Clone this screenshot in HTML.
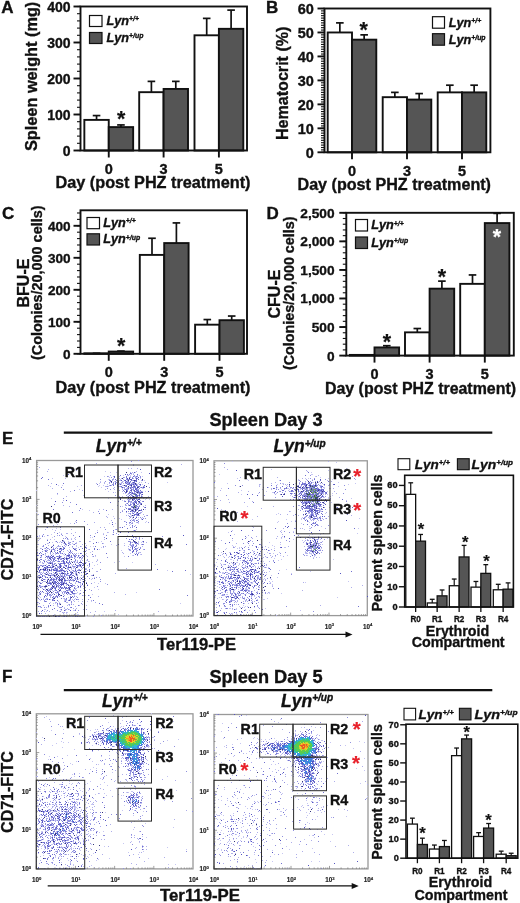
<!DOCTYPE html>
<html><head><meta charset="utf-8"><title>Figure</title>
<style>html,body{margin:0;padding:0;background:#fff}svg{display:block}text{font-family:'Liberation Sans', Arial, Helvetica, sans-serif;font-weight:bold;stroke:#111;stroke-width:.35px}.t2{stroke:#222;stroke-width:.15px}</style>
</head><body>
<svg width="520" height="903" viewBox="0 0 520 903">
<rect width="520" height="903" fill="#fff"/>
<defs><filter id="soft" x="-2%" y="-2%" width="104%" height="104%"><feGaussianBlur stdDeviation="0.5"/></filter></defs>
<g fill="#111">
<text x="1.2" y="13.4" font-size="17">A</text>
<text x="37.3" y="76.4" font-size="16" text-anchor="middle" transform="rotate(-90 37.3 76.4)" textLength="149.3" lengthAdjust="spacingAndGlyphs">Spleen weight (mg)</text>
<line x1="77" y1="150.5" x2="80.5" y2="150.5" stroke="#111" stroke-width="1.1"/>
<line x1="77" y1="143.3" x2="80.5" y2="143.3" stroke="#111" stroke-width="1.1"/>
<line x1="77" y1="136.1" x2="80.5" y2="136.1" stroke="#111" stroke-width="1.1"/>
<line x1="77" y1="128.9" x2="80.5" y2="128.9" stroke="#111" stroke-width="1.1"/>
<line x1="77" y1="121.7" x2="80.5" y2="121.7" stroke="#111" stroke-width="1.1"/>
<line x1="77" y1="114.5" x2="80.5" y2="114.5" stroke="#111" stroke-width="1.1"/>
<line x1="77" y1="107.3" x2="80.5" y2="107.3" stroke="#111" stroke-width="1.1"/>
<line x1="77" y1="100.1" x2="80.5" y2="100.1" stroke="#111" stroke-width="1.1"/>
<line x1="77" y1="92.9" x2="80.5" y2="92.9" stroke="#111" stroke-width="1.1"/>
<line x1="77" y1="85.7" x2="80.5" y2="85.7" stroke="#111" stroke-width="1.1"/>
<line x1="77" y1="78.5" x2="80.5" y2="78.5" stroke="#111" stroke-width="1.1"/>
<line x1="77" y1="71.3" x2="80.5" y2="71.3" stroke="#111" stroke-width="1.1"/>
<line x1="77" y1="64.1" x2="80.5" y2="64.1" stroke="#111" stroke-width="1.1"/>
<line x1="77" y1="56.9" x2="80.5" y2="56.9" stroke="#111" stroke-width="1.1"/>
<line x1="77" y1="49.7" x2="80.5" y2="49.7" stroke="#111" stroke-width="1.1"/>
<line x1="77" y1="42.5" x2="80.5" y2="42.5" stroke="#111" stroke-width="1.1"/>
<line x1="77" y1="35.3" x2="80.5" y2="35.3" stroke="#111" stroke-width="1.1"/>
<line x1="77" y1="28.1" x2="80.5" y2="28.1" stroke="#111" stroke-width="1.1"/>
<line x1="77" y1="20.9" x2="80.5" y2="20.9" stroke="#111" stroke-width="1.1"/>
<line x1="77" y1="13.7" x2="80.5" y2="13.7" stroke="#111" stroke-width="1.1"/>
<line x1="77" y1="6.5" x2="80.5" y2="6.5" stroke="#111" stroke-width="1.1"/>
<line x1="73.5" y1="150.5" x2="80.5" y2="150.5" stroke="#111" stroke-width="1.9"/>
<text x="70.6" y="155.54" font-size="14" text-anchor="end">0</text>
<line x1="73.5" y1="114.5" x2="80.5" y2="114.5" stroke="#111" stroke-width="1.9"/>
<text x="70.6" y="119.54" font-size="14" text-anchor="end">100</text>
<line x1="73.5" y1="78.5" x2="80.5" y2="78.5" stroke="#111" stroke-width="1.9"/>
<text x="70.6" y="83.54" font-size="14" text-anchor="end">200</text>
<line x1="73.5" y1="42.5" x2="80.5" y2="42.5" stroke="#111" stroke-width="1.9"/>
<text x="70.6" y="47.54" font-size="14" text-anchor="end">300</text>
<line x1="73.5" y1="6.5" x2="80.5" y2="6.5" stroke="#111" stroke-width="1.9"/>
<text x="70.6" y="11.54" font-size="14" text-anchor="end">400</text>
<line x1="96.55" y1="115.58" x2="96.55" y2="119.9" stroke="#111" stroke-width="1.7"/>
<line x1="92.75" y1="115.58" x2="100.35" y2="115.58" stroke="#111" stroke-width="1.7"/>
<rect x="84.35" y="119.9" width="24.4" height="30.6" fill="#fff" stroke="#111" stroke-width="1.9"/>
<line x1="120.95" y1="124.94" x2="120.95" y2="127.1" stroke="#111" stroke-width="1.7"/>
<line x1="117.15" y1="124.94" x2="124.75" y2="124.94" stroke="#111" stroke-width="1.7"/>
<rect x="108.75" y="127.1" width="24.4" height="23.4" fill="#555555" stroke="#111" stroke-width="1.9"/>
<line x1="151.4" y1="81.38" x2="151.4" y2="92.18" stroke="#111" stroke-width="1.7"/>
<line x1="147.6" y1="81.38" x2="155.2" y2="81.38" stroke="#111" stroke-width="1.7"/>
<rect x="139.2" y="92.18" width="24.4" height="58.32" fill="#fff" stroke="#111" stroke-width="1.9"/>
<line x1="175.8" y1="81.38" x2="175.8" y2="88.94" stroke="#111" stroke-width="1.7"/>
<line x1="172" y1="81.38" x2="179.6" y2="81.38" stroke="#111" stroke-width="1.7"/>
<rect x="163.6" y="88.94" width="24.4" height="61.56" fill="#555555" stroke="#111" stroke-width="1.9"/>
<line x1="206.7" y1="18.38" x2="206.7" y2="35.3" stroke="#111" stroke-width="1.7"/>
<line x1="202.9" y1="18.38" x2="210.5" y2="18.38" stroke="#111" stroke-width="1.7"/>
<rect x="194.5" y="35.3" width="24.4" height="115.2" fill="#fff" stroke="#111" stroke-width="1.9"/>
<line x1="231.1" y1="10.1" x2="231.1" y2="28.82" stroke="#111" stroke-width="1.7"/>
<line x1="227.3" y1="10.1" x2="234.9" y2="10.1" stroke="#111" stroke-width="1.7"/>
<rect x="218.9" y="28.82" width="24.4" height="121.68" fill="#555555" stroke="#111" stroke-width="1.9"/>
<rect x="80.5" y="6.5" width="166.5" height="144" fill="none" stroke="#111" stroke-width="1.9"/>
<line x1="108.75" y1="150.5" x2="108.75" y2="157.5" stroke="#111" stroke-width="1.9"/>
<text x="108.75" y="173.8" font-size="14.5" text-anchor="middle">0</text>
<line x1="163.6" y1="150.5" x2="163.6" y2="157.5" stroke="#111" stroke-width="1.9"/>
<text x="163.6" y="173.8" font-size="14.5" text-anchor="middle">3</text>
<line x1="218.9" y1="150.5" x2="218.9" y2="157.5" stroke="#111" stroke-width="1.9"/>
<text x="218.9" y="173.8" font-size="14.5" text-anchor="middle">5</text>
<text x="121.25" y="125.95" font-size="21.47" text-anchor="middle" style="stroke:#111;stroke-width:.2px">*</text>
<rect x="89.5" y="15.5" width="12.5" height="11" fill="#fff" stroke="#111" stroke-width="1.2"/>
<rect x="89.5" y="32.5" width="12.5" height="11" fill="#555555" stroke="#111" stroke-width="1.2"/>
<text x="106.5" y="24.9" font-size="12.7" font-style="italic">Lyn<tspan font-size="6.86" dy="-3.81">+/+</tspan></text>
<text x="106.5" y="41.9" font-size="12.7" font-style="italic">Lyn<tspan font-size="6.86" dy="-3.81">+/up</tspan></text>
<text x="55.5" y="188.3" font-size="16" textLength="195" lengthAdjust="spacingAndGlyphs">Day (post PHZ treatment)</text>
<text x="266" y="13.2" font-size="17">B</text>
<text x="288.2" y="83.3" font-size="16" text-anchor="middle" transform="rotate(-90 288.2 83.3)" textLength="113.4" lengthAdjust="spacingAndGlyphs">Hematocrit (%)</text>
<line x1="321" y1="152.3" x2="324.5" y2="152.3" stroke="#111" stroke-width="1.1"/>
<line x1="321" y1="149.9" x2="324.5" y2="149.9" stroke="#111" stroke-width="1.1"/>
<line x1="321" y1="147.51" x2="324.5" y2="147.51" stroke="#111" stroke-width="1.1"/>
<line x1="321" y1="145.11" x2="324.5" y2="145.11" stroke="#111" stroke-width="1.1"/>
<line x1="321" y1="142.71" x2="324.5" y2="142.71" stroke="#111" stroke-width="1.1"/>
<line x1="321" y1="140.32" x2="324.5" y2="140.32" stroke="#111" stroke-width="1.1"/>
<line x1="321" y1="137.92" x2="324.5" y2="137.92" stroke="#111" stroke-width="1.1"/>
<line x1="321" y1="135.52" x2="324.5" y2="135.52" stroke="#111" stroke-width="1.1"/>
<line x1="321" y1="133.13" x2="324.5" y2="133.13" stroke="#111" stroke-width="1.1"/>
<line x1="321" y1="130.73" x2="324.5" y2="130.73" stroke="#111" stroke-width="1.1"/>
<line x1="321" y1="128.33" x2="324.5" y2="128.33" stroke="#111" stroke-width="1.1"/>
<line x1="321" y1="125.94" x2="324.5" y2="125.94" stroke="#111" stroke-width="1.1"/>
<line x1="321" y1="123.54" x2="324.5" y2="123.54" stroke="#111" stroke-width="1.1"/>
<line x1="321" y1="121.14" x2="324.5" y2="121.14" stroke="#111" stroke-width="1.1"/>
<line x1="321" y1="118.75" x2="324.5" y2="118.75" stroke="#111" stroke-width="1.1"/>
<line x1="321" y1="116.35" x2="324.5" y2="116.35" stroke="#111" stroke-width="1.1"/>
<line x1="321" y1="113.95" x2="324.5" y2="113.95" stroke="#111" stroke-width="1.1"/>
<line x1="321" y1="111.56" x2="324.5" y2="111.56" stroke="#111" stroke-width="1.1"/>
<line x1="321" y1="109.16" x2="324.5" y2="109.16" stroke="#111" stroke-width="1.1"/>
<line x1="321" y1="106.76" x2="324.5" y2="106.76" stroke="#111" stroke-width="1.1"/>
<line x1="321" y1="104.37" x2="324.5" y2="104.37" stroke="#111" stroke-width="1.1"/>
<line x1="321" y1="101.97" x2="324.5" y2="101.97" stroke="#111" stroke-width="1.1"/>
<line x1="321" y1="99.57" x2="324.5" y2="99.57" stroke="#111" stroke-width="1.1"/>
<line x1="321" y1="97.18" x2="324.5" y2="97.18" stroke="#111" stroke-width="1.1"/>
<line x1="321" y1="94.78" x2="324.5" y2="94.78" stroke="#111" stroke-width="1.1"/>
<line x1="321" y1="92.38" x2="324.5" y2="92.38" stroke="#111" stroke-width="1.1"/>
<line x1="321" y1="89.99" x2="324.5" y2="89.99" stroke="#111" stroke-width="1.1"/>
<line x1="321" y1="87.59" x2="324.5" y2="87.59" stroke="#111" stroke-width="1.1"/>
<line x1="321" y1="85.19" x2="324.5" y2="85.19" stroke="#111" stroke-width="1.1"/>
<line x1="321" y1="82.8" x2="324.5" y2="82.8" stroke="#111" stroke-width="1.1"/>
<line x1="321" y1="80.4" x2="324.5" y2="80.4" stroke="#111" stroke-width="1.1"/>
<line x1="321" y1="78" x2="324.5" y2="78" stroke="#111" stroke-width="1.1"/>
<line x1="321" y1="75.61" x2="324.5" y2="75.61" stroke="#111" stroke-width="1.1"/>
<line x1="321" y1="73.21" x2="324.5" y2="73.21" stroke="#111" stroke-width="1.1"/>
<line x1="321" y1="70.81" x2="324.5" y2="70.81" stroke="#111" stroke-width="1.1"/>
<line x1="321" y1="68.42" x2="324.5" y2="68.42" stroke="#111" stroke-width="1.1"/>
<line x1="321" y1="66.02" x2="324.5" y2="66.02" stroke="#111" stroke-width="1.1"/>
<line x1="321" y1="63.62" x2="324.5" y2="63.62" stroke="#111" stroke-width="1.1"/>
<line x1="321" y1="61.23" x2="324.5" y2="61.23" stroke="#111" stroke-width="1.1"/>
<line x1="321" y1="58.83" x2="324.5" y2="58.83" stroke="#111" stroke-width="1.1"/>
<line x1="321" y1="56.43" x2="324.5" y2="56.43" stroke="#111" stroke-width="1.1"/>
<line x1="321" y1="54.04" x2="324.5" y2="54.04" stroke="#111" stroke-width="1.1"/>
<line x1="321" y1="51.64" x2="324.5" y2="51.64" stroke="#111" stroke-width="1.1"/>
<line x1="321" y1="49.24" x2="324.5" y2="49.24" stroke="#111" stroke-width="1.1"/>
<line x1="321" y1="46.85" x2="324.5" y2="46.85" stroke="#111" stroke-width="1.1"/>
<line x1="321" y1="44.45" x2="324.5" y2="44.45" stroke="#111" stroke-width="1.1"/>
<line x1="321" y1="42.05" x2="324.5" y2="42.05" stroke="#111" stroke-width="1.1"/>
<line x1="321" y1="39.66" x2="324.5" y2="39.66" stroke="#111" stroke-width="1.1"/>
<line x1="321" y1="37.26" x2="324.5" y2="37.26" stroke="#111" stroke-width="1.1"/>
<line x1="321" y1="34.86" x2="324.5" y2="34.86" stroke="#111" stroke-width="1.1"/>
<line x1="321" y1="32.47" x2="324.5" y2="32.47" stroke="#111" stroke-width="1.1"/>
<line x1="321" y1="30.07" x2="324.5" y2="30.07" stroke="#111" stroke-width="1.1"/>
<line x1="321" y1="27.67" x2="324.5" y2="27.67" stroke="#111" stroke-width="1.1"/>
<line x1="321" y1="25.28" x2="324.5" y2="25.28" stroke="#111" stroke-width="1.1"/>
<line x1="321" y1="22.88" x2="324.5" y2="22.88" stroke="#111" stroke-width="1.1"/>
<line x1="321" y1="20.48" x2="324.5" y2="20.48" stroke="#111" stroke-width="1.1"/>
<line x1="321" y1="18.09" x2="324.5" y2="18.09" stroke="#111" stroke-width="1.1"/>
<line x1="321" y1="15.69" x2="324.5" y2="15.69" stroke="#111" stroke-width="1.1"/>
<line x1="321" y1="13.29" x2="324.5" y2="13.29" stroke="#111" stroke-width="1.1"/>
<line x1="321" y1="10.9" x2="324.5" y2="10.9" stroke="#111" stroke-width="1.1"/>
<line x1="321" y1="8.5" x2="324.5" y2="8.5" stroke="#111" stroke-width="1.1"/>
<line x1="317.5" y1="152.3" x2="324.5" y2="152.3" stroke="#111" stroke-width="1.9"/>
<text x="313.8" y="157.52" font-size="14.5" text-anchor="end">0</text>
<line x1="317.5" y1="128.33" x2="324.5" y2="128.33" stroke="#111" stroke-width="1.9"/>
<text x="313.8" y="133.55" font-size="14.5" text-anchor="end">10</text>
<line x1="317.5" y1="104.37" x2="324.5" y2="104.37" stroke="#111" stroke-width="1.9"/>
<text x="313.8" y="109.59" font-size="14.5" text-anchor="end">20</text>
<line x1="317.5" y1="80.4" x2="324.5" y2="80.4" stroke="#111" stroke-width="1.9"/>
<text x="313.8" y="85.62" font-size="14.5" text-anchor="end">30</text>
<line x1="317.5" y1="56.43" x2="324.5" y2="56.43" stroke="#111" stroke-width="1.9"/>
<text x="313.8" y="61.65" font-size="14.5" text-anchor="end">40</text>
<line x1="317.5" y1="32.47" x2="324.5" y2="32.47" stroke="#111" stroke-width="1.9"/>
<text x="313.8" y="37.69" font-size="14.5" text-anchor="end">50</text>
<line x1="317.5" y1="8.5" x2="324.5" y2="8.5" stroke="#111" stroke-width="1.9"/>
<text x="313.8" y="13.72" font-size="14.5" text-anchor="end">60</text>
<line x1="339.85" y1="22.88" x2="339.85" y2="32.47" stroke="#111" stroke-width="1.7"/>
<line x1="336.05" y1="22.88" x2="343.65" y2="22.88" stroke="#111" stroke-width="1.7"/>
<rect x="327.7" y="32.47" width="24.3" height="119.83" fill="#fff" stroke="#111" stroke-width="1.9"/>
<line x1="364.15" y1="34.86" x2="364.15" y2="39.66" stroke="#111" stroke-width="1.7"/>
<line x1="360.35" y1="34.86" x2="367.95" y2="34.86" stroke="#111" stroke-width="1.7"/>
<rect x="352" y="39.66" width="24.3" height="112.64" fill="#555555" stroke="#111" stroke-width="1.9"/>
<line x1="394.85" y1="92.38" x2="394.85" y2="97.18" stroke="#111" stroke-width="1.7"/>
<line x1="391.05" y1="92.38" x2="398.65" y2="92.38" stroke="#111" stroke-width="1.7"/>
<rect x="382.7" y="97.18" width="24.3" height="55.12" fill="#fff" stroke="#111" stroke-width="1.9"/>
<line x1="419.15" y1="93.58" x2="419.15" y2="99.57" stroke="#111" stroke-width="1.7"/>
<line x1="415.35" y1="93.58" x2="422.95" y2="93.58" stroke="#111" stroke-width="1.7"/>
<rect x="407" y="99.57" width="24.3" height="52.73" fill="#555555" stroke="#111" stroke-width="1.9"/>
<line x1="449.85" y1="85.19" x2="449.85" y2="92.38" stroke="#111" stroke-width="1.7"/>
<line x1="446.05" y1="85.19" x2="453.65" y2="85.19" stroke="#111" stroke-width="1.7"/>
<rect x="437.7" y="92.38" width="24.3" height="59.92" fill="#fff" stroke="#111" stroke-width="1.9"/>
<line x1="474.15" y1="85.19" x2="474.15" y2="92.38" stroke="#111" stroke-width="1.7"/>
<line x1="470.35" y1="85.19" x2="477.95" y2="85.19" stroke="#111" stroke-width="1.7"/>
<rect x="462" y="92.38" width="24.3" height="59.92" fill="#555555" stroke="#111" stroke-width="1.9"/>
<rect x="324.5" y="8.5" width="165.9" height="143.8" fill="none" stroke="#111" stroke-width="1.9"/>
<line x1="352" y1="152.3" x2="352" y2="159.3" stroke="#111" stroke-width="1.9"/>
<text x="352" y="176.2" font-size="14.5" text-anchor="middle">0</text>
<line x1="407" y1="152.3" x2="407" y2="159.3" stroke="#111" stroke-width="1.9"/>
<text x="407" y="176.2" font-size="14.5" text-anchor="middle">3</text>
<line x1="462" y1="152.3" x2="462" y2="159.3" stroke="#111" stroke-width="1.9"/>
<text x="462" y="176.2" font-size="14.5" text-anchor="middle">5</text>
<text x="363.75" y="36.95" font-size="21.47" text-anchor="middle" style="stroke:#111;stroke-width:.2px">*</text>
<rect x="432.5" y="16.7" width="12" height="11.5" fill="#fff" stroke="#111" stroke-width="1.2"/>
<rect x="432.5" y="33.7" width="12" height="11.5" fill="#555555" stroke="#111" stroke-width="1.2"/>
<text x="448.7" y="26.6" font-size="12.7" font-style="italic">Lyn<tspan font-size="6.86" dy="-3.81">+/+</tspan></text>
<text x="448.7" y="43.6" font-size="12.7" font-style="italic">Lyn<tspan font-size="6.86" dy="-3.81">+/up</tspan></text>
<text x="297.5" y="189.5" font-size="16" textLength="193.5" lengthAdjust="spacingAndGlyphs">Day (post PHZ treatment)</text>
<text x="2" y="219" font-size="17">C</text>
<text x="29" y="283" font-size="16" text-anchor="middle" transform="rotate(-90 29 283)">BFU-E</text>
<text x="42.4" y="282.8" font-size="14" text-anchor="middle" transform="rotate(-90 42.4 282.8)" textLength="154.5" lengthAdjust="spacingAndGlyphs">(Colonies/20,000 cells)</text>
<line x1="77" y1="353.8" x2="80.5" y2="353.8" stroke="#111" stroke-width="1.1"/>
<line x1="77" y1="347.4" x2="80.5" y2="347.4" stroke="#111" stroke-width="1.1"/>
<line x1="77" y1="341" x2="80.5" y2="341" stroke="#111" stroke-width="1.1"/>
<line x1="77" y1="334.6" x2="80.5" y2="334.6" stroke="#111" stroke-width="1.1"/>
<line x1="77" y1="328.2" x2="80.5" y2="328.2" stroke="#111" stroke-width="1.1"/>
<line x1="77" y1="321.8" x2="80.5" y2="321.8" stroke="#111" stroke-width="1.1"/>
<line x1="77" y1="315.4" x2="80.5" y2="315.4" stroke="#111" stroke-width="1.1"/>
<line x1="77" y1="309" x2="80.5" y2="309" stroke="#111" stroke-width="1.1"/>
<line x1="77" y1="302.6" x2="80.5" y2="302.6" stroke="#111" stroke-width="1.1"/>
<line x1="77" y1="296.2" x2="80.5" y2="296.2" stroke="#111" stroke-width="1.1"/>
<line x1="77" y1="289.79" x2="80.5" y2="289.79" stroke="#111" stroke-width="1.1"/>
<line x1="77" y1="283.39" x2="80.5" y2="283.39" stroke="#111" stroke-width="1.1"/>
<line x1="77" y1="276.99" x2="80.5" y2="276.99" stroke="#111" stroke-width="1.1"/>
<line x1="77" y1="270.59" x2="80.5" y2="270.59" stroke="#111" stroke-width="1.1"/>
<line x1="77" y1="264.19" x2="80.5" y2="264.19" stroke="#111" stroke-width="1.1"/>
<line x1="77" y1="257.79" x2="80.5" y2="257.79" stroke="#111" stroke-width="1.1"/>
<line x1="77" y1="251.39" x2="80.5" y2="251.39" stroke="#111" stroke-width="1.1"/>
<line x1="77" y1="244.99" x2="80.5" y2="244.99" stroke="#111" stroke-width="1.1"/>
<line x1="77" y1="238.59" x2="80.5" y2="238.59" stroke="#111" stroke-width="1.1"/>
<line x1="77" y1="232.19" x2="80.5" y2="232.19" stroke="#111" stroke-width="1.1"/>
<line x1="77" y1="225.79" x2="80.5" y2="225.79" stroke="#111" stroke-width="1.1"/>
<line x1="77" y1="219.39" x2="80.5" y2="219.39" stroke="#111" stroke-width="1.1"/>
<line x1="77" y1="212.99" x2="80.5" y2="212.99" stroke="#111" stroke-width="1.1"/>
<line x1="73.5" y1="353.8" x2="80.5" y2="353.8" stroke="#111" stroke-width="1.9"/>
<text x="70.6" y="358.7" font-size="13.6" text-anchor="end">0</text>
<line x1="73.5" y1="321.8" x2="80.5" y2="321.8" stroke="#111" stroke-width="1.9"/>
<text x="70.6" y="326.69" font-size="13.6" text-anchor="end">100</text>
<line x1="73.5" y1="289.79" x2="80.5" y2="289.79" stroke="#111" stroke-width="1.9"/>
<text x="70.6" y="294.69" font-size="13.6" text-anchor="end">200</text>
<line x1="73.5" y1="257.79" x2="80.5" y2="257.79" stroke="#111" stroke-width="1.9"/>
<text x="70.6" y="262.69" font-size="13.6" text-anchor="end">300</text>
<line x1="73.5" y1="225.79" x2="80.5" y2="225.79" stroke="#111" stroke-width="1.9"/>
<text x="70.6" y="230.69" font-size="13.6" text-anchor="end">400</text>
<line x1="96.55" y1="353.32" x2="96.55" y2="353.32" stroke="#111" stroke-width="1.7"/>
<line x1="92.75" y1="353.32" x2="100.35" y2="353.32" stroke="#111" stroke-width="1.7"/>
<rect x="84.35" y="353.32" width="24.4" height="0.48" fill="#fff" stroke="#111" stroke-width="1.9"/>
<line x1="120.95" y1="351.08" x2="120.95" y2="351.56" stroke="#111" stroke-width="1.7"/>
<line x1="117.15" y1="351.08" x2="124.75" y2="351.08" stroke="#111" stroke-width="1.7"/>
<rect x="108.75" y="351.56" width="24.4" height="2.24" fill="#555555" stroke="#111" stroke-width="1.9"/>
<line x1="152" y1="238.27" x2="152" y2="254.91" stroke="#111" stroke-width="1.7"/>
<line x1="148.2" y1="238.27" x2="155.8" y2="238.27" stroke="#111" stroke-width="1.7"/>
<rect x="139.8" y="254.91" width="24.4" height="98.89" fill="#fff" stroke="#111" stroke-width="1.9"/>
<line x1="176.4" y1="222.91" x2="176.4" y2="243.07" stroke="#111" stroke-width="1.7"/>
<line x1="172.6" y1="222.91" x2="180.2" y2="222.91" stroke="#111" stroke-width="1.7"/>
<rect x="164.2" y="243.07" width="24.4" height="110.73" fill="#555555" stroke="#111" stroke-width="1.9"/>
<line x1="207.3" y1="319.56" x2="207.3" y2="324.68" stroke="#111" stroke-width="1.7"/>
<line x1="203.5" y1="319.56" x2="211.1" y2="319.56" stroke="#111" stroke-width="1.7"/>
<rect x="195.1" y="324.68" width="24.4" height="29.12" fill="#fff" stroke="#111" stroke-width="1.9"/>
<line x1="231.7" y1="316.04" x2="231.7" y2="320.2" stroke="#111" stroke-width="1.7"/>
<line x1="227.9" y1="316.04" x2="235.5" y2="316.04" stroke="#111" stroke-width="1.7"/>
<rect x="219.5" y="320.2" width="24.4" height="33.6" fill="#555555" stroke="#111" stroke-width="1.9"/>
<rect x="80.5" y="210.3" width="166.5" height="143.5" fill="none" stroke="#111" stroke-width="1.9"/>
<line x1="108.75" y1="353.8" x2="108.75" y2="360.8" stroke="#111" stroke-width="1.9"/>
<text x="108.75" y="377" font-size="14.5" text-anchor="middle">0</text>
<line x1="164.2" y1="353.8" x2="164.2" y2="360.8" stroke="#111" stroke-width="1.9"/>
<text x="164.2" y="377" font-size="14.5" text-anchor="middle">3</text>
<line x1="219.5" y1="353.8" x2="219.5" y2="360.8" stroke="#111" stroke-width="1.9"/>
<text x="219.5" y="377" font-size="14.5" text-anchor="middle">5</text>
<text x="121.25" y="352.95" font-size="21.47" text-anchor="middle" style="stroke:#111;stroke-width:.2px">*</text>
<rect x="87" y="217.5" width="12.5" height="11.2" fill="#fff" stroke="#111" stroke-width="1.2"/>
<rect x="87" y="233.8" width="12.5" height="11.2" fill="#555555" stroke="#111" stroke-width="1.2"/>
<text x="103.3" y="227.1" font-size="12.7" font-style="italic">Lyn<tspan font-size="6.86" dy="-3.81">+/+</tspan></text>
<text x="103.3" y="243.4" font-size="12.7" font-style="italic">Lyn<tspan font-size="6.86" dy="-3.81">+/up</tspan></text>
<text x="55.5" y="392.5" font-size="16" textLength="195" lengthAdjust="spacingAndGlyphs">Day (post PHZ treatment)</text>
<text x="266.6" y="218.6" font-size="17">D</text>
<text x="280" y="294" font-size="16" text-anchor="middle" transform="rotate(-90 280 294)">CFU-E</text>
<text x="293.7" y="293.3" font-size="14" text-anchor="middle" transform="rotate(-90 293.7 293.3)" textLength="153.5" lengthAdjust="spacingAndGlyphs">(Colonies/20,000 cells)</text>
<line x1="342.8" y1="355.6" x2="346.3" y2="355.6" stroke="#111" stroke-width="1.1"/>
<line x1="342.8" y1="349.89" x2="346.3" y2="349.89" stroke="#111" stroke-width="1.1"/>
<line x1="342.8" y1="344.18" x2="346.3" y2="344.18" stroke="#111" stroke-width="1.1"/>
<line x1="342.8" y1="338.46" x2="346.3" y2="338.46" stroke="#111" stroke-width="1.1"/>
<line x1="342.8" y1="332.75" x2="346.3" y2="332.75" stroke="#111" stroke-width="1.1"/>
<line x1="342.8" y1="327.04" x2="346.3" y2="327.04" stroke="#111" stroke-width="1.1"/>
<line x1="342.8" y1="321.33" x2="346.3" y2="321.33" stroke="#111" stroke-width="1.1"/>
<line x1="342.8" y1="315.62" x2="346.3" y2="315.62" stroke="#111" stroke-width="1.1"/>
<line x1="342.8" y1="309.9" x2="346.3" y2="309.9" stroke="#111" stroke-width="1.1"/>
<line x1="342.8" y1="304.19" x2="346.3" y2="304.19" stroke="#111" stroke-width="1.1"/>
<line x1="342.8" y1="298.48" x2="346.3" y2="298.48" stroke="#111" stroke-width="1.1"/>
<line x1="342.8" y1="292.77" x2="346.3" y2="292.77" stroke="#111" stroke-width="1.1"/>
<line x1="342.8" y1="287.06" x2="346.3" y2="287.06" stroke="#111" stroke-width="1.1"/>
<line x1="342.8" y1="281.34" x2="346.3" y2="281.34" stroke="#111" stroke-width="1.1"/>
<line x1="342.8" y1="275.63" x2="346.3" y2="275.63" stroke="#111" stroke-width="1.1"/>
<line x1="342.8" y1="269.92" x2="346.3" y2="269.92" stroke="#111" stroke-width="1.1"/>
<line x1="342.8" y1="264.21" x2="346.3" y2="264.21" stroke="#111" stroke-width="1.1"/>
<line x1="342.8" y1="258.5" x2="346.3" y2="258.5" stroke="#111" stroke-width="1.1"/>
<line x1="342.8" y1="252.78" x2="346.3" y2="252.78" stroke="#111" stroke-width="1.1"/>
<line x1="342.8" y1="247.07" x2="346.3" y2="247.07" stroke="#111" stroke-width="1.1"/>
<line x1="342.8" y1="241.36" x2="346.3" y2="241.36" stroke="#111" stroke-width="1.1"/>
<line x1="342.8" y1="235.65" x2="346.3" y2="235.65" stroke="#111" stroke-width="1.1"/>
<line x1="342.8" y1="229.94" x2="346.3" y2="229.94" stroke="#111" stroke-width="1.1"/>
<line x1="342.8" y1="224.22" x2="346.3" y2="224.22" stroke="#111" stroke-width="1.1"/>
<line x1="342.8" y1="218.51" x2="346.3" y2="218.51" stroke="#111" stroke-width="1.1"/>
<line x1="342.8" y1="212.8" x2="346.3" y2="212.8" stroke="#111" stroke-width="1.1"/>
<line x1="339.3" y1="355.6" x2="346.3" y2="355.6" stroke="#111" stroke-width="1.9"/>
<text x="334.6" y="360.53" font-size="13.7" text-anchor="end">0</text>
<line x1="339.3" y1="327.04" x2="346.3" y2="327.04" stroke="#111" stroke-width="1.9"/>
<text x="334.6" y="331.97" font-size="13.7" text-anchor="end">500</text>
<line x1="339.3" y1="298.48" x2="346.3" y2="298.48" stroke="#111" stroke-width="1.9"/>
<text x="334.6" y="303.41" font-size="13.7" text-anchor="end">1,000</text>
<line x1="339.3" y1="269.92" x2="346.3" y2="269.92" stroke="#111" stroke-width="1.9"/>
<text x="334.6" y="274.85" font-size="13.7" text-anchor="end">1,500</text>
<line x1="339.3" y1="241.36" x2="346.3" y2="241.36" stroke="#111" stroke-width="1.9"/>
<text x="334.6" y="246.29" font-size="13.7" text-anchor="end">2,000</text>
<line x1="339.3" y1="212.8" x2="346.3" y2="212.8" stroke="#111" stroke-width="1.9"/>
<text x="334.6" y="217.73" font-size="13.7" text-anchor="end">2,500</text>
<line x1="362.2" y1="354.91" x2="362.2" y2="354.91" stroke="#111" stroke-width="1.7"/>
<line x1="358.4" y1="354.91" x2="366" y2="354.91" stroke="#111" stroke-width="1.7"/>
<rect x="349.9" y="354.91" width="24.6" height="0.69" fill="#fff" stroke="#111" stroke-width="1.9"/>
<line x1="386.8" y1="345.72" x2="386.8" y2="347.43" stroke="#111" stroke-width="1.7"/>
<line x1="383" y1="345.72" x2="390.6" y2="345.72" stroke="#111" stroke-width="1.7"/>
<rect x="374.5" y="347.43" width="24.6" height="8.17" fill="#555555" stroke="#111" stroke-width="1.9"/>
<line x1="417.3" y1="328.53" x2="417.3" y2="332.35" stroke="#111" stroke-width="1.7"/>
<line x1="413.5" y1="328.53" x2="421.1" y2="328.53" stroke="#111" stroke-width="1.7"/>
<rect x="405" y="332.35" width="24.6" height="23.25" fill="#fff" stroke="#111" stroke-width="1.9"/>
<line x1="441.9" y1="281.12" x2="441.9" y2="288.66" stroke="#111" stroke-width="1.7"/>
<line x1="438.1" y1="281.12" x2="445.7" y2="281.12" stroke="#111" stroke-width="1.7"/>
<rect x="429.6" y="288.66" width="24.6" height="66.94" fill="#555555" stroke="#111" stroke-width="1.9"/>
<line x1="472.5" y1="274.95" x2="472.5" y2="283.86" stroke="#111" stroke-width="1.7"/>
<line x1="468.7" y1="274.95" x2="476.3" y2="274.95" stroke="#111" stroke-width="1.7"/>
<rect x="460.2" y="283.86" width="24.6" height="71.74" fill="#fff" stroke="#111" stroke-width="1.9"/>
<line x1="497.1" y1="213.37" x2="497.1" y2="223.08" stroke="#111" stroke-width="1.7"/>
<line x1="493.3" y1="213.37" x2="500.9" y2="213.37" stroke="#111" stroke-width="1.7"/>
<rect x="484.8" y="223.08" width="24.6" height="132.52" fill="#555555" stroke="#111" stroke-width="1.9"/>
<rect x="346.3" y="212.8" width="167.5" height="142.8" fill="none" stroke="#111" stroke-width="1.9"/>
<line x1="374.5" y1="355.6" x2="374.5" y2="362.6" stroke="#111" stroke-width="1.9"/>
<text x="374.5" y="379" font-size="14.5" text-anchor="middle">0</text>
<line x1="429.6" y1="355.6" x2="429.6" y2="362.6" stroke="#111" stroke-width="1.9"/>
<text x="429.6" y="379" font-size="14.5" text-anchor="middle">3</text>
<line x1="484.8" y1="355.6" x2="484.8" y2="362.6" stroke="#111" stroke-width="1.9"/>
<text x="484.8" y="379" font-size="14.5" text-anchor="middle">5</text>
<text x="387" y="348.95" font-size="21.47" text-anchor="middle" style="stroke:#111;stroke-width:.2px">*</text>
<text x="442" y="283.95" font-size="21.47" text-anchor="middle" style="stroke:#111;stroke-width:.2px">*</text>
<text x="497" y="244.15" font-size="21.47" text-anchor="middle" fill="#fff" style="stroke:#fff;stroke-width:.2px">*</text>
<rect x="355.5" y="219.5" width="12" height="11.5" fill="#fff" stroke="#111" stroke-width="1.2"/>
<rect x="355.5" y="237" width="12" height="11.5" fill="#555555" stroke="#111" stroke-width="1.2"/>
<text x="371.3" y="229.4" font-size="12.7" font-style="italic">Lyn<tspan font-size="6.86" dy="-3.81">+/+</tspan></text>
<text x="371.3" y="246.9" font-size="12.7" font-style="italic">Lyn<tspan font-size="6.86" dy="-3.81">+/up</tspan></text>
<text x="325" y="394.2" font-size="16" textLength="191" lengthAdjust="spacingAndGlyphs">Day (post PHZ treatment)</text>
<text x="2" y="444" font-size="17">E</text>
<text x="209.4" y="425.5" font-size="18" textLength="113.2" lengthAdjust="spacingAndGlyphs">Spleen Day 3</text>
<line x1="63.8" y1="432.6" x2="492.3" y2="432.6" stroke="#111" stroke-width="2.1"/>
<text x="95.8" y="451.6" font-size="17.5" font-style="italic">Lyn<tspan font-size="10.15" dy="-5.6">+/+</tspan></text>
<text x="273.5" y="452.2" font-size="17.5" font-style="italic">Lyn<tspan font-size="10.15" dy="-5.6">+/up</tspan></text>
<text x="12.7" y="539.5" font-size="16" text-anchor="middle" transform="rotate(-90 12.7 539.5)">CD71-FITC</text>
<rect x="36.6" y="460.5" width="156.4" height="155.5" fill="#fff" stroke="#999" stroke-width="1.3"/>
<g filter="url(#soft)" fill="none" stroke-width="1">
<path d="M36 568.5h1M36 569.5h1M36 570.5h1M36 577.5h1M36 584.5h1M36 586.5h1M36 587.5h1M36 597.5h1M36 598.5h1M36 600.5h1M36 604.5h1M36 606.5h1M36 611.5h1M36 613.5h1M36 616.5h1M37 536.5h1M37 552.5h1M37 560.5h1M37 582.5h1M37 602.5h1M38 568.5h1M38 569.5h1M38 581.5h1M38 598.5h1M38 606.5h1M39 566.5h1M39 567.5h1M39 571.5h1M39 575.5h1M39 578.5h1M39 585.5h1M39 592.5h1M40 552.5h1M40 557.5h1M40 587.5h1M40 591.5h1M40 593.5h1M40 594.5h1M41 478.5h1M41 559.5h1M41 574.5h1M41 580.5h1M41 599.5h1M42 477.5h1M42 536.5h1M42 575.5h1M42 578.5h1M43 554.5h1M43 579.5h1M44 569.5h1M44 579.5h1M45 550.5h1M45 551.5h1M45 567.5h1M45 570.5h1M45 577.5h1M45 601.5h1M46 551.5h1M46 591.5h1M47 527.5h1M47 540.5h1M47 570.5h1M47 583.5h1M47 593.5h1M47 599.5h1M48 479.5h1M48 565.5h1M48 567.5h1M48 575.5h1M48 583.5h1M48 585.5h1M48 606.5h1M49 557.5h1M49 567.5h1M49 575.5h1M50 556.5h1M50 559.5h1M50 579.5h1M50 580.5h1M50 589.5h1M51 569.5h1M51 570.5h1M51 573.5h1M51 579.5h1M51 583.5h1M51 587.5h1M52 546.5h1M52 563.5h1M52 564.5h1M52 566.5h1M52 597.5h1M52 599.5h1M52 600.5h1M52 609.5h1M53 509.5h1M53 549.5h1M53 559.5h1M53 560.5h1M53 570.5h1M53 579.5h1M53 584.5h1M53 587.5h1M53 596.5h1M54 559.5h1M54 579.5h1M54 581.5h1M54 582.5h1M54 583.5h1M54 608.5h1M55 560.5h1M55 565.5h1M55 570.5h1M55 573.5h1M55 582.5h1M55 583.5h1M55 589.5h1M55 592.5h1M56 541.5h1M56 553.5h1M56 569.5h1M56 572.5h1M56 579.5h1M56 584.5h1M56 585.5h1M56 590.5h1M56 616.5h1M57 533.5h1M57 556.5h1M57 569.5h1M57 570.5h1M57 574.5h1M57 581.5h1M57 592.5h1M57 596.5h1M57 597.5h1M57 600.5h1M57 603.5h1M58 559.5h1M58 561.5h1M58 577.5h1M58 579.5h1M58 582.5h1M58 586.5h1M58 589.5h1M58 616.5h1M59 549.5h1M59 551.5h1M59 555.5h1M59 556.5h1M59 561.5h1M59 566.5h1M59 568.5h1M59 570.5h1M59 571.5h1M59 576.5h1M59 579.5h1M59 616.5h1M60 527.5h1M60 556.5h1M60 563.5h1M60 564.5h1M60 570.5h1M60 582.5h1M60 587.5h1M60 589.5h1M60 595.5h1M61 548.5h1M61 550.5h1M61 563.5h1M61 568.5h1M61 578.5h1M61 579.5h1M61 581.5h1M61 582.5h1M61 583.5h1M61 598.5h1M61 609.5h1M62 546.5h1M62 553.5h1M62 558.5h1M62 570.5h1M62 572.5h1M62 581.5h1M62 587.5h1M62 606.5h1M63 483.5h1M63 547.5h1M63 562.5h1M63 563.5h1M63 588.5h1M64 559.5h1M64 562.5h1M64 575.5h1M64 579.5h1M64 582.5h1M64 586.5h1M64 616.5h1M65 543.5h1M65 544.5h1M65 565.5h1M65 571.5h1M65 583.5h1M65 591.5h1M65 601.5h1M66 566.5h1M66 590.5h1M66 598.5h1M66 616.5h1M67 538.5h1M67 578.5h1M67 584.5h1M67 588.5h1M67 590.5h1M68 474.5h1M68 543.5h1M68 556.5h1M68 563.5h1M68 566.5h1M68 593.5h1M69 561.5h1M69 562.5h1M69 575.5h1M69 578.5h1M69 580.5h1M69 582.5h1M69 587.5h1M70 550.5h1M70 551.5h1M70 572.5h1M70 594.5h1M70 597.5h1M70 598.5h1M71 555.5h1M71 556.5h1M71 572.5h1M71 574.5h1M71 578.5h1M71 586.5h1M71 591.5h1M71 592.5h1M71 607.5h1M72 512.5h1M72 553.5h1M72 575.5h1M72 586.5h1M72 591.5h1M72 593.5h1M72 596.5h1M73 575.5h1M73 580.5h1M73 593.5h1M74 490.5h1M74 544.5h1M74 555.5h1M74 556.5h1M74 587.5h1M74 588.5h1M74 593.5h1M75 549.5h1M75 556.5h1M75 560.5h1M75 568.5h1M75 579.5h1M75 610.5h1M75 616.5h1M76 504.5h1M76 520.5h1M76 550.5h1M76 565.5h1M76 571.5h1M76 573.5h1M76 599.5h1M77 565.5h1M77 566.5h1M77 567.5h1M77 579.5h1M77 616.5h1M78 555.5h1M78 581.5h1M78 605.5h1M79 549.5h1M79 557.5h1M79 564.5h1M79 570.5h1M79 582.5h1M80 508.5h1M80 582.5h1M80 593.5h1M81 567.5h1M81 572.5h1M82 548.5h1M82 563.5h1M82 583.5h1M83 556.5h1M83 564.5h1M83 579.5h1M84 575.5h1M84 582.5h1M85 551.5h1M85 574.5h1M86 573.5h1M88 595.5h1M89 529.5h1M89 563.5h1M89 569.5h1M90 597.5h1M92 554.5h1M93 543.5h1M93 600.5h1M94 548.5h1M94 549.5h1M94 578.5h1M95 546.5h1M97 484.5h1M97 532.5h1M99 513.5h1M99 603.5h1M102 604.5h1M106 510.5h1M106 553.5h1M110 480.5h1M110 485.5h1M110 502.5h1M110 541.5h1M112 522.5h1M113 485.5h1M113 530.5h1M113 534.5h1M114 477.5h1M115 479.5h1M118 481.5h1M118 544.5h1M120 475.5h1M121 486.5h1M123 490.5h1M124 480.5h1M124 491.5h1M125 489.5h1M125 492.5h1M125 501.5h1M126 476.5h1M126 477.5h1M126 481.5h1M126 483.5h1M126 485.5h1M126 486.5h1M126 508.5h1M126 522.5h1M127 474.5h1M127 479.5h1M127 482.5h1M127 484.5h1M127 491.5h1M127 503.5h1M127 528.5h1M128 481.5h1M128 484.5h1M128 496.5h1M128 497.5h1M128 501.5h1M128 509.5h1M128 532.5h1M128 556.5h1M129 477.5h1M129 482.5h1M129 492.5h1M129 495.5h1M129 497.5h1M129 516.5h1M129 539.5h1M129 549.5h1M130 473.5h1M130 481.5h1M130 485.5h1M130 487.5h1M130 488.5h1M130 490.5h1M130 494.5h1M130 498.5h1M130 504.5h1M130 508.5h1M130 509.5h1M130 520.5h1M130 522.5h1M130 542.5h1M131 480.5h1M131 484.5h1M131 486.5h1M131 489.5h1M131 498.5h1M131 506.5h1M131 510.5h1M131 539.5h1M132 478.5h1M132 487.5h1M132 492.5h1M132 496.5h1M132 500.5h1M132 507.5h1M132 525.5h1M132 535.5h1M132 546.5h1M132 551.5h1M132 552.5h1M133 476.5h1M133 480.5h1M133 486.5h1M133 493.5h1M133 503.5h1M133 504.5h1M133 508.5h1M133 511.5h1M133 513.5h1M133 537.5h1M133 545.5h1M133 551.5h1M134 481.5h1M134 482.5h1M134 491.5h1M134 493.5h1M134 499.5h1M134 501.5h1M134 503.5h1M134 505.5h1M134 514.5h1M134 515.5h1M134 530.5h1M134 542.5h1M134 547.5h1M135 487.5h1M135 488.5h1M135 491.5h1M135 498.5h1M135 500.5h1M135 501.5h1M135 506.5h1M135 511.5h1M135 514.5h1M135 518.5h1M135 543.5h1M135 546.5h1M135 548.5h1M136 476.5h1M136 479.5h1M136 480.5h1M136 484.5h1M136 488.5h1M136 489.5h1M136 490.5h1M136 492.5h1M136 495.5h1M136 496.5h1M136 498.5h1M136 502.5h1M136 505.5h1M136 514.5h1M136 520.5h1M136 545.5h1M136 551.5h1M137 474.5h1M137 478.5h1M137 490.5h1M137 495.5h1M137 496.5h1M137 514.5h1M137 515.5h1M137 543.5h1M138 486.5h1M138 492.5h1M138 497.5h1M138 507.5h1M138 513.5h1M138 515.5h1M138 521.5h1M138 536.5h1M139 486.5h1M139 492.5h1M139 493.5h1M139 494.5h1M139 513.5h1M140 490.5h1M140 492.5h1M140 493.5h1M140 510.5h1M141 487.5h1M141 496.5h1M141 503.5h1M141 510.5h1M142 480.5h1M142 544.5h1M143 501.5h1M144 487.5h1M157 569.5h1M159 589.5h1M172 571.5h1M185 570.5h1M186 544.5h1M187 595.5h1" stroke="#7070d0"/>
<path d="M36 551.5h1M36 555.5h1M36 556.5h1M36 560.5h1M36 561.5h1M36 563.5h1M36 564.5h1M36 565.5h1M36 567.5h1M36 571.5h1M36 578.5h1M36 585.5h1M36 589.5h1M36 593.5h1M36 595.5h1M36 602.5h1M36 603.5h1M36 612.5h1M37 567.5h1M37 576.5h1M37 588.5h1M38 524.5h1M38 555.5h1M38 565.5h1M38 567.5h1M38 575.5h1M38 577.5h1M38 595.5h1M39 572.5h1M39 582.5h1M39 603.5h1M40 559.5h1M40 565.5h1M40 576.5h1M40 606.5h1M40 616.5h1M41 553.5h1M41 565.5h1M41 569.5h1M41 577.5h1M41 579.5h1M41 583.5h1M41 607.5h1M41 611.5h1M41 613.5h1M42 551.5h1M42 569.5h1M42 586.5h1M42 616.5h1M43 534.5h1M43 545.5h1M43 546.5h1M43 560.5h1M43 563.5h1M43 565.5h1M43 568.5h1M43 570.5h1M43 592.5h1M44 573.5h1M44 597.5h1M44 600.5h1M44 601.5h1M44 607.5h1M44 616.5h1M45 544.5h1M45 548.5h1M45 553.5h1M45 557.5h1M45 573.5h1M45 574.5h1M45 576.5h1M45 585.5h1M45 587.5h1M45 590.5h1M45 599.5h1M46 561.5h1M46 566.5h1M46 568.5h1M46 585.5h1M46 596.5h1M46 601.5h1M46 616.5h1M47 535.5h1M47 548.5h1M47 550.5h1M47 556.5h1M47 557.5h1M47 562.5h1M47 573.5h1M47 574.5h1M47 582.5h1M47 592.5h1M47 595.5h1M47 610.5h1M48 563.5h1M48 574.5h1M48 590.5h1M48 591.5h1M48 593.5h1M48 605.5h1M49 549.5h1M49 560.5h1M49 562.5h1M49 563.5h1M49 573.5h1M49 580.5h1M49 581.5h1M49 582.5h1M49 589.5h1M49 590.5h1M49 594.5h1M49 595.5h1M49 603.5h1M50 552.5h1M50 553.5h1M50 557.5h1M50 561.5h1M50 562.5h1M50 570.5h1M50 576.5h1M50 582.5h1M50 584.5h1M50 588.5h1M50 594.5h1M51 560.5h1M51 563.5h1M51 567.5h1M51 580.5h1M51 584.5h1M51 595.5h1M52 557.5h1M52 558.5h1M52 562.5h1M52 565.5h1M52 579.5h1M52 581.5h1M52 587.5h1M52 594.5h1M53 548.5h1M53 558.5h1M53 574.5h1M53 575.5h1M53 578.5h1M53 582.5h1M53 591.5h1M53 600.5h1M54 504.5h1M54 536.5h1M54 549.5h1M54 551.5h1M54 558.5h1M54 561.5h1M54 563.5h1M54 564.5h1M54 573.5h1M54 585.5h1M54 586.5h1M54 587.5h1M54 588.5h1M55 548.5h1M55 552.5h1M55 563.5h1M55 567.5h1M55 575.5h1M55 577.5h1M55 584.5h1M55 587.5h1M55 590.5h1M55 596.5h1M55 597.5h1M56 556.5h1M56 568.5h1M56 571.5h1M56 575.5h1M56 577.5h1M56 587.5h1M56 595.5h1M56 596.5h1M57 493.5h1M57 542.5h1M57 548.5h1M57 566.5h1M57 571.5h1M57 573.5h1M57 585.5h1M57 591.5h1M57 604.5h1M57 610.5h1M58 545.5h1M58 553.5h1M58 556.5h1M58 563.5h1M58 567.5h1M58 571.5h1M58 584.5h1M59 535.5h1M59 558.5h1M59 567.5h1M59 573.5h1M59 577.5h1M59 585.5h1M59 588.5h1M59 596.5h1M59 603.5h1M59 607.5h1M60 552.5h1M60 553.5h1M60 559.5h1M60 569.5h1M60 574.5h1M60 580.5h1M60 607.5h1M60 611.5h1M61 487.5h1M61 534.5h1M61 542.5h1M61 549.5h1M61 558.5h1M61 559.5h1M61 561.5h1M61 566.5h1M61 569.5h1M61 587.5h1M61 607.5h1M62 502.5h1M62 535.5h1M62 563.5h1M62 569.5h1M62 576.5h1M62 578.5h1M62 580.5h1M62 582.5h1M62 583.5h1M62 592.5h1M63 489.5h1M63 498.5h1M63 538.5h1M63 541.5h1M63 548.5h1M63 576.5h1M63 578.5h1M63 582.5h1M63 616.5h1M64 543.5h1M64 557.5h1M64 561.5h1M64 564.5h1M64 573.5h1M64 574.5h1M64 576.5h1M64 581.5h1M64 583.5h1M64 592.5h1M65 538.5h1M65 573.5h1M66 537.5h1M66 544.5h1M66 557.5h1M66 574.5h1M66 575.5h1M66 580.5h1M66 588.5h1M66 592.5h1M66 599.5h1M67 559.5h1M67 560.5h1M67 562.5h1M67 580.5h1M67 594.5h1M68 565.5h1M68 569.5h1M68 573.5h1M68 575.5h1M68 600.5h1M68 609.5h1M69 554.5h1M69 558.5h1M69 564.5h1M69 586.5h1M69 604.5h1M70 502.5h1M70 542.5h1M70 575.5h1M70 583.5h1M70 589.5h1M70 591.5h1M70 596.5h1M70 599.5h1M70 607.5h1M71 469.5h1M71 552.5h1M71 557.5h1M71 561.5h1M71 576.5h1M71 580.5h1M71 583.5h1M71 601.5h1M71 602.5h1M71 604.5h1M72 546.5h1M72 557.5h1M72 584.5h1M73 535.5h1M73 541.5h1M73 554.5h1M73 564.5h1M73 566.5h1M73 570.5h1M73 585.5h1M73 597.5h1M74 523.5h1M74 558.5h1M74 561.5h1M74 562.5h1M74 566.5h1M74 571.5h1M74 585.5h1M74 596.5h1M74 614.5h1M75 543.5h1M75 554.5h1M75 559.5h1M75 569.5h1M75 577.5h1M75 578.5h1M76 522.5h1M76 555.5h1M76 575.5h1M76 590.5h1M77 557.5h1M77 562.5h1M77 570.5h1M77 597.5h1M78 556.5h1M78 563.5h1M78 565.5h1M78 570.5h1M78 582.5h1M78 587.5h1M78 599.5h1M78 610.5h1M79 510.5h1M79 565.5h1M79 569.5h1M79 616.5h1M80 546.5h1M80 561.5h1M80 564.5h1M80 566.5h1M80 587.5h1M81 553.5h1M81 575.5h1M81 603.5h1M82 557.5h1M82 579.5h1M82 595.5h1M83 563.5h1M83 565.5h1M83 567.5h1M83 572.5h1M83 576.5h1M83 592.5h1M84 521.5h1M84 567.5h1M84 579.5h1M84 580.5h1M84 585.5h1M85 569.5h1M86 548.5h1M86 574.5h1M86 582.5h1M86 609.5h1M87 559.5h1M87 576.5h1M88 599.5h1M89 565.5h1M89 566.5h1M89 570.5h1M89 578.5h1M90 535.5h1M91 583.5h1M91 590.5h1M92 575.5h1M93 556.5h1M93 616.5h1M96 577.5h1M97 586.5h1M98 511.5h1M100 479.5h1M100 562.5h1M100 569.5h1M100 579.5h1M100 581.5h1M101 615.5h1M102 543.5h1M103 546.5h1M104 537.5h1M105 481.5h1M105 529.5h1M106 535.5h1M107 476.5h1M107 486.5h1M107 488.5h1M107 557.5h1M107 584.5h1M109 480.5h1M109 482.5h1M110 481.5h1M110 489.5h1M111 477.5h1M112 479.5h1M112 484.5h1M113 482.5h1M113 483.5h1M113 484.5h1M113 532.5h1M115 481.5h1M115 484.5h1M115 495.5h1M116 480.5h1M116 482.5h1M116 529.5h1M116 533.5h1M117 480.5h1M117 483.5h1M118 482.5h1M118 484.5h1M118 486.5h1M118 501.5h1M118 534.5h1M120 486.5h1M120 497.5h1M120 506.5h1M120 512.5h1M120 527.5h1M122 511.5h1M123 477.5h1M124 487.5h1M124 501.5h1M124 509.5h1M124 521.5h1M125 485.5h1M125 486.5h1M125 504.5h1M126 479.5h1M126 489.5h1M126 495.5h1M126 497.5h1M126 524.5h1M126 538.5h1M127 489.5h1M127 490.5h1M128 479.5h1M128 483.5h1M128 487.5h1M128 493.5h1M128 500.5h1M128 502.5h1M128 508.5h1M128 511.5h1M128 541.5h1M129 474.5h1M129 479.5h1M129 484.5h1M129 493.5h1M129 499.5h1M129 501.5h1M129 508.5h1M129 522.5h1M129 541.5h1M130 484.5h1M130 505.5h1M130 513.5h1M130 517.5h1M130 527.5h1M130 543.5h1M130 544.5h1M130 550.5h1M131 461.5h1M131 473.5h1M131 483.5h1M131 487.5h1M131 491.5h1M131 493.5h1M131 495.5h1M131 501.5h1M131 545.5h1M132 477.5h1M132 482.5h1M132 484.5h1M132 495.5h1M132 506.5h1M132 511.5h1M132 513.5h1M132 520.5h1M132 523.5h1M132 526.5h1M132 527.5h1M132 539.5h1M132 542.5h1M132 549.5h1M133 483.5h1M133 487.5h1M133 488.5h1M133 489.5h1M133 490.5h1M133 499.5h1M133 500.5h1M133 502.5h1M133 505.5h1M133 510.5h1M133 515.5h1M133 519.5h1M133 520.5h1M133 541.5h1M133 544.5h1M134 475.5h1M134 483.5h1M134 485.5h1M134 487.5h1M134 497.5h1M134 509.5h1M134 511.5h1M134 512.5h1M134 521.5h1M134 526.5h1M134 549.5h1M135 477.5h1M135 486.5h1M135 493.5h1M135 531.5h1M135 539.5h1M135 541.5h1M135 549.5h1M136 491.5h1M136 499.5h1M136 501.5h1M136 506.5h1M136 507.5h1M136 509.5h1M136 510.5h1M136 513.5h1M136 549.5h1M136 553.5h1M137 476.5h1M137 486.5h1M137 488.5h1M137 491.5h1M137 504.5h1M137 506.5h1M137 508.5h1M137 520.5h1M137 522.5h1M137 548.5h1M137 550.5h1M137 555.5h1M138 460.5h1M138 489.5h1M138 490.5h1M138 510.5h1M138 511.5h1M138 553.5h1M139 484.5h1M139 488.5h1M139 498.5h1M139 506.5h1M139 537.5h1M139 538.5h1M140 476.5h1M140 477.5h1M140 485.5h1M140 503.5h1M140 504.5h1M140 517.5h1M140 547.5h1M140 548.5h1M141 491.5h1M141 494.5h1M141 509.5h1M142 501.5h1M143 486.5h1M143 518.5h1M143 544.5h1M144 507.5h1M144 516.5h1M144 549.5h1M145 482.5h1M145 518.5h1M147 515.5h1M148 522.5h1M149 487.5h1M151 499.5h1M162 536.5h1" stroke="#9090de"/>
<path d="M36 539.5h1M36 550.5h1M36 554.5h1M36 559.5h1M36 572.5h1M36 579.5h1M36 583.5h1M36 588.5h1M36 594.5h1M36 605.5h1M37 555.5h1M38 589.5h1M39 553.5h1M39 560.5h1M39 570.5h1M39 613.5h1M40 583.5h1M41 555.5h1M42 549.5h1M42 566.5h1M42 576.5h1M42 591.5h1M42 610.5h1M43 589.5h1M44 561.5h1M44 567.5h1M44 570.5h1M44 586.5h1M44 596.5h1M45 565.5h1M45 568.5h1M45 595.5h1M46 547.5h1M46 556.5h1M46 572.5h1M47 566.5h1M47 567.5h1M47 569.5h1M47 577.5h1M47 580.5h1M47 589.5h1M47 590.5h1M47 594.5h1M48 556.5h1M49 542.5h1M49 558.5h1M49 565.5h1M49 583.5h1M49 592.5h1M49 599.5h1M50 558.5h1M50 567.5h1M50 575.5h1M50 583.5h1M50 605.5h1M51 550.5h1M51 555.5h1M51 557.5h1M51 578.5h1M51 589.5h1M52 556.5h1M52 567.5h1M52 585.5h1M52 586.5h1M53 545.5h1M53 556.5h1M53 569.5h1M53 580.5h1M53 598.5h1M53 615.5h1M54 557.5h1M54 570.5h1M54 576.5h1M54 594.5h1M54 600.5h1M55 501.5h1M55 568.5h1M55 581.5h1M55 588.5h1M56 484.5h1M56 570.5h1M56 578.5h1M56 582.5h1M57 550.5h1M57 552.5h1M57 558.5h1M57 583.5h1M58 558.5h1M58 593.5h1M58 594.5h1M58 595.5h1M59 564.5h1M59 583.5h1M60 551.5h1M60 565.5h1M60 566.5h1M60 579.5h1M60 584.5h1M60 586.5h1M60 590.5h1M61 570.5h1M61 573.5h1M61 576.5h1M61 584.5h1M61 585.5h1M61 588.5h1M62 573.5h1M62 584.5h1M63 549.5h1M63 560.5h1M63 561.5h1M63 567.5h1M63 570.5h1M63 584.5h1M63 596.5h1M64 548.5h1M64 563.5h1M64 567.5h1M64 571.5h1M64 578.5h1M64 580.5h1M64 587.5h1M64 610.5h1M65 554.5h1M65 580.5h1M65 588.5h1M66 500.5h1M66 559.5h1M66 561.5h1M66 562.5h1M66 565.5h1M66 583.5h1M66 587.5h1M66 593.5h1M67 555.5h1M67 558.5h1M67 571.5h1M67 573.5h1M67 592.5h1M68 545.5h1M68 555.5h1M68 558.5h1M68 567.5h1M68 587.5h1M68 592.5h1M69 552.5h1M69 555.5h1M69 557.5h1M69 567.5h1M69 570.5h1M69 576.5h1M69 589.5h1M69 600.5h1M70 563.5h1M70 574.5h1M70 579.5h1M70 585.5h1M70 587.5h1M70 610.5h1M71 573.5h1M71 577.5h1M71 585.5h1M72 592.5h1M73 548.5h1M73 590.5h1M74 549.5h1M74 576.5h1M74 580.5h1M75 564.5h1M75 570.5h1M76 581.5h1M77 578.5h1M78 586.5h1M79 536.5h1M79 562.5h1M80 553.5h1M80 557.5h1M80 562.5h1M80 586.5h1M82 555.5h1M82 565.5h1M82 584.5h1M85 547.5h1M85 563.5h1M85 571.5h1M85 590.5h1M87 585.5h1M89 564.5h1M94 536.5h1M96 542.5h1M97 549.5h1M106 538.5h1M111 482.5h1M112 524.5h1M114 476.5h1M115 483.5h1M117 485.5h1M120 484.5h1M120 498.5h1M120 532.5h1M121 480.5h1M122 487.5h1M122 527.5h1M125 474.5h1M125 480.5h1M125 482.5h1M126 490.5h1M126 492.5h1M126 511.5h1M127 478.5h1M128 488.5h1M128 498.5h1M129 483.5h1M129 505.5h1M129 509.5h1M130 479.5h1M130 492.5h1M130 511.5h1M131 479.5h1M131 490.5h1M132 493.5h1M132 547.5h1M132 548.5h1M133 482.5h1M133 484.5h1M133 498.5h1M133 550.5h1M134 472.5h1M134 486.5h1M134 490.5h1M134 498.5h1M135 480.5h1M135 484.5h1M135 489.5h1M135 494.5h1M135 497.5h1M135 502.5h1M135 542.5h1M135 554.5h1M136 478.5h1M136 481.5h1M136 485.5h1M136 494.5h1M136 497.5h1M136 503.5h1M136 517.5h1M136 527.5h1M137 500.5h1M137 509.5h1M137 554.5h1M138 477.5h1M138 479.5h1M138 487.5h1M138 491.5h1M138 499.5h1M138 508.5h1M139 495.5h1M139 499.5h1M139 501.5h1M139 502.5h1M139 549.5h1M140 469.5h1M140 484.5h1M140 536.5h1M141 492.5h1M142 492.5h1M142 494.5h1M142 519.5h1M143 487.5h1M143 541.5h1M144 485.5h1M145 507.5h1M148 491.5h1M149 473.5h1M183 535.5h1" stroke="#5252c0"/>
<path d="M36 526.5h1M36 528.5h1M36 538.5h1M36 546.5h1M36 548.5h1M36 552.5h1M36 562.5h1M36 574.5h1M36 575.5h1M36 576.5h1M36 582.5h1M36 590.5h1M36 591.5h1M36 592.5h1M36 599.5h1M37 528.5h1M37 558.5h1M37 577.5h1M37 579.5h1M37 584.5h1M38 514.5h1M38 540.5h1M38 544.5h1M38 572.5h1M38 587.5h1M38 611.5h1M39 467.5h1M39 562.5h1M39 586.5h1M39 594.5h1M39 599.5h1M39 606.5h1M40 538.5h1M40 548.5h1M40 561.5h1M40 570.5h1M40 573.5h1M40 574.5h1M40 585.5h1M40 586.5h1M41 556.5h1M41 572.5h1M41 586.5h1M42 535.5h1M42 546.5h1M42 562.5h1M42 573.5h1M42 582.5h1M42 588.5h1M43 572.5h1M43 581.5h1M43 599.5h1M43 605.5h1M43 616.5h1M44 565.5h1M44 575.5h1M44 581.5h1M44 611.5h1M45 529.5h1M45 559.5h1M45 581.5h1M45 593.5h1M45 613.5h1M46 550.5h1M46 567.5h1M46 570.5h1M46 593.5h1M46 598.5h1M46 607.5h1M47 471.5h1M47 543.5h1M47 558.5h1M47 568.5h1M47 571.5h1M47 579.5h1M47 598.5h1M47 616.5h1M48 469.5h1M48 485.5h1M48 545.5h1M48 548.5h1M48 557.5h1M48 559.5h1M48 560.5h1M48 571.5h1M48 572.5h1M48 588.5h1M49 585.5h1M49 611.5h1M50 539.5h1M50 551.5h1M50 566.5h1M50 595.5h1M50 596.5h1M50 597.5h1M51 483.5h1M51 549.5h1M51 559.5h1M51 562.5h1M51 568.5h1M51 575.5h1M51 588.5h1M52 488.5h1M52 549.5h1M52 561.5h1M52 569.5h1M52 575.5h1M52 577.5h1M52 592.5h1M53 525.5h1M53 553.5h1M53 555.5h1M53 561.5h1M53 564.5h1M53 567.5h1M53 572.5h1M53 581.5h1M53 593.5h1M53 599.5h1M53 605.5h1M54 532.5h1M54 550.5h1M54 566.5h1M54 568.5h1M54 569.5h1M54 597.5h1M55 530.5h1M55 557.5h1M55 569.5h1M55 576.5h1M55 579.5h1M55 602.5h1M56 526.5h1M56 547.5h1M56 560.5h1M56 580.5h1M56 592.5h1M56 593.5h1M56 602.5h1M57 535.5h1M57 546.5h1M57 553.5h1M57 561.5h1M57 567.5h1M57 568.5h1M57 577.5h1M57 578.5h1M57 605.5h1M58 546.5h1M58 570.5h1M58 580.5h1M58 583.5h1M58 585.5h1M58 587.5h1M58 591.5h1M58 592.5h1M59 546.5h1M59 548.5h1M59 565.5h1M59 587.5h1M59 591.5h1M59 604.5h1M60 546.5h1M60 549.5h1M60 557.5h1M60 571.5h1M60 575.5h1M60 577.5h1M61 522.5h1M61 556.5h1M61 565.5h1M61 571.5h1M61 572.5h1M61 575.5h1M62 549.5h1M62 560.5h1M62 561.5h1M62 568.5h1M62 574.5h1M62 575.5h1M62 577.5h1M62 588.5h1M62 593.5h1M62 612.5h1M63 500.5h1M63 505.5h1M63 540.5h1M63 551.5h1M63 566.5h1M63 585.5h1M63 591.5h1M63 594.5h1M63 613.5h1M64 541.5h1M64 545.5h1M64 565.5h1M64 570.5h1M64 572.5h1M64 591.5h1M64 593.5h1M64 595.5h1M64 598.5h1M64 601.5h1M64 608.5h1M64 612.5h1M65 478.5h1M65 546.5h1M65 558.5h1M65 563.5h1M65 574.5h1M65 576.5h1M65 587.5h1M65 589.5h1M65 599.5h1M65 600.5h1M65 609.5h1M65 610.5h1M66 496.5h1M66 533.5h1M66 555.5h1M66 556.5h1M66 570.5h1M66 582.5h1M66 585.5h1M66 602.5h1M66 609.5h1M66 612.5h1M67 533.5h1M67 539.5h1M67 550.5h1M67 563.5h1M67 567.5h1M67 568.5h1M67 572.5h1M67 574.5h1M67 575.5h1M67 577.5h1M67 591.5h1M67 602.5h1M67 605.5h1M67 608.5h1M68 553.5h1M68 554.5h1M68 562.5h1M68 564.5h1M68 579.5h1M68 584.5h1M68 588.5h1M68 589.5h1M68 590.5h1M69 506.5h1M69 542.5h1M69 543.5h1M69 544.5h1M69 556.5h1M69 560.5h1M69 590.5h1M69 593.5h1M69 605.5h1M70 491.5h1M70 544.5h1M70 553.5h1M70 557.5h1M70 566.5h1M70 571.5h1M70 580.5h1M70 590.5h1M70 616.5h1M71 529.5h1M71 533.5h1M71 539.5h1M71 567.5h1M71 568.5h1M71 571.5h1M71 594.5h1M72 565.5h1M72 566.5h1M72 570.5h1M72 573.5h1M72 577.5h1M72 579.5h1M72 580.5h1M72 585.5h1M72 616.5h1M73 544.5h1M73 555.5h1M73 571.5h1M73 573.5h1M73 579.5h1M73 600.5h1M73 604.5h1M73 608.5h1M74 553.5h1M74 567.5h1M74 578.5h1M74 590.5h1M74 599.5h1M74 601.5h1M75 532.5h1M75 537.5h1M75 539.5h1M75 548.5h1M75 566.5h1M75 571.5h1M75 573.5h1M75 583.5h1M75 588.5h1M75 589.5h1M75 593.5h1M75 606.5h1M75 609.5h1M76 470.5h1M76 543.5h1M76 548.5h1M76 553.5h1M76 572.5h1M76 580.5h1M76 596.5h1M76 608.5h1M76 616.5h1M77 560.5h1M77 561.5h1M77 575.5h1M77 581.5h1M77 585.5h1M77 599.5h1M77 612.5h1M78 569.5h1M79 541.5h1M79 558.5h1M79 572.5h1M79 573.5h1M79 605.5h1M80 541.5h1M80 560.5h1M80 590.5h1M81 485.5h1M81 556.5h1M81 558.5h1M81 566.5h1M82 490.5h1M82 544.5h1M82 560.5h1M82 568.5h1M82 577.5h1M82 599.5h1M82 601.5h1M82 604.5h1M83 551.5h1M83 577.5h1M83 582.5h1M83 609.5h1M84 551.5h1M84 573.5h1M84 574.5h1M85 543.5h1M85 562.5h1M85 568.5h1M85 578.5h1M85 580.5h1M85 587.5h1M86 545.5h1M86 547.5h1M86 550.5h1M86 569.5h1M86 605.5h1M87 524.5h1M87 556.5h1M87 560.5h1M87 565.5h1M88 561.5h1M89 541.5h1M89 549.5h1M89 589.5h1M90 612.5h1M91 575.5h1M91 600.5h1M92 551.5h1M92 568.5h1M92 578.5h1M93 512.5h1M93 574.5h1M94 522.5h1M95 533.5h1M95 555.5h1M95 602.5h1M95 611.5h1M96 463.5h1M96 483.5h1M96 561.5h1M96 571.5h1M97 560.5h1M97 571.5h1M98 596.5h1M99 577.5h1M100 482.5h1M100 527.5h1M103 509.5h1M103 534.5h1M103 547.5h1M104 482.5h1M104 483.5h1M104 527.5h1M104 539.5h1M105 486.5h1M105 489.5h1M105 546.5h1M106 486.5h1M106 516.5h1M107 517.5h1M107 532.5h1M108 476.5h1M109 479.5h1M109 483.5h1M109 485.5h1M110 475.5h1M111 485.5h1M111 520.5h1M112 480.5h1M112 509.5h1M113 476.5h1M113 478.5h1M113 479.5h1M113 488.5h1M113 492.5h1M114 487.5h1M114 489.5h1M114 518.5h1M114 592.5h1M115 482.5h1M115 529.5h1M115 573.5h1M115 610.5h1M116 545.5h1M117 484.5h1M117 486.5h1M117 505.5h1M118 487.5h1M118 539.5h1M119 478.5h1M119 483.5h1M119 486.5h1M119 490.5h1M119 496.5h1M120 480.5h1M121 478.5h1M121 482.5h1M121 483.5h1M121 487.5h1M122 481.5h1M122 482.5h1M122 489.5h1M122 491.5h1M122 496.5h1M122 510.5h1M122 552.5h1M123 479.5h1M123 483.5h1M123 485.5h1M123 487.5h1M123 553.5h1M124 477.5h1M124 488.5h1M124 489.5h1M124 526.5h1M124 545.5h1M125 481.5h1M125 483.5h1M125 493.5h1M125 505.5h1M125 507.5h1M125 594.5h1M126 478.5h1M126 482.5h1M126 488.5h1M126 503.5h1M126 505.5h1M126 512.5h1M126 515.5h1M126 568.5h1M127 480.5h1M127 481.5h1M127 483.5h1M127 487.5h1M127 488.5h1M127 499.5h1M128 468.5h1M128 475.5h1M128 482.5h1M128 504.5h1M128 505.5h1M128 515.5h1M128 546.5h1M129 485.5h1M129 491.5h1M129 513.5h1M129 523.5h1M129 550.5h1M130 472.5h1M130 477.5h1M130 482.5h1M130 496.5h1M130 497.5h1M130 499.5h1M130 501.5h1M130 502.5h1M130 503.5h1M130 514.5h1M130 541.5h1M130 545.5h1M130 547.5h1M131 468.5h1M131 488.5h1M131 492.5h1M131 494.5h1M131 502.5h1M131 504.5h1M131 507.5h1M131 509.5h1M131 511.5h1M131 523.5h1M131 546.5h1M132 472.5h1M132 480.5h1M132 483.5h1M132 489.5h1M132 497.5h1M132 498.5h1M132 503.5h1M132 509.5h1M132 512.5h1M132 522.5h1M132 531.5h1M132 544.5h1M132 545.5h1M133 465.5h1M133 474.5h1M133 478.5h1M133 485.5h1M133 494.5h1M133 497.5h1M133 506.5h1M133 509.5h1M133 555.5h1M134 476.5h1M134 484.5h1M134 492.5h1M134 496.5h1M134 502.5h1M134 508.5h1M134 520.5h1M135 481.5h1M135 496.5h1M135 508.5h1M135 525.5h1M135 530.5h1M135 537.5h1M136 471.5h1M136 508.5h1M136 512.5h1M136 522.5h1M136 538.5h1M136 543.5h1M136 548.5h1M136 550.5h1M137 468.5h1M137 475.5h1M137 485.5h1M137 489.5h1M137 493.5h1M137 499.5h1M137 513.5h1M138 495.5h1M138 503.5h1M138 504.5h1M138 519.5h1M138 544.5h1M139 475.5h1M139 482.5h1M139 496.5h1M139 505.5h1M139 515.5h1M139 539.5h1M140 487.5h1M140 497.5h1M140 500.5h1M140 502.5h1M140 512.5h1M140 513.5h1M140 552.5h1M141 480.5h1M141 495.5h1M141 512.5h1M141 518.5h1M141 544.5h1M141 554.5h1M142 487.5h1M142 496.5h1M142 517.5h1M142 531.5h1M142 538.5h1M142 541.5h1M142 546.5h1M143 506.5h1M143 514.5h1M143 542.5h1M143 549.5h1M145 505.5h1M146 498.5h1M146 515.5h1M146 542.5h1M148 483.5h1M148 496.5h1M155 564.5h1M158 611.5h1M180 526.5h1M181 464.5h1" stroke="#aeaeea"/>
<path d="M36 490.5h1M36 505.5h1M36 512.5h1M36 529.5h1M36 536.5h1M36 545.5h1M36 549.5h1M36 557.5h1M36 566.5h1M36 607.5h1M36 609.5h1M36 614.5h1M37 544.5h1M37 549.5h1M37 585.5h1M37 616.5h1M38 590.5h1M38 602.5h1M39 535.5h1M39 536.5h1M39 539.5h1M39 593.5h1M39 596.5h1M40 555.5h1M40 562.5h1M40 572.5h1M40 582.5h1M40 597.5h1M40 600.5h1M40 607.5h1M41 548.5h1M41 557.5h1M41 587.5h1M41 592.5h1M41 616.5h1M42 554.5h1M42 563.5h1M42 565.5h1M43 566.5h1M43 571.5h1M43 575.5h1M43 586.5h1M43 598.5h1M44 518.5h1M44 536.5h1M44 548.5h1M44 550.5h1M44 560.5h1M44 562.5h1M44 568.5h1M44 576.5h1M44 587.5h1M44 589.5h1M44 609.5h1M45 514.5h1M45 554.5h1M45 555.5h1M45 579.5h1M45 588.5h1M45 609.5h1M45 616.5h1M46 527.5h1M46 549.5h1M46 564.5h1M46 577.5h1M46 599.5h1M46 611.5h1M47 523.5h1M47 539.5h1M47 552.5h1M47 560.5h1M47 584.5h1M47 586.5h1M48 535.5h1M48 543.5h1M48 555.5h1M48 562.5h1M48 569.5h1M48 578.5h1M48 582.5h1M48 607.5h1M49 556.5h1M49 577.5h1M50 486.5h1M50 554.5h1M50 573.5h1M50 590.5h1M50 599.5h1M50 602.5h1M51 498.5h1M51 534.5h1M51 546.5h1M51 565.5h1M51 571.5h1M51 574.5h1M51 582.5h1M51 593.5h1M52 478.5h1M52 529.5h1M52 537.5h1M52 542.5h1M52 552.5h1M52 554.5h1M52 574.5h1M52 590.5h1M52 616.5h1M53 544.5h1M53 547.5h1M53 565.5h1M53 597.5h1M53 603.5h1M54 539.5h1M54 574.5h1M54 578.5h1M54 580.5h1M54 590.5h1M54 614.5h1M55 541.5h1M55 550.5h1M55 553.5h1M55 554.5h1M55 558.5h1M55 603.5h1M56 528.5h1M56 564.5h1M56 573.5h1M57 494.5h1M57 524.5h1M57 586.5h1M57 606.5h1M57 616.5h1M58 485.5h1M58 557.5h1M58 560.5h1M58 566.5h1M58 601.5h1M58 606.5h1M59 532.5h1M59 542.5h1M59 552.5h1M59 563.5h1M59 581.5h1M59 602.5h1M59 611.5h1M60 529.5h1M60 541.5h1M60 558.5h1M60 573.5h1M60 576.5h1M60 603.5h1M60 609.5h1M60 616.5h1M61 533.5h1M61 544.5h1M61 553.5h1M61 591.5h1M61 610.5h1M62 485.5h1M62 541.5h1M62 542.5h1M63 475.5h1M63 543.5h1M63 554.5h1M63 559.5h1M63 571.5h1M63 598.5h1M63 612.5h1M64 547.5h1M64 553.5h1M64 555.5h1M64 558.5h1M64 599.5h1M64 600.5h1M64 607.5h1M65 536.5h1M65 566.5h1M65 577.5h1M65 579.5h1M65 581.5h1M65 592.5h1M65 616.5h1M66 545.5h1M66 568.5h1M66 584.5h1M66 600.5h1M66 613.5h1M67 556.5h1M67 569.5h1M67 612.5h1M68 539.5h1M68 541.5h1M68 542.5h1M68 551.5h1M68 568.5h1M68 580.5h1M68 597.5h1M68 604.5h1M69 547.5h1M69 549.5h1M69 581.5h1M69 585.5h1M69 594.5h1M69 599.5h1M69 609.5h1M70 523.5h1M70 552.5h1M70 556.5h1M70 559.5h1M70 562.5h1M70 600.5h1M71 538.5h1M71 564.5h1M71 569.5h1M71 603.5h1M71 616.5h1M72 541.5h1M72 543.5h1M72 547.5h1M72 551.5h1M72 599.5h1M73 561.5h1M73 567.5h1M73 568.5h1M73 581.5h1M73 589.5h1M73 594.5h1M73 610.5h1M74 538.5h1M74 548.5h1M74 557.5h1M74 591.5h1M74 594.5h1M74 595.5h1M74 610.5h1M74 616.5h1M75 521.5h1M75 550.5h1M75 555.5h1M75 557.5h1M75 561.5h1M75 563.5h1M75 572.5h1M75 574.5h1M75 582.5h1M75 586.5h1M75 598.5h1M76 542.5h1M76 545.5h1M76 546.5h1M76 562.5h1M76 578.5h1M76 588.5h1M76 593.5h1M77 486.5h1M77 574.5h1M77 576.5h1M77 587.5h1M77 592.5h1M77 614.5h1M78 547.5h1M78 553.5h1M78 566.5h1M78 579.5h1M78 601.5h1M78 614.5h1M79 489.5h1M79 555.5h1M79 566.5h1M79 578.5h1M79 593.5h1M79 594.5h1M80 577.5h1M80 579.5h1M80 580.5h1M80 583.5h1M80 584.5h1M80 585.5h1M81 546.5h1M81 559.5h1M81 564.5h1M81 569.5h1M81 585.5h1M82 509.5h1M82 558.5h1M82 581.5h1M83 495.5h1M83 555.5h1M83 571.5h1M83 575.5h1M83 585.5h1M83 586.5h1M83 588.5h1M83 595.5h1M84 541.5h1M84 548.5h1M84 564.5h1M84 581.5h1M84 615.5h1M85 546.5h1M85 554.5h1M85 572.5h1M85 595.5h1M86 553.5h1M86 555.5h1M86 560.5h1M86 562.5h1M86 568.5h1M86 571.5h1M86 616.5h1M87 570.5h1M87 584.5h1M87 601.5h1M88 549.5h1M88 567.5h1M89 510.5h1M89 561.5h1M89 595.5h1M90 537.5h1M90 541.5h1M90 546.5h1M90 552.5h1M91 579.5h1M91 601.5h1M92 537.5h1M92 556.5h1M92 562.5h1M92 594.5h1M93 539.5h1M93 546.5h1M94 565.5h1M94 577.5h1M94 582.5h1M94 587.5h1M94 614.5h1M95 556.5h1M97 530.5h1M97 559.5h1M97 564.5h1M98 486.5h1M98 542.5h1M98 583.5h1M98 589.5h1M99 483.5h1M99 485.5h1M99 509.5h1M99 549.5h1M100 481.5h1M101 487.5h1M101 541.5h1M101 547.5h1M103 485.5h1M103 533.5h1M103 543.5h1M104 476.5h1M104 611.5h1M105 471.5h1M105 583.5h1M107 484.5h1M108 479.5h1M108 486.5h1M108 491.5h1M108 498.5h1M108 514.5h1M108 532.5h1M109 477.5h1M109 523.5h1M110 472.5h1M111 544.5h1M112 534.5h1M113 516.5h1M113 526.5h1M113 531.5h1M114 481.5h1M114 562.5h1M115 492.5h1M115 523.5h1M116 472.5h1M117 482.5h1M117 497.5h1M118 465.5h1M118 488.5h1M118 614.5h1M119 476.5h1M119 480.5h1M119 484.5h1M119 518.5h1M119 527.5h1M119 561.5h1M120 479.5h1M120 483.5h1M121 484.5h1M121 519.5h1M121 550.5h1M122 485.5h1M122 488.5h1M122 500.5h1M122 506.5h1M123 475.5h1M123 481.5h1M123 493.5h1M124 500.5h1M124 543.5h1M124 556.5h1M125 521.5h1M127 475.5h1M127 494.5h1M127 496.5h1M127 535.5h1M128 489.5h1M128 494.5h1M128 499.5h1M128 513.5h1M128 548.5h1M128 549.5h1M129 487.5h1M129 500.5h1M129 518.5h1M129 525.5h1M129 544.5h1M130 475.5h1M130 476.5h1M130 516.5h1M130 524.5h1M130 549.5h1M130 553.5h1M131 474.5h1M131 515.5h1M131 516.5h1M131 519.5h1M131 521.5h1M131 542.5h1M132 502.5h1M132 517.5h1M132 518.5h1M132 555.5h1M132 562.5h1M133 464.5h1M133 473.5h1M133 516.5h1M133 530.5h1M133 546.5h1M134 519.5h1M134 553.5h1M135 472.5h1M135 476.5h1M135 478.5h1M136 477.5h1M136 483.5h1M136 515.5h1M136 516.5h1M136 529.5h1M136 537.5h1M136 544.5h1M136 546.5h1M136 552.5h1M136 592.5h1M137 484.5h1M138 483.5h1M138 493.5h1M138 502.5h1M138 506.5h1M138 517.5h1M138 522.5h1M138 523.5h1M138 541.5h1M138 542.5h1M138 543.5h1M138 547.5h1M138 552.5h1M139 491.5h1M139 503.5h1M139 552.5h1M140 478.5h1M140 491.5h1M140 554.5h1M141 472.5h1M141 482.5h1M141 497.5h1M141 519.5h1M141 542.5h1M142 476.5h1M142 484.5h1M142 488.5h1M142 491.5h1M142 511.5h1M143 488.5h1M143 498.5h1M144 480.5h1M144 486.5h1M145 491.5h1M145 499.5h1M145 509.5h1M145 522.5h1M146 521.5h1M149 499.5h1M167 482.5h1M167 570.5h1M172 469.5h1M180 603.5h1M190 574.5h1" stroke="#c6c6f2"/>
<path d="M36 547.5h1M36 553.5h1M36 573.5h1M36 580.5h1M36 581.5h1M37 559.5h1M37 571.5h1M37 586.5h1M39 577.5h1M40 569.5h1M40 577.5h1M42 580.5h1M43 569.5h1M45 569.5h1M45 586.5h1M46 574.5h1M46 582.5h1M46 586.5h1M46 589.5h1M47 581.5h1M48 579.5h1M49 569.5h1M49 570.5h1M49 616.5h1M50 563.5h1M50 577.5h1M50 591.5h1M51 506.5h1M51 547.5h1M51 551.5h1M51 592.5h1M52 582.5h1M52 588.5h1M53 566.5h1M53 583.5h1M53 586.5h1M54 575.5h1M54 598.5h1M55 572.5h1M55 616.5h1M56 565.5h1M56 574.5h1M56 586.5h1M57 576.5h1M58 522.5h1M58 575.5h1M59 557.5h1M59 578.5h1M59 580.5h1M59 590.5h1M59 594.5h1M60 548.5h1M60 567.5h1M60 604.5h1M61 580.5h1M61 595.5h1M62 540.5h1M62 579.5h1M63 558.5h1M63 573.5h1M63 577.5h1M63 583.5h1M64 542.5h1M65 568.5h1M66 558.5h1M68 585.5h1M69 577.5h1M69 588.5h1M70 567.5h1M70 577.5h1M71 559.5h1M71 597.5h1M72 562.5h1M72 572.5h1M76 567.5h1M76 574.5h1M77 577.5h1M78 572.5h1M80 565.5h1M80 570.5h1M81 562.5h1M81 578.5h1M83 581.5h1M86 583.5h1M87 573.5h1M89 571.5h1M93 575.5h1M111 481.5h1M120 499.5h1M122 478.5h1M124 485.5h1M126 472.5h1M126 491.5h1M128 480.5h1M128 486.5h1M129 478.5h1M131 485.5h1M132 499.5h1M132 510.5h1M132 515.5h1M133 496.5h1M133 507.5h1M133 517.5h1M133 540.5h1M134 480.5h1M134 504.5h1M134 541.5h1M135 483.5h1M135 507.5h1M135 509.5h1M135 510.5h1M136 542.5h1M137 487.5h1M137 492.5h1M137 512.5h1M138 501.5h1M138 514.5h1M139 510.5h1M141 504.5h1M142 479.5h1M143 509.5h1M146 486.5h1" stroke="#34347c"/>
<path d="M134 494.5h1M134 507.5h1M135 495.5h1M135 505.5h1" stroke="#6f9a78"/>
<path d="M134 506.5h1" stroke="#3a5a50"/>
</g>
<path d="M36.6 616v-3M36.6 616h3M48.37 616v-1.5M36.6 604.3h1.5M55.26 616v-1.5M36.6 597.45h1.5M60.14 616v-1.5M36.6 592.59h1.5M63.93 616v-1.5M36.6 588.83h1.5M67.03 616v-1.5M36.6 585.75h1.5M69.64 616v-1.5M36.6 583.15h1.5M71.91 616v-1.5M36.6 580.89h1.5M73.91 616v-1.5M36.6 578.9h1.5M75.7 616v-3M36.6 577.12h3M87.47 616v-1.5M36.6 565.42h1.5M94.36 616v-1.5M36.6 558.58h1.5M99.24 616v-1.5M36.6 553.72h1.5M103.03 616v-1.5M36.6 549.95h1.5M106.13 616v-1.5M36.6 546.87h1.5M108.74 616v-1.5M36.6 544.27h1.5M111.01 616v-1.5M36.6 542.02h1.5M113.01 616v-1.5M36.6 540.03h1.5M114.8 616v-3M36.6 538.25h3M126.57 616v-1.5M36.6 526.55h1.5M133.46 616v-1.5M36.6 519.7h1.5M138.34 616v-1.5M36.6 514.84h1.5M142.13 616v-1.5M36.6 511.08h1.5M145.23 616v-1.5M36.6 508h1.5M147.84 616v-1.5M36.6 505.4h1.5M150.11 616v-1.5M36.6 503.14h1.5M152.11 616v-1.5M36.6 501.15h1.5M153.9 616v-3M36.6 499.38h3M165.67 616v-1.5M36.6 487.67h1.5M172.56 616v-1.5M36.6 480.83h1.5M177.44 616v-1.5M36.6 475.97h1.5M181.23 616v-1.5M36.6 472.2h1.5M184.33 616v-1.5M36.6 469.12h1.5M186.94 616v-1.5M36.6 466.52h1.5M189.21 616v-1.5M36.6 464.27h1.5M191.21 616v-1.5M36.6 462.28h1.5" stroke="#777" stroke-width="0.7" fill="none"/>
<text x="32.4" y="629.2" class="t2" font-size="6.3" font-weight="normal" fill="#222">10<tspan font-size="4.2" dy="-2.4">0</tspan></text>
<text x="22.1" y="618.2" class="t2" font-size="6.3" font-weight="normal" fill="#222">10<tspan font-size="4.2" dy="-2.4">0</tspan></text>
<text x="71.5" y="629.2" class="t2" font-size="6.3" font-weight="normal" fill="#222">10<tspan font-size="4.2" dy="-2.4">1</tspan></text>
<text x="22.1" y="579.33" class="t2" font-size="6.3" font-weight="normal" fill="#222">10<tspan font-size="4.2" dy="-2.4">1</tspan></text>
<text x="110.6" y="629.2" class="t2" font-size="6.3" font-weight="normal" fill="#222">10<tspan font-size="4.2" dy="-2.4">2</tspan></text>
<text x="22.1" y="540.45" class="t2" font-size="6.3" font-weight="normal" fill="#222">10<tspan font-size="4.2" dy="-2.4">2</tspan></text>
<text x="149.7" y="629.2" class="t2" font-size="6.3" font-weight="normal" fill="#222">10<tspan font-size="4.2" dy="-2.4">3</tspan></text>
<text x="22.1" y="501.57" class="t2" font-size="6.3" font-weight="normal" fill="#222">10<tspan font-size="4.2" dy="-2.4">3</tspan></text>
<text x="188.8" y="629.2" class="t2" font-size="6.3" font-weight="normal" fill="#222">10<tspan font-size="4.2" dy="-2.4">4</tspan></text>
<text x="22.1" y="462.7" class="t2" font-size="6.3" font-weight="normal" fill="#222">10<tspan font-size="4.2" dy="-2.4">4</tspan></text>
<rect x="36.6" y="526.8" width="47.9" height="89.2" fill="none" stroke="#2a2a2a" stroke-width="1"/>
<rect x="84.5" y="465" width="33.5" height="32.8" fill="none" stroke="#2a2a2a" stroke-width="1"/>
<rect x="118" y="465" width="33.5" height="32.8" fill="none" stroke="#2a2a2a" stroke-width="1"/>
<rect x="118" y="497.8" width="33.5" height="33.9" fill="none" stroke="#2a2a2a" stroke-width="1"/>
<rect x="118" y="536.5" width="33.5" height="33.6" fill="none" stroke="#2a2a2a" stroke-width="1"/>
<text x="42.5" y="523.4" font-size="14.3">R0</text>
<text x="64.7" y="476.6" font-size="14.3">R1</text>
<text x="154" y="476.6" font-size="14.3">R2</text>
<text x="154" y="511.4" font-size="14.3">R3</text>
<text x="154" y="547.8" font-size="14.3">R4</text>
<rect x="214" y="460.8" width="153.3" height="154.8" fill="#fff" stroke="#999" stroke-width="1.3"/>
<g filter="url(#soft)" fill="none" stroke-width="1">
<path d="M214 496.5h1M214 500.5h1M214 558.5h1M214 559.5h1M214 578.5h1M214 583.5h1M214 592.5h1M214 598.5h1M214 600.5h1M214 601.5h1M214 604.5h1M214 615.5h1M215 585.5h1M216 573.5h1M216 604.5h1M216 607.5h1M216 610.5h1M217 496.5h1M217 566.5h1M217 573.5h1M217 598.5h1M217 614.5h1M218 593.5h1M219 575.5h1M219 587.5h1M219 601.5h1M219 606.5h1M220 490.5h1M220 500.5h1M220 555.5h1M220 572.5h1M220 584.5h1M220 590.5h1M221 540.5h1M221 564.5h1M221 565.5h1M221 586.5h1M221 592.5h1M221 608.5h1M222 554.5h1M222 566.5h1M222 583.5h1M222 592.5h1M222 594.5h1M222 599.5h1M223 582.5h1M223 594.5h1M223 595.5h1M224 467.5h1M224 557.5h1M224 564.5h1M224 579.5h1M224 585.5h1M224 606.5h1M225 578.5h1M225 581.5h1M225 585.5h1M225 608.5h1M225 615.5h1M226 555.5h1M226 559.5h1M226 570.5h1M226 576.5h1M226 596.5h1M227 469.5h1M227 520.5h1M227 567.5h1M227 572.5h1M227 574.5h1M227 578.5h1M228 499.5h1M228 565.5h1M228 569.5h1M228 575.5h1M228 597.5h1M229 502.5h1M229 556.5h1M229 566.5h1M229 567.5h1M229 570.5h1M229 573.5h1M229 579.5h1M229 581.5h1M229 588.5h1M229 589.5h1M229 604.5h1M229 613.5h1M230 565.5h1M230 568.5h1M230 576.5h1M230 600.5h1M230 606.5h1M231 556.5h1M231 562.5h1M231 569.5h1M231 573.5h1M231 575.5h1M231 577.5h1M231 582.5h1M231 593.5h1M231 595.5h1M231 598.5h1M231 613.5h1M232 574.5h1M232 600.5h1M232 606.5h1M232 608.5h1M233 570.5h1M233 590.5h1M233 592.5h1M233 600.5h1M234 547.5h1M234 564.5h1M234 567.5h1M234 572.5h1M234 600.5h1M234 602.5h1M235 557.5h1M235 579.5h1M235 583.5h1M235 596.5h1M236 543.5h1M236 579.5h1M236 581.5h1M236 586.5h1M236 594.5h1M237 512.5h1M237 521.5h1M237 556.5h1M237 559.5h1M237 570.5h1M237 578.5h1M237 579.5h1M237 584.5h1M237 596.5h1M237 600.5h1M237 601.5h1M238 492.5h1M238 572.5h1M238 574.5h1M238 585.5h1M238 587.5h1M238 593.5h1M238 594.5h1M239 558.5h1M239 572.5h1M239 593.5h1M240 477.5h1M240 585.5h1M240 595.5h1M240 615.5h1M241 547.5h1M241 584.5h1M241 612.5h1M242 560.5h1M242 565.5h1M242 569.5h1M242 574.5h1M242 588.5h1M242 593.5h1M242 596.5h1M243 561.5h1M243 570.5h1M243 576.5h1M243 581.5h1M243 585.5h1M243 591.5h1M243 601.5h1M243 615.5h1M244 502.5h1M244 552.5h1M244 561.5h1M244 583.5h1M245 546.5h1M245 565.5h1M245 571.5h1M245 573.5h1M245 589.5h1M245 600.5h1M245 601.5h1M246 553.5h1M246 568.5h1M246 587.5h1M246 589.5h1M246 615.5h1M247 542.5h1M247 554.5h1M247 557.5h1M247 578.5h1M247 582.5h1M247 584.5h1M247 589.5h1M247 601.5h1M248 491.5h1M248 535.5h1M248 582.5h1M248 588.5h1M248 591.5h1M248 593.5h1M248 598.5h1M248 600.5h1M248 603.5h1M249 549.5h1M249 566.5h1M249 571.5h1M249 581.5h1M249 590.5h1M249 591.5h1M249 593.5h1M250 562.5h1M250 565.5h1M250 584.5h1M251 570.5h1M251 573.5h1M251 595.5h1M251 596.5h1M251 602.5h1M251 614.5h1M252 501.5h1M252 538.5h1M252 541.5h1M252 550.5h1M252 563.5h1M252 566.5h1M252 595.5h1M252 601.5h1M252 602.5h1M252 615.5h1M253 527.5h1M253 554.5h1M253 566.5h1M254 551.5h1M254 565.5h1M254 590.5h1M254 595.5h1M254 601.5h1M255 572.5h1M255 585.5h1M256 536.5h1M256 554.5h1M256 570.5h1M256 585.5h1M256 597.5h1M257 516.5h1M257 579.5h1M257 592.5h1M257 606.5h1M258 567.5h1M258 575.5h1M258 576.5h1M258 577.5h1M258 578.5h1M258 602.5h1M258 607.5h1M259 484.5h1M259 486.5h1M259 555.5h1M259 573.5h1M259 587.5h1M260 563.5h1M260 573.5h1M260 578.5h1M261 508.5h1M261 545.5h1M261 560.5h1M261 564.5h1M261 583.5h1M261 597.5h1M262 489.5h1M262 571.5h1M263 487.5h1M263 557.5h1M263 570.5h1M264 549.5h1M264 567.5h1M264 576.5h1M264 586.5h1M265 546.5h1M265 556.5h1M265 579.5h1M265 580.5h1M266 564.5h1M266 565.5h1M266 572.5h1M268 568.5h1M268 592.5h1M269 550.5h1M269 561.5h1M270 553.5h1M270 555.5h1M270 578.5h1M270 583.5h1M271 483.5h1M271 488.5h1M271 489.5h1M271 549.5h1M271 557.5h1M272 556.5h1M272 586.5h1M273 506.5h1M273 561.5h1M274 493.5h1M275 482.5h1M275 494.5h1M276 538.5h1M276 615.5h1M277 477.5h1M277 536.5h1M277 554.5h1M279 491.5h1M280 488.5h1M280 514.5h1M280 531.5h1M280 542.5h1M281 532.5h1M281 537.5h1M282 534.5h1M283 484.5h1M283 528.5h1M283 556.5h1M284 489.5h1M284 537.5h1M285 484.5h1M287 484.5h1M287 514.5h1M288 546.5h1M289 511.5h1M290 491.5h1M291 494.5h1M292 493.5h1M292 496.5h1M293 497.5h1M293 515.5h1M293 532.5h1M295 494.5h1M295 528.5h1M296 484.5h1M296 495.5h1M297 488.5h1M297 495.5h1M298 494.5h1M298 496.5h1M298 498.5h1M298 505.5h1M298 509.5h1M298 515.5h1M299 482.5h1M299 494.5h1M299 505.5h1M300 486.5h1M300 488.5h1M300 501.5h1M300 528.5h1M301 492.5h1M301 507.5h1M301 508.5h1M302 478.5h1M302 496.5h1M302 498.5h1M302 502.5h1M302 528.5h1M302 590.5h1M303 487.5h1M303 494.5h1M303 542.5h1M303 582.5h1M304 485.5h1M304 490.5h1M304 492.5h1M304 499.5h1M304 519.5h1M304 546.5h1M305 481.5h1M305 487.5h1M305 488.5h1M305 494.5h1M305 501.5h1M305 506.5h1M305 507.5h1M305 510.5h1M305 513.5h1M305 516.5h1M305 517.5h1M305 540.5h1M305 552.5h1M306 470.5h1M306 479.5h1M306 504.5h1M306 515.5h1M306 519.5h1M306 553.5h1M306 555.5h1M307 471.5h1M307 489.5h1M307 501.5h1M307 539.5h1M307 546.5h1M307 548.5h1M307 553.5h1M308 482.5h1M308 485.5h1M308 510.5h1M308 512.5h1M308 517.5h1M308 540.5h1M308 545.5h1M308 547.5h1M309 486.5h1M309 488.5h1M309 489.5h1M309 515.5h1M309 518.5h1M309 530.5h1M309 542.5h1M309 543.5h1M309 545.5h1M309 546.5h1M309 552.5h1M310 483.5h1M310 505.5h1M310 514.5h1M310 515.5h1M310 518.5h1M310 519.5h1M310 528.5h1M310 551.5h1M311 495.5h1M311 501.5h1M311 502.5h1M311 520.5h1M311 537.5h1M311 544.5h1M311 549.5h1M312 503.5h1M312 519.5h1M312 540.5h1M312 544.5h1M312 550.5h1M313 484.5h1M313 502.5h1M313 503.5h1M313 514.5h1M313 519.5h1M313 520.5h1M313 543.5h1M313 547.5h1M313 558.5h1M314 494.5h1M314 500.5h1M314 501.5h1M314 508.5h1M314 519.5h1M314 542.5h1M314 544.5h1M314 547.5h1M315 481.5h1M315 503.5h1M315 508.5h1M315 516.5h1M315 537.5h1M315 543.5h1M315 544.5h1M316 476.5h1M316 483.5h1M316 484.5h1M316 491.5h1M316 514.5h1M316 537.5h1M316 539.5h1M316 542.5h1M316 557.5h1M317 504.5h1M317 506.5h1M317 508.5h1M317 517.5h1M317 518.5h1M317 542.5h1M317 549.5h1M317 553.5h1M318 475.5h1M318 491.5h1M318 492.5h1M318 495.5h1M318 497.5h1M318 499.5h1M318 502.5h1M318 505.5h1M318 520.5h1M318 525.5h1M318 544.5h1M318 550.5h1M318 552.5h1M319 481.5h1M319 485.5h1M319 493.5h1M319 509.5h1M319 510.5h1M319 543.5h1M320 483.5h1M320 485.5h1M320 487.5h1M320 489.5h1M320 498.5h1M320 506.5h1M320 516.5h1M320 517.5h1M320 519.5h1M320 542.5h1M320 544.5h1M320 605.5h1M321 488.5h1M321 506.5h1M321 511.5h1M321 552.5h1M322 483.5h1M322 490.5h1M322 518.5h1M322 541.5h1M323 487.5h1M323 492.5h1M323 494.5h1M323 497.5h1M323 503.5h1M323 519.5h1M323 533.5h1M324 485.5h1M324 501.5h1M325 494.5h1M325 528.5h1M326 512.5h1M327 480.5h1M328 461.5h1M328 485.5h1M328 516.5h1M329 484.5h1M330 496.5h1M331 481.5h1M333 488.5h1M334 491.5h1M336 493.5h1M339 497.5h1M351 515.5h1M351 587.5h1M355 479.5h1M362 585.5h1" stroke="#aeaeea"/>
<path d="M214 565.5h1M214 569.5h1M214 572.5h1M214 585.5h1M214 590.5h1M214 596.5h1M214 607.5h1M215 541.5h1M215 573.5h1M215 591.5h1M215 595.5h1M216 569.5h1M217 559.5h1M219 582.5h1M219 584.5h1M220 610.5h1M221 560.5h1M221 575.5h1M221 588.5h1M221 597.5h1M222 577.5h1M222 581.5h1M222 595.5h1M223 553.5h1M223 568.5h1M223 569.5h1M223 577.5h1M223 578.5h1M223 586.5h1M223 603.5h1M223 615.5h1M224 463.5h1M224 586.5h1M224 603.5h1M224 612.5h1M225 564.5h1M225 577.5h1M225 592.5h1M225 601.5h1M225 606.5h1M226 495.5h1M226 574.5h1M226 580.5h1M226 587.5h1M227 585.5h1M227 599.5h1M227 608.5h1M228 573.5h1M228 577.5h1M229 563.5h1M230 569.5h1M230 586.5h1M230 591.5h1M230 592.5h1M230 593.5h1M230 596.5h1M230 601.5h1M230 614.5h1M230 615.5h1M231 554.5h1M231 557.5h1M231 572.5h1M231 574.5h1M231 587.5h1M231 594.5h1M231 600.5h1M232 538.5h1M232 567.5h1M232 580.5h1M232 584.5h1M232 593.5h1M232 604.5h1M233 547.5h1M233 563.5h1M233 574.5h1M233 584.5h1M233 591.5h1M234 556.5h1M234 568.5h1M234 571.5h1M234 585.5h1M234 593.5h1M234 596.5h1M234 597.5h1M234 604.5h1M234 615.5h1M235 485.5h1M235 555.5h1M235 564.5h1M235 580.5h1M235 585.5h1M235 593.5h1M235 595.5h1M235 601.5h1M236 566.5h1M236 578.5h1M236 597.5h1M236 612.5h1M237 553.5h1M237 560.5h1M237 571.5h1M237 575.5h1M237 583.5h1M237 593.5h1M237 615.5h1M238 568.5h1M238 577.5h1M238 595.5h1M238 604.5h1M239 576.5h1M239 580.5h1M239 583.5h1M239 585.5h1M239 611.5h1M240 569.5h1M240 582.5h1M240 590.5h1M240 594.5h1M241 581.5h1M241 585.5h1M241 593.5h1M242 485.5h1M242 572.5h1M242 597.5h1M242 607.5h1M242 612.5h1M243 543.5h1M243 552.5h1M243 564.5h1M243 583.5h1M243 589.5h1M244 547.5h1M244 550.5h1M244 573.5h1M244 577.5h1M244 598.5h1M245 557.5h1M245 563.5h1M245 567.5h1M245 580.5h1M245 594.5h1M246 561.5h1M246 570.5h1M246 573.5h1M246 578.5h1M246 579.5h1M246 584.5h1M246 599.5h1M247 560.5h1M247 562.5h1M247 564.5h1M247 567.5h1M247 579.5h1M247 580.5h1M247 585.5h1M247 597.5h1M247 612.5h1M248 547.5h1M248 558.5h1M248 578.5h1M248 583.5h1M248 587.5h1M248 590.5h1M249 541.5h1M249 570.5h1M249 574.5h1M250 540.5h1M250 559.5h1M250 560.5h1M250 570.5h1M250 577.5h1M250 579.5h1M251 537.5h1M251 560.5h1M251 561.5h1M251 579.5h1M251 582.5h1M251 592.5h1M251 600.5h1M252 526.5h1M252 545.5h1M252 576.5h1M252 586.5h1M253 543.5h1M253 615.5h1M254 558.5h1M254 570.5h1M254 572.5h1M254 577.5h1M254 581.5h1M255 555.5h1M255 563.5h1M255 579.5h1M255 581.5h1M255 598.5h1M255 612.5h1M256 558.5h1M256 563.5h1M256 572.5h1M256 592.5h1M257 577.5h1M257 578.5h1M257 600.5h1M257 605.5h1M258 560.5h1M258 572.5h1M258 586.5h1M258 596.5h1M259 492.5h1M259 559.5h1M259 571.5h1M259 597.5h1M259 608.5h1M260 544.5h1M260 551.5h1M260 555.5h1M260 566.5h1M260 579.5h1M260 615.5h1M261 539.5h1M261 547.5h1M261 573.5h1M262 581.5h1M262 590.5h1M262 592.5h1M263 583.5h1M264 495.5h1M264 554.5h1M264 563.5h1M264 572.5h1M265 567.5h1M265 592.5h1M265 593.5h1M266 530.5h1M267 557.5h1M267 578.5h1M269 553.5h1M273 560.5h1M273 588.5h1M274 550.5h1M275 497.5h1M275 555.5h1M276 485.5h1M276 489.5h1M277 492.5h1M278 489.5h1M280 483.5h1M280 487.5h1M280 491.5h1M280 494.5h1M280 553.5h1M282 492.5h1M284 531.5h1M285 488.5h1M285 491.5h1M285 552.5h1M286 540.5h1M286 606.5h1M287 523.5h1M289 482.5h1M289 485.5h1M289 491.5h1M289 532.5h1M289 541.5h1M290 487.5h1M290 499.5h1M291 487.5h1M291 574.5h1M292 488.5h1M292 491.5h1M293 491.5h1M293 506.5h1M294 495.5h1M294 528.5h1M295 487.5h1M295 489.5h1M295 497.5h1M295 521.5h1M296 489.5h1M296 493.5h1M296 496.5h1M296 532.5h1M298 485.5h1M298 487.5h1M298 535.5h1M299 480.5h1M299 483.5h1M300 481.5h1M300 493.5h1M300 510.5h1M301 485.5h1M301 488.5h1M301 493.5h1M301 500.5h1M301 506.5h1M302 482.5h1M302 488.5h1M302 492.5h1M302 503.5h1M302 504.5h1M302 508.5h1M303 483.5h1M303 484.5h1M303 495.5h1M303 496.5h1M303 498.5h1M303 502.5h1M303 524.5h1M303 554.5h1M304 487.5h1M304 488.5h1M304 493.5h1M304 494.5h1M304 495.5h1M304 501.5h1M304 502.5h1M304 505.5h1M304 517.5h1M304 518.5h1M304 555.5h1M305 484.5h1M305 489.5h1M305 496.5h1M305 499.5h1M305 538.5h1M305 549.5h1M306 486.5h1M306 489.5h1M306 492.5h1M306 495.5h1M306 499.5h1M306 501.5h1M306 506.5h1M306 516.5h1M306 542.5h1M306 544.5h1M307 480.5h1M307 484.5h1M307 488.5h1M307 491.5h1M307 502.5h1M307 503.5h1M307 507.5h1M307 537.5h1M307 540.5h1M307 550.5h1M307 551.5h1M308 491.5h1M308 493.5h1M308 497.5h1M308 498.5h1M308 500.5h1M308 505.5h1M308 507.5h1M308 546.5h1M309 483.5h1M309 484.5h1M309 490.5h1M309 495.5h1M309 497.5h1M309 498.5h1M309 501.5h1M309 509.5h1M309 512.5h1M309 516.5h1M309 548.5h1M309 550.5h1M310 475.5h1M310 478.5h1M310 481.5h1M310 487.5h1M310 488.5h1M310 493.5h1M310 499.5h1M310 500.5h1M310 502.5h1M310 510.5h1M310 517.5h1M310 541.5h1M310 545.5h1M310 547.5h1M310 548.5h1M310 550.5h1M310 556.5h1M311 483.5h1M311 485.5h1M311 487.5h1M311 496.5h1M311 507.5h1M311 508.5h1M311 513.5h1M311 527.5h1M311 545.5h1M311 547.5h1M311 548.5h1M311 551.5h1M312 480.5h1M312 487.5h1M312 488.5h1M312 491.5h1M312 495.5h1M312 497.5h1M312 505.5h1M312 508.5h1M312 511.5h1M312 513.5h1M312 523.5h1M312 525.5h1M312 537.5h1M312 538.5h1M312 545.5h1M312 552.5h1M313 485.5h1M313 488.5h1M313 495.5h1M313 511.5h1M313 516.5h1M313 522.5h1M313 538.5h1M313 546.5h1M313 548.5h1M313 552.5h1M313 553.5h1M313 611.5h1M314 478.5h1M314 488.5h1M314 490.5h1M314 498.5h1M314 503.5h1M314 509.5h1M314 512.5h1M314 516.5h1M314 523.5h1M314 540.5h1M314 543.5h1M314 545.5h1M314 546.5h1M314 548.5h1M314 551.5h1M315 493.5h1M315 507.5h1M315 509.5h1M315 513.5h1M315 514.5h1M315 523.5h1M315 547.5h1M315 548.5h1M316 489.5h1M316 501.5h1M316 502.5h1M316 504.5h1M316 505.5h1M316 513.5h1M316 518.5h1M316 547.5h1M317 485.5h1M317 487.5h1M317 488.5h1M317 511.5h1M317 519.5h1M317 524.5h1M317 525.5h1M317 539.5h1M317 543.5h1M318 484.5h1M318 488.5h1M318 494.5h1M318 508.5h1M318 510.5h1M318 512.5h1M318 514.5h1M318 538.5h1M318 543.5h1M318 545.5h1M318 547.5h1M319 491.5h1M319 495.5h1M319 501.5h1M319 505.5h1M319 508.5h1M319 511.5h1M319 545.5h1M319 550.5h1M320 486.5h1M320 491.5h1M320 493.5h1M320 497.5h1M320 500.5h1M320 520.5h1M320 550.5h1M321 492.5h1M321 496.5h1M321 499.5h1M321 504.5h1M321 509.5h1M321 520.5h1M321 542.5h1M321 547.5h1M322 493.5h1M322 550.5h1M323 496.5h1M324 507.5h1M324 539.5h1M325 479.5h1M325 493.5h1M325 496.5h1M325 509.5h1M326 518.5h1M328 525.5h1M330 498.5h1M338 508.5h1M343 493.5h1M344 485.5h1M345 489.5h1M346 501.5h1M347 514.5h1M350 508.5h1M352 476.5h1M354 478.5h1" stroke="#9090de"/>
<path d="M214 536.5h1M214 563.5h1M214 568.5h1M214 570.5h1M214 571.5h1M214 574.5h1M214 575.5h1M214 580.5h1M214 586.5h1M214 594.5h1M214 595.5h1M215 578.5h1M216 562.5h1M216 590.5h1M217 581.5h1M217 583.5h1M217 586.5h1M218 548.5h1M218 581.5h1M218 603.5h1M218 615.5h1M219 474.5h1M219 572.5h1M219 593.5h1M219 597.5h1M219 615.5h1M220 563.5h1M220 576.5h1M220 577.5h1M221 488.5h1M221 509.5h1M221 552.5h1M221 595.5h1M222 572.5h1M222 573.5h1M222 578.5h1M222 579.5h1M223 556.5h1M223 564.5h1M223 572.5h1M223 573.5h1M223 589.5h1M223 599.5h1M223 604.5h1M223 612.5h1M224 576.5h1M224 587.5h1M224 591.5h1M224 595.5h1M225 549.5h1M225 579.5h1M225 583.5h1M225 596.5h1M226 548.5h1M226 554.5h1M226 561.5h1M226 572.5h1M226 577.5h1M226 594.5h1M226 599.5h1M227 483.5h1M227 582.5h1M227 590.5h1M227 592.5h1M227 594.5h1M227 615.5h1M228 532.5h1M228 557.5h1M228 566.5h1M228 578.5h1M228 583.5h1M229 552.5h1M229 569.5h1M229 586.5h1M229 590.5h1M229 608.5h1M230 552.5h1M230 559.5h1M230 584.5h1M230 589.5h1M230 602.5h1M230 608.5h1M231 559.5h1M231 581.5h1M232 461.5h1M232 530.5h1M232 540.5h1M232 545.5h1M232 563.5h1M232 582.5h1M232 588.5h1M232 594.5h1M232 609.5h1M232 613.5h1M232 615.5h1M233 546.5h1M233 560.5h1M233 564.5h1M233 569.5h1M233 571.5h1M233 573.5h1M233 575.5h1M234 534.5h1M234 562.5h1M234 578.5h1M234 579.5h1M234 584.5h1M234 589.5h1M234 590.5h1M234 592.5h1M234 598.5h1M235 546.5h1M235 584.5h1M235 587.5h1M235 589.5h1M235 599.5h1M235 609.5h1M236 554.5h1M236 562.5h1M236 567.5h1M236 571.5h1M236 575.5h1M236 595.5h1M236 602.5h1M236 604.5h1M236 608.5h1M236 609.5h1M236 613.5h1M237 478.5h1M237 548.5h1M237 562.5h1M237 576.5h1M237 586.5h1M237 592.5h1M238 557.5h1M238 565.5h1M238 570.5h1M238 589.5h1M239 486.5h1M239 547.5h1M239 548.5h1M239 552.5h1M239 553.5h1M239 563.5h1M239 564.5h1M239 587.5h1M239 591.5h1M239 599.5h1M239 606.5h1M240 550.5h1M240 554.5h1M240 557.5h1M240 560.5h1M240 570.5h1M240 572.5h1M240 575.5h1M240 588.5h1M240 597.5h1M240 607.5h1M241 490.5h1M241 494.5h1M241 566.5h1M241 572.5h1M241 576.5h1M241 579.5h1M241 580.5h1M241 589.5h1M241 614.5h1M242 549.5h1M242 563.5h1M242 579.5h1M242 586.5h1M242 598.5h1M243 550.5h1M243 567.5h1M243 605.5h1M244 551.5h1M244 557.5h1M244 559.5h1M244 562.5h1M244 567.5h1M244 568.5h1M244 585.5h1M244 594.5h1M244 597.5h1M244 599.5h1M244 603.5h1M244 607.5h1M245 566.5h1M245 582.5h1M245 588.5h1M245 606.5h1M245 609.5h1M245 610.5h1M246 537.5h1M246 566.5h1M246 575.5h1M246 576.5h1M246 582.5h1M246 588.5h1M246 591.5h1M246 593.5h1M246 600.5h1M247 479.5h1M247 506.5h1M247 572.5h1M247 590.5h1M247 606.5h1M247 615.5h1M248 480.5h1M248 555.5h1M248 556.5h1M248 562.5h1M248 568.5h1M248 572.5h1M248 575.5h1M249 545.5h1M249 553.5h1M249 587.5h1M249 610.5h1M250 572.5h1M250 582.5h1M251 583.5h1M251 597.5h1M252 519.5h1M252 557.5h1M252 558.5h1M252 560.5h1M252 575.5h1M252 582.5h1M252 583.5h1M252 591.5h1M252 599.5h1M253 551.5h1M253 552.5h1M253 571.5h1M253 576.5h1M253 578.5h1M253 581.5h1M253 588.5h1M254 557.5h1M254 563.5h1M254 569.5h1M254 579.5h1M254 596.5h1M254 607.5h1M255 546.5h1M255 566.5h1M255 567.5h1M256 571.5h1M256 588.5h1M256 594.5h1M257 556.5h1M257 557.5h1M257 575.5h1M257 576.5h1M257 591.5h1M257 599.5h1M258 493.5h1M258 547.5h1M258 554.5h1M258 555.5h1M258 562.5h1M258 566.5h1M258 587.5h1M259 485.5h1M259 554.5h1M259 578.5h1M259 589.5h1M259 596.5h1M260 477.5h1M260 484.5h1M260 553.5h1M260 561.5h1M261 569.5h1M261 582.5h1M262 546.5h1M262 558.5h1M262 572.5h1M262 580.5h1M262 595.5h1M263 561.5h1M263 579.5h1M263 599.5h1M264 578.5h1M264 589.5h1M264 599.5h1M265 608.5h1M266 491.5h1M266 557.5h1M266 567.5h1M266 574.5h1M267 552.5h1M267 593.5h1M267 598.5h1M268 487.5h1M268 547.5h1M268 567.5h1M269 542.5h1M269 571.5h1M269 581.5h1M269 583.5h1M269 592.5h1M269 593.5h1M270 582.5h1M271 469.5h1M271 575.5h1M271 579.5h1M272 492.5h1M272 545.5h1M272 581.5h1M272 584.5h1M272 585.5h1M273 492.5h1M273 553.5h1M274 546.5h1M274 548.5h1M274 558.5h1M275 556.5h1M276 486.5h1M276 488.5h1M276 493.5h1M276 514.5h1M277 484.5h1M277 487.5h1M277 522.5h1M277 577.5h1M278 513.5h1M278 521.5h1M278 560.5h1M279 480.5h1M279 552.5h1M279 570.5h1M280 544.5h1M280 555.5h1M281 489.5h1M281 530.5h1M281 538.5h1M281 559.5h1M281 593.5h1M282 483.5h1M282 536.5h1M283 483.5h1M284 547.5h1M285 547.5h1M286 485.5h1M286 519.5h1M286 569.5h1M287 486.5h1M287 488.5h1M287 555.5h1M288 488.5h1M288 490.5h1M289 489.5h1M290 488.5h1M290 495.5h1M290 511.5h1M291 521.5h1M291 573.5h1M293 488.5h1M293 531.5h1M293 539.5h1M295 483.5h1M295 493.5h1M295 520.5h1M296 487.5h1M297 485.5h1M298 479.5h1M298 480.5h1M298 492.5h1M298 497.5h1M298 499.5h1M299 484.5h1M299 491.5h1M300 489.5h1M300 491.5h1M300 498.5h1M300 610.5h1M301 486.5h1M301 518.5h1M301 519.5h1M301 523.5h1M302 517.5h1M302 540.5h1M303 511.5h1M303 515.5h1M304 489.5h1M304 503.5h1M304 529.5h1M304 541.5h1M305 478.5h1M305 482.5h1M305 500.5h1M305 551.5h1M305 553.5h1M305 582.5h1M306 510.5h1M306 552.5h1M307 510.5h1M307 555.5h1M308 478.5h1M308 513.5h1M308 521.5h1M308 543.5h1M309 511.5h1M309 513.5h1M309 517.5h1M309 522.5h1M309 526.5h1M309 528.5h1M309 535.5h1M309 538.5h1M309 553.5h1M310 538.5h1M310 553.5h1M310 571.5h1M311 472.5h1M311 474.5h1M311 553.5h1M311 554.5h1M312 474.5h1M312 479.5h1M312 482.5h1M312 498.5h1M312 507.5h1M312 534.5h1M313 482.5h1M313 513.5h1M313 549.5h1M313 557.5h1M314 493.5h1M314 517.5h1M314 526.5h1M314 538.5h1M314 555.5h1M314 556.5h1M315 476.5h1M315 504.5h1M315 506.5h1M315 539.5h1M315 551.5h1M315 554.5h1M315 555.5h1M316 521.5h1M317 495.5h1M317 514.5h1M317 540.5h1M318 482.5h1M318 498.5h1M318 518.5h1M318 536.5h1M318 539.5h1M318 546.5h1M319 518.5h1M319 537.5h1M319 557.5h1M320 477.5h1M320 492.5h1M320 494.5h1M320 509.5h1M320 510.5h1M320 511.5h1M320 534.5h1M320 539.5h1M320 549.5h1M321 485.5h1M321 526.5h1M321 548.5h1M322 544.5h1M323 484.5h1M323 493.5h1M323 499.5h1M324 487.5h1M324 488.5h1M324 497.5h1M325 513.5h1M325 518.5h1M327 491.5h1M327 494.5h1M327 538.5h1M328 470.5h1M328 478.5h1M328 497.5h1M328 498.5h1M329 485.5h1M329 488.5h1M329 507.5h1M330 488.5h1M330 499.5h1M331 502.5h1M332 479.5h1M332 493.5h1M332 495.5h1M333 559.5h1M336 462.5h1M336 507.5h1M337 597.5h1M338 482.5h1M338 486.5h1M341 472.5h1M344 472.5h1M346 468.5h1M346 500.5h1M348 484.5h1M348 581.5h1M351 498.5h1M355 483.5h1M357 533.5h1M358 528.5h1M359 518.5h1" stroke="#c6c6f2"/>
<path d="M214 482.5h1M214 564.5h1M214 566.5h1M214 577.5h1M214 581.5h1M214 597.5h1M214 611.5h1M214 612.5h1M216 602.5h1M216 612.5h1M218 555.5h1M218 611.5h1M219 571.5h1M219 576.5h1M219 581.5h1M219 605.5h1M220 593.5h1M222 582.5h1M222 589.5h1M223 585.5h1M224 573.5h1M224 594.5h1M224 605.5h1M224 615.5h1M225 510.5h1M225 543.5h1M225 560.5h1M225 568.5h1M225 572.5h1M225 580.5h1M225 587.5h1M225 591.5h1M226 589.5h1M226 590.5h1M226 597.5h1M226 600.5h1M226 602.5h1M226 608.5h1M226 612.5h1M227 562.5h1M227 596.5h1M228 488.5h1M228 576.5h1M228 596.5h1M228 615.5h1M229 583.5h1M229 584.5h1M229 601.5h1M229 602.5h1M230 567.5h1M230 570.5h1M230 574.5h1M230 577.5h1M230 578.5h1M230 582.5h1M230 590.5h1M231 531.5h1M231 576.5h1M231 578.5h1M231 583.5h1M231 599.5h1M231 601.5h1M232 569.5h1M232 571.5h1M232 578.5h1M232 585.5h1M232 587.5h1M232 605.5h1M233 565.5h1M233 567.5h1M233 580.5h1M233 581.5h1M233 595.5h1M233 597.5h1M234 555.5h1M234 569.5h1M234 574.5h1M234 577.5h1M234 587.5h1M234 609.5h1M234 612.5h1M235 567.5h1M235 573.5h1M236 569.5h1M236 573.5h1M236 584.5h1M236 585.5h1M236 588.5h1M236 596.5h1M236 598.5h1M237 552.5h1M237 585.5h1M238 556.5h1M238 558.5h1M238 571.5h1M238 591.5h1M238 598.5h1M239 480.5h1M239 550.5h1M239 575.5h1M239 582.5h1M239 584.5h1M239 595.5h1M240 578.5h1M240 581.5h1M240 586.5h1M240 614.5h1M241 571.5h1M241 590.5h1M242 539.5h1M242 567.5h1M242 580.5h1M242 585.5h1M242 590.5h1M243 560.5h1M243 568.5h1M243 571.5h1M243 573.5h1M243 577.5h1M243 593.5h1M243 598.5h1M243 603.5h1M244 560.5h1M244 578.5h1M244 581.5h1M244 582.5h1M244 586.5h1M245 536.5h1M245 538.5h1M245 578.5h1M245 584.5h1M245 590.5h1M245 591.5h1M245 595.5h1M246 562.5h1M246 581.5h1M246 586.5h1M246 590.5h1M247 563.5h1M247 586.5h1M248 543.5h1M248 549.5h1M248 563.5h1M248 571.5h1M248 573.5h1M248 576.5h1M248 580.5h1M249 498.5h1M249 560.5h1M249 584.5h1M249 588.5h1M250 552.5h1M250 558.5h1M250 566.5h1M250 576.5h1M250 578.5h1M251 563.5h1M251 564.5h1M251 574.5h1M251 591.5h1M251 598.5h1M252 494.5h1M252 530.5h1M252 559.5h1M252 574.5h1M252 577.5h1M253 502.5h1M253 569.5h1M253 587.5h1M254 580.5h1M254 585.5h1M254 586.5h1M254 610.5h1M255 582.5h1M256 575.5h1M256 583.5h1M256 600.5h1M256 603.5h1M257 552.5h1M257 560.5h1M257 568.5h1M257 583.5h1M257 593.5h1M258 563.5h1M258 571.5h1M259 544.5h1M259 558.5h1M259 585.5h1M262 547.5h1M262 609.5h1M263 566.5h1M264 565.5h1M264 582.5h1M267 487.5h1M268 550.5h1M270 569.5h1M271 485.5h1M274 488.5h1M274 492.5h1M275 528.5h1M276 487.5h1M278 573.5h1M280 480.5h1M280 547.5h1M282 486.5h1M282 490.5h1M283 490.5h1M284 488.5h1M284 493.5h1M285 526.5h1M286 487.5h1M286 488.5h1M289 486.5h1M290 493.5h1M291 490.5h1M291 491.5h1M291 493.5h1M292 490.5h1M293 487.5h1M293 499.5h1M294 489.5h1M294 493.5h1M294 535.5h1M295 514.5h1M297 489.5h1M298 490.5h1M298 491.5h1M299 493.5h1M299 567.5h1M300 492.5h1M300 497.5h1M301 484.5h1M302 483.5h1M302 484.5h1M302 495.5h1M302 509.5h1M303 486.5h1M303 488.5h1M303 491.5h1M303 503.5h1M303 518.5h1M304 483.5h1M304 484.5h1M304 498.5h1M304 508.5h1M305 475.5h1M305 483.5h1M305 485.5h1M305 491.5h1M305 493.5h1M305 495.5h1M305 497.5h1M305 498.5h1M305 503.5h1M305 504.5h1M305 508.5h1M305 520.5h1M306 494.5h1M306 498.5h1M306 500.5h1M306 502.5h1M306 508.5h1M306 543.5h1M306 550.5h1M307 490.5h1M307 495.5h1M307 497.5h1M307 499.5h1M307 505.5h1M307 506.5h1M307 508.5h1M307 515.5h1M307 520.5h1M307 521.5h1M307 524.5h1M308 472.5h1M308 487.5h1M308 496.5h1M308 501.5h1M308 506.5h1M308 508.5h1M308 548.5h1M308 550.5h1M309 487.5h1M309 500.5h1M309 502.5h1M309 507.5h1M309 508.5h1M310 484.5h1M310 489.5h1M310 494.5h1M310 498.5h1M310 508.5h1M310 509.5h1M310 511.5h1M310 516.5h1M310 543.5h1M311 482.5h1M311 486.5h1M311 491.5h1M311 494.5h1M311 498.5h1M311 503.5h1M311 509.5h1M311 511.5h1M311 512.5h1M311 514.5h1M311 550.5h1M312 485.5h1M312 489.5h1M312 490.5h1M312 494.5h1M312 509.5h1M312 512.5h1M312 514.5h1M312 515.5h1M312 517.5h1M313 486.5h1M313 493.5h1M313 494.5h1M313 497.5h1M313 506.5h1M313 515.5h1M313 518.5h1M313 523.5h1M313 541.5h1M313 544.5h1M313 551.5h1M314 479.5h1M314 485.5h1M314 486.5h1M314 504.5h1M314 506.5h1M314 518.5h1M315 483.5h1M315 484.5h1M315 488.5h1M315 505.5h1M315 511.5h1M315 522.5h1M315 542.5h1M315 546.5h1M316 485.5h1M316 486.5h1M316 493.5h1M316 494.5h1M316 496.5h1M316 500.5h1M316 510.5h1M316 511.5h1M316 516.5h1M316 524.5h1M316 544.5h1M316 545.5h1M316 550.5h1M317 489.5h1M317 490.5h1M317 503.5h1M317 512.5h1M317 551.5h1M318 501.5h1M319 490.5h1M319 492.5h1M319 496.5h1M319 499.5h1M319 500.5h1M319 503.5h1M319 504.5h1M319 506.5h1M319 512.5h1M319 517.5h1M319 530.5h1M319 547.5h1M319 553.5h1M320 480.5h1M320 490.5h1M320 502.5h1M320 505.5h1M320 518.5h1M320 546.5h1M321 486.5h1M321 487.5h1M321 489.5h1M321 491.5h1M321 493.5h1M321 497.5h1M321 500.5h1M321 508.5h1M321 513.5h1M321 538.5h1M322 489.5h1M322 492.5h1M322 495.5h1M322 509.5h1M322 511.5h1M322 514.5h1M323 489.5h1M323 491.5h1M323 505.5h1M324 503.5h1M324 516.5h1M325 492.5h1M325 500.5h1M326 492.5h1M326 493.5h1M328 481.5h1M333 484.5h1M337 507.5h1M341 477.5h1M342 499.5h1M351 571.5h1M352 507.5h1M354 528.5h1M358 606.5h1" stroke="#7070d0"/>
<path d="M214 591.5h1M214 593.5h1M215 572.5h1M216 568.5h1M217 612.5h1M222 615.5h1M223 551.5h1M228 567.5h1M230 588.5h1M232 557.5h1M232 589.5h1M232 597.5h1M233 562.5h1M233 589.5h1M234 575.5h1M235 575.5h1M237 581.5h1M237 597.5h1M238 553.5h1M238 575.5h1M238 583.5h1M239 581.5h1M239 592.5h1M240 486.5h1M241 608.5h1M243 588.5h1M244 579.5h1M245 585.5h1M248 541.5h1M249 600.5h1M250 575.5h1M250 585.5h1M250 607.5h1M251 571.5h1M252 569.5h1M252 594.5h1M252 603.5h1M254 578.5h1M255 558.5h1M255 576.5h1M257 540.5h1M257 584.5h1M259 553.5h1M259 568.5h1M260 574.5h1M261 561.5h1M262 565.5h1M263 587.5h1M264 590.5h1M265 586.5h1M270 577.5h1M281 494.5h1M284 494.5h1M289 484.5h1M293 484.5h1M296 490.5h1M296 491.5h1M297 486.5h1M298 486.5h1M299 487.5h1M301 491.5h1M302 487.5h1M302 506.5h1M304 496.5h1M305 505.5h1M305 514.5h1M306 485.5h1M306 487.5h1M306 503.5h1M307 544.5h1M308 481.5h1M309 503.5h1M309 505.5h1M310 485.5h1M310 491.5h1M310 544.5h1M310 546.5h1M311 516.5h1M311 517.5h1M311 542.5h1M311 546.5h1M312 551.5h1M314 510.5h1M314 537.5h1M314 539.5h1M315 482.5h1M315 485.5h1M315 492.5h1M315 498.5h1M315 500.5h1M315 545.5h1M316 495.5h1M316 508.5h1M316 553.5h1M317 482.5h1M317 499.5h1M317 501.5h1M317 513.5h1M318 490.5h1M318 537.5h1M319 498.5h1M321 482.5h1M321 494.5h1M322 491.5h1M323 502.5h1M323 507.5h1" stroke="#34347c"/>
<path d="M214 579.5h1M214 582.5h1M214 588.5h1M217 508.5h1M217 590.5h1M218 602.5h1M220 579.5h1M221 567.5h1M221 577.5h1M221 582.5h1M221 615.5h1M222 587.5h1M223 583.5h1M224 588.5h1M224 613.5h1M225 553.5h1M225 561.5h1M225 590.5h1M228 581.5h1M229 542.5h1M229 578.5h1M230 535.5h1M230 553.5h1M230 554.5h1M230 585.5h1M230 604.5h1M231 566.5h1M231 589.5h1M231 597.5h1M233 577.5h1M234 552.5h1M234 558.5h1M235 563.5h1M235 577.5h1M235 582.5h1M235 594.5h1M235 598.5h1M236 470.5h1M236 552.5h1M236 587.5h1M237 569.5h1M237 577.5h1M237 580.5h1M238 578.5h1M238 615.5h1M239 577.5h1M240 558.5h1M240 583.5h1M241 530.5h1M241 554.5h1M241 556.5h1M241 602.5h1M241 611.5h1M242 548.5h1M242 562.5h1M242 582.5h1M242 587.5h1M242 589.5h1M243 555.5h1M243 557.5h1M243 580.5h1M243 586.5h1M244 554.5h1M244 571.5h1M244 590.5h1M244 610.5h1M245 558.5h1M245 561.5h1M245 581.5h1M246 572.5h1M246 574.5h1M247 494.5h1M247 566.5h1M247 571.5h1M247 574.5h1M247 576.5h1M247 583.5h1M247 592.5h1M248 553.5h1M248 584.5h1M248 607.5h1M249 565.5h1M249 585.5h1M249 596.5h1M249 599.5h1M250 569.5h1M250 573.5h1M250 574.5h1M250 594.5h1M251 556.5h1M251 567.5h1M251 569.5h1M251 593.5h1M251 594.5h1M252 572.5h1M252 593.5h1M253 564.5h1M253 594.5h1M254 553.5h1M254 571.5h1M254 573.5h1M254 606.5h1M255 569.5h1M255 570.5h1M256 546.5h1M256 547.5h1M256 580.5h1M257 495.5h1M257 549.5h1M257 572.5h1M258 582.5h1M258 589.5h1M259 579.5h1M259 593.5h1M260 577.5h1M261 558.5h1M261 565.5h1M262 549.5h1M263 574.5h1M265 575.5h1M266 549.5h1M267 583.5h1M269 568.5h1M273 488.5h1M274 562.5h1M275 491.5h1M278 588.5h1M281 547.5h1M282 496.5h1M283 494.5h1M284 536.5h1M287 527.5h1M288 526.5h1M289 538.5h1M294 497.5h1M295 490.5h1M295 495.5h1M296 488.5h1M298 489.5h1M299 496.5h1M299 499.5h1M300 487.5h1M300 495.5h1M300 537.5h1M301 494.5h1M301 502.5h1M302 489.5h1M302 491.5h1M302 497.5h1M302 500.5h1M302 501.5h1M303 490.5h1M303 505.5h1M303 507.5h1M303 514.5h1M305 486.5h1M305 502.5h1M305 511.5h1M306 484.5h1M306 490.5h1M306 496.5h1M306 507.5h1M306 513.5h1M307 487.5h1M307 493.5h1M307 511.5h1M307 543.5h1M307 549.5h1M308 483.5h1M308 492.5h1M308 502.5h1M308 511.5h1M308 537.5h1M309 482.5h1M309 485.5h1M309 496.5h1M309 506.5h1M309 510.5h1M309 547.5h1M310 504.5h1M310 506.5h1M310 540.5h1M310 542.5h1M311 506.5h1M311 510.5h1M311 515.5h1M311 524.5h1M311 532.5h1M312 496.5h1M312 501.5h1M312 510.5h1M312 555.5h1M313 505.5h1M313 509.5h1M314 487.5h1M314 491.5h1M314 505.5h1M314 507.5h1M314 554.5h1M315 490.5h1M315 510.5h1M315 512.5h1M315 518.5h1M315 525.5h1M315 540.5h1M315 541.5h1M315 550.5h1M315 552.5h1M316 488.5h1M316 499.5h1M316 506.5h1M316 507.5h1M316 515.5h1M317 481.5h1M317 491.5h1M317 494.5h1M317 496.5h1M317 498.5h1M317 500.5h1M317 510.5h1M317 541.5h1M317 546.5h1M317 547.5h1M317 552.5h1M318 489.5h1M318 493.5h1M318 504.5h1M318 548.5h1M319 489.5h1M319 548.5h1M320 479.5h1M320 495.5h1M320 504.5h1M321 490.5h1M322 486.5h1M322 496.5h1M322 502.5h1M322 516.5h1M323 490.5h1M324 484.5h1M324 491.5h1M325 499.5h1M325 504.5h1M326 500.5h1M326 501.5h1M334 484.5h1M340 573.5h1M346 520.5h1M367 596.5h1" stroke="#5252c0"/>
<path d="M306 488.5h1M306 491.5h1M307 498.5h1M308 490.5h1M308 495.5h1M309 492.5h1M309 499.5h1M310 490.5h1M310 495.5h1M310 496.5h1M310 497.5h1M310 501.5h1M311 490.5h1M311 499.5h1M312 492.5h1M312 493.5h1M312 499.5h1M312 500.5h1M312 504.5h1M312 547.5h1M313 487.5h1M313 489.5h1M313 490.5h1M313 491.5h1M313 492.5h1M313 496.5h1M313 498.5h1M313 499.5h1M313 501.5h1M313 504.5h1M313 550.5h1M314 489.5h1M314 492.5h1M314 497.5h1M314 499.5h1M314 549.5h1M315 486.5h1M315 489.5h1M315 491.5h1M315 494.5h1M315 495.5h1M315 496.5h1M315 501.5h1M315 502.5h1M315 549.5h1M316 490.5h1M316 492.5h1M316 548.5h1M317 493.5h1M318 500.5h1" stroke="#6f9a78"/>
<path d="M306 493.5h1M307 494.5h1M307 496.5h1M308 494.5h1M309 493.5h1M309 494.5h1M310 486.5h1M311 488.5h1M311 489.5h1M311 492.5h1M311 497.5h1M312 486.5h1M312 506.5h1M312 546.5h1M313 500.5h1M313 545.5h1M314 495.5h1M314 496.5h1M315 497.5h1M315 499.5h1M316 497.5h1M316 498.5h1M316 503.5h1M316 543.5h1M317 497.5h1M317 502.5h1M318 496.5h1M318 503.5h1" stroke="#3a5a50"/>
</g>
<path d="M214 615.6v-3M214 615.6h3M225.54 615.6v-1.5M214 603.95h1.5M232.29 615.6v-1.5M214 597.14h1.5M237.07 615.6v-1.5M214 592.3h1.5M240.79 615.6v-1.5M214 588.55h1.5M243.82 615.6v-1.5M214 585.49h1.5M246.39 615.6v-1.5M214 582.89h1.5M248.61 615.6v-1.5M214 580.65h1.5M250.57 615.6v-1.5M214 578.67h1.5M252.32 615.6v-3M214 576.9h3M263.86 615.6v-1.5M214 565.25h1.5M270.61 615.6v-1.5M214 558.44h1.5M275.4 615.6v-1.5M214 553.6h1.5M279.11 615.6v-1.5M214 549.85h1.5M282.15 615.6v-1.5M214 546.79h1.5M284.71 615.6v-1.5M214 544.19h1.5M286.94 615.6v-1.5M214 541.95h1.5M288.9 615.6v-1.5M214 539.97h1.5M290.65 615.6v-3M214 538.2h3M302.19 615.6v-1.5M214 526.55h1.5M308.94 615.6v-1.5M214 519.74h1.5M313.72 615.6v-1.5M214 514.9h1.5M317.44 615.6v-1.5M214 511.15h1.5M320.47 615.6v-1.5M214 508.09h1.5M323.04 615.6v-1.5M214 505.49h1.5M325.26 615.6v-1.5M214 503.25h1.5M327.22 615.6v-1.5M214 501.27h1.5M328.98 615.6v-3M214 499.5h3M340.51 615.6v-1.5M214 487.85h1.5M347.26 615.6v-1.5M214 481.04h1.5M352.05 615.6v-1.5M214 476.2h1.5M355.76 615.6v-1.5M214 472.45h1.5M358.8 615.6v-1.5M214 469.39h1.5M361.36 615.6v-1.5M214 466.79h1.5M363.59 615.6v-1.5M214 464.55h1.5M365.55 615.6v-1.5M214 462.57h1.5" stroke="#777" stroke-width="0.7" fill="none"/>
<text x="209.8" y="628.8" class="t2" font-size="6.3" font-weight="normal" fill="#222">10<tspan font-size="4.2" dy="-2.4">0</tspan></text>
<text x="199.5" y="617.8" class="t2" font-size="6.3" font-weight="normal" fill="#222">10<tspan font-size="4.2" dy="-2.4">0</tspan></text>
<text x="248.12" y="628.8" class="t2" font-size="6.3" font-weight="normal" fill="#222">10<tspan font-size="4.2" dy="-2.4">1</tspan></text>
<text x="199.5" y="579.1" class="t2" font-size="6.3" font-weight="normal" fill="#222">10<tspan font-size="4.2" dy="-2.4">1</tspan></text>
<text x="286.45" y="628.8" class="t2" font-size="6.3" font-weight="normal" fill="#222">10<tspan font-size="4.2" dy="-2.4">2</tspan></text>
<text x="199.5" y="540.4" class="t2" font-size="6.3" font-weight="normal" fill="#222">10<tspan font-size="4.2" dy="-2.4">2</tspan></text>
<text x="324.78" y="628.8" class="t2" font-size="6.3" font-weight="normal" fill="#222">10<tspan font-size="4.2" dy="-2.4">3</tspan></text>
<text x="199.5" y="501.7" class="t2" font-size="6.3" font-weight="normal" fill="#222">10<tspan font-size="4.2" dy="-2.4">3</tspan></text>
<text x="363.1" y="628.8" class="t2" font-size="6.3" font-weight="normal" fill="#222">10<tspan font-size="4.2" dy="-2.4">4</tspan></text>
<text x="199.5" y="463" class="t2" font-size="6.3" font-weight="normal" fill="#222">10<tspan font-size="4.2" dy="-2.4">4</tspan></text>
<rect x="214" y="526.2" width="47.8" height="89.4" fill="none" stroke="#2a2a2a" stroke-width="1"/>
<rect x="263.2" y="467.3" width="33.2" height="32.9" fill="none" stroke="#2a2a2a" stroke-width="1"/>
<rect x="296.4" y="467.3" width="33.6" height="32.9" fill="none" stroke="#2a2a2a" stroke-width="1"/>
<rect x="296.4" y="500.2" width="33.6" height="33.6" fill="none" stroke="#2a2a2a" stroke-width="1"/>
<rect x="296.4" y="537.2" width="33.6" height="32.9" fill="none" stroke="#2a2a2a" stroke-width="1"/>
<text x="219.2" y="520.6" font-size="14.3">R0</text>
<text x="243.8" y="479" font-size="14.3">R1</text>
<text x="333" y="479.4" font-size="14.3">R2</text>
<text x="333" y="514" font-size="14.3">R3</text>
<text x="333" y="550.4" font-size="14.3">R4</text>
<text x="244.5" y="525.49" font-size="20.38" text-anchor="middle" fill="#e8212b" style="stroke:#e8212b;stroke-width:.2px">*</text>
<text x="357.3" y="482.99" font-size="20.38" text-anchor="middle" fill="#e8212b" style="stroke:#e8212b;stroke-width:.2px">*</text>
<text x="357.3" y="516.59" font-size="20.38" text-anchor="middle" fill="#e8212b" style="stroke:#e8212b;stroke-width:.2px">*</text>
<line x1="40.5" y1="634.4" x2="347" y2="634.4" stroke="#111" stroke-width="1.4"/>
<path d="M352.5 634.4l-7-3v6z" fill="#111"/>
<text x="157" y="649.8" font-size="16.5" textLength="79" lengthAdjust="spacingAndGlyphs">Ter119-PE</text>
<text x="382" y="543" font-size="14.5" text-anchor="middle" transform="rotate(-90 382 543)" textLength="137" lengthAdjust="spacingAndGlyphs">Percent spleen cells</text>
<line x1="398.9" y1="607" x2="404.7" y2="607" stroke="#111" stroke-width="1.4"/>
<text x="397.5" y="609.8" font-size="9.2" text-anchor="end">0</text>
<line x1="398.9" y1="586.74" x2="404.7" y2="586.74" stroke="#111" stroke-width="1.4"/>
<text x="397.5" y="589.54" font-size="9.2" text-anchor="end">10</text>
<line x1="398.9" y1="566.48" x2="404.7" y2="566.48" stroke="#111" stroke-width="1.4"/>
<text x="397.5" y="569.28" font-size="9.2" text-anchor="end">20</text>
<line x1="398.9" y1="546.22" x2="404.7" y2="546.22" stroke="#111" stroke-width="1.4"/>
<text x="397.5" y="549.02" font-size="9.2" text-anchor="end">30</text>
<line x1="398.9" y1="525.95" x2="404.7" y2="525.95" stroke="#111" stroke-width="1.4"/>
<text x="397.5" y="528.75" font-size="9.2" text-anchor="end">40</text>
<line x1="398.9" y1="505.69" x2="404.7" y2="505.69" stroke="#111" stroke-width="1.4"/>
<text x="397.5" y="508.49" font-size="9.2" text-anchor="end">50</text>
<line x1="398.9" y1="485.43" x2="404.7" y2="485.43" stroke="#111" stroke-width="1.4"/>
<text x="397.5" y="488.23" font-size="9.2" text-anchor="end">60</text>
<line x1="410.73" y1="482.8" x2="410.73" y2="494.35" stroke="#111" stroke-width="1.2"/>
<line x1="408.33" y1="482.8" x2="413.12" y2="482.8" stroke="#111" stroke-width="1.3"/>
<rect x="405.8" y="494.35" width="9.85" height="112.65" fill="#fff" stroke="#111" stroke-width="1.3"/>
<line x1="420.58" y1="534.46" x2="420.58" y2="541.15" stroke="#111" stroke-width="1.2"/>
<line x1="418.18" y1="534.46" x2="422.98" y2="534.46" stroke="#111" stroke-width="1.3"/>
<rect x="415.65" y="541.15" width="9.85" height="65.85" fill="#555555" stroke="#111" stroke-width="1.3"/>
<line x1="432.23" y1="599.3" x2="432.23" y2="602.95" stroke="#111" stroke-width="1.2"/>
<line x1="429.83" y1="599.3" x2="434.62" y2="599.3" stroke="#111" stroke-width="1.3"/>
<rect x="427.3" y="602.95" width="9.85" height="4.05" fill="#fff" stroke="#111" stroke-width="1.3"/>
<line x1="442.08" y1="589.98" x2="442.08" y2="595.86" stroke="#111" stroke-width="1.2"/>
<line x1="439.68" y1="589.98" x2="444.48" y2="589.98" stroke="#111" stroke-width="1.3"/>
<rect x="437.15" y="595.86" width="9.85" height="11.14" fill="#555555" stroke="#111" stroke-width="1.3"/>
<line x1="454.23" y1="579.04" x2="454.23" y2="585.73" stroke="#111" stroke-width="1.2"/>
<line x1="451.83" y1="579.04" x2="456.62" y2="579.04" stroke="#111" stroke-width="1.3"/>
<rect x="449.3" y="585.73" width="9.85" height="21.27" fill="#fff" stroke="#111" stroke-width="1.3"/>
<line x1="464.08" y1="545.4" x2="464.08" y2="556.95" stroke="#111" stroke-width="1.2"/>
<line x1="461.68" y1="545.4" x2="466.48" y2="545.4" stroke="#111" stroke-width="1.3"/>
<rect x="459.15" y="556.95" width="9.85" height="50.05" fill="#555555" stroke="#111" stroke-width="1.3"/>
<line x1="475.93" y1="581.47" x2="475.93" y2="587.14" stroke="#111" stroke-width="1.2"/>
<line x1="473.53" y1="581.47" x2="478.32" y2="581.47" stroke="#111" stroke-width="1.3"/>
<rect x="471" y="587.14" width="9.85" height="19.86" fill="#fff" stroke="#111" stroke-width="1.3"/>
<line x1="485.78" y1="564.65" x2="485.78" y2="573.37" stroke="#111" stroke-width="1.2"/>
<line x1="483.38" y1="564.65" x2="488.18" y2="564.65" stroke="#111" stroke-width="1.3"/>
<rect x="480.85" y="573.37" width="9.85" height="33.63" fill="#555555" stroke="#111" stroke-width="1.3"/>
<line x1="498.23" y1="584.31" x2="498.23" y2="589.78" stroke="#111" stroke-width="1.2"/>
<line x1="495.83" y1="584.31" x2="500.62" y2="584.31" stroke="#111" stroke-width="1.3"/>
<rect x="493.3" y="589.78" width="9.85" height="17.22" fill="#fff" stroke="#111" stroke-width="1.3"/>
<line x1="508.08" y1="582.89" x2="508.08" y2="589.17" stroke="#111" stroke-width="1.2"/>
<line x1="505.68" y1="582.89" x2="510.48" y2="582.89" stroke="#111" stroke-width="1.3"/>
<rect x="503.15" y="589.17" width="9.85" height="17.83" fill="#555555" stroke="#111" stroke-width="1.3"/>
<rect x="404.7" y="475.3" width="108.7" height="131.7" fill="none" stroke="#111" stroke-width="1.6"/>
<line x1="415.65" y1="607" x2="415.65" y2="612" stroke="#111" stroke-width="1.3"/>
<text x="415.65" y="622.3" font-size="9.5" text-anchor="middle" textLength="10.4" lengthAdjust="spacingAndGlyphs">R0</text>
<line x1="437.15" y1="607" x2="437.15" y2="612" stroke="#111" stroke-width="1.3"/>
<text x="437.15" y="622.3" font-size="9.5" text-anchor="middle" textLength="10.4" lengthAdjust="spacingAndGlyphs">R1</text>
<line x1="459.15" y1="607" x2="459.15" y2="612" stroke="#111" stroke-width="1.3"/>
<text x="459.15" y="622.3" font-size="9.5" text-anchor="middle" textLength="10.4" lengthAdjust="spacingAndGlyphs">R2</text>
<line x1="480.85" y1="607" x2="480.85" y2="612" stroke="#111" stroke-width="1.3"/>
<text x="480.85" y="622.3" font-size="9.5" text-anchor="middle" textLength="10.4" lengthAdjust="spacingAndGlyphs">R3</text>
<line x1="503.15" y1="607" x2="503.15" y2="612" stroke="#111" stroke-width="1.3"/>
<text x="503.15" y="622.3" font-size="9.5" text-anchor="middle" textLength="10.4" lengthAdjust="spacingAndGlyphs">R4</text>
<text x="457.55" y="635.8" font-size="15.5" text-anchor="middle" textLength="63.5" lengthAdjust="spacingAndGlyphs">Erythroid</text>
<text x="458.15" y="647.1" font-size="15.5" text-anchor="middle" textLength="93" lengthAdjust="spacingAndGlyphs">Compartment</text>
<text x="420.9" y="535.25" font-size="16.58" text-anchor="middle" style="stroke:#111;stroke-width:.2px">*</text>
<text x="465.2" y="547.85" font-size="16.58" text-anchor="middle" style="stroke:#111;stroke-width:.2px">*</text>
<text x="486.4" y="566.95" font-size="16.58" text-anchor="middle" style="stroke:#111;stroke-width:.2px">*</text>
<rect x="398" y="458.7" width="11.8" height="11" fill="#fff" stroke="#111" stroke-width="1.1"/>
<text x="414.7" y="469.4" font-size="13.5" font-style="italic">Lyn<tspan font-size="7.83" dy="-4.32">+/+</tspan></text>
<rect x="457.4" y="458.7" width="11.8" height="11" fill="#555555" stroke="#111" stroke-width="1.1"/>
<text x="471.5" y="469.4" font-size="13.5" font-style="italic" textLength="41.5" lengthAdjust="spacingAndGlyphs">Lyn<tspan font-size="7.83" dy="-4.32">+/up</tspan></text>
<text x="2" y="681.5" font-size="17">F</text>
<text x="209.4" y="682.5" font-size="18" textLength="113.2" lengthAdjust="spacingAndGlyphs">Spleen Day 5</text>
<line x1="63.8" y1="690.1" x2="492.3" y2="690.1" stroke="#111" stroke-width="2.1"/>
<text x="102" y="706.9" font-size="17.5" font-style="italic">Lyn<tspan font-size="10.15" dy="-5.6">+/+</tspan></text>
<text x="281" y="706.9" font-size="17.5" font-style="italic">Lyn<tspan font-size="10.15" dy="-5.6">+/up</tspan></text>
<text x="12.5" y="792" font-size="16" text-anchor="middle" transform="rotate(-90 12.5 792)">CD71-FITC</text>
<rect x="36.3" y="713.8" width="156.7" height="155.1" fill="#fff" stroke="#999" stroke-width="1.3"/>
<g filter="url(#soft)" fill="none" stroke-width="1">
<path d="M36 732.5h1M36 776.5h1M36 780.5h1M36 792.5h1M36 804.5h1M36 807.5h1M36 809.5h1M36 814.5h1M36 821.5h1M36 832.5h1M36 841.5h1M36 844.5h1M36 846.5h1M36 848.5h1M36 852.5h1M36 855.5h1M36 862.5h1M36 863.5h1M36 868.5h1M37 776.5h1M37 805.5h1M37 824.5h1M37 828.5h1M37 840.5h1M37 841.5h1M38 781.5h1M38 791.5h1M38 795.5h1M38 821.5h1M38 846.5h1M38 847.5h1M39 803.5h1M39 815.5h1M39 832.5h1M39 845.5h1M39 863.5h1M40 787.5h1M40 801.5h1M40 811.5h1M40 842.5h1M40 844.5h1M40 856.5h1M40 860.5h1M41 744.5h1M41 804.5h1M41 822.5h1M41 824.5h1M41 825.5h1M41 839.5h1M42 810.5h1M42 826.5h1M42 835.5h1M42 845.5h1M43 813.5h1M43 820.5h1M43 844.5h1M43 853.5h1M44 717.5h1M44 740.5h1M44 784.5h1M44 802.5h1M44 807.5h1M44 834.5h1M44 846.5h1M45 792.5h1M45 815.5h1M45 831.5h1M45 833.5h1M46 798.5h1M46 813.5h1M46 818.5h1M46 819.5h1M46 843.5h1M46 863.5h1M47 798.5h1M47 802.5h1M47 818.5h1M47 825.5h1M47 827.5h1M47 830.5h1M47 847.5h1M47 848.5h1M47 853.5h1M47 863.5h1M48 795.5h1M48 810.5h1M48 820.5h1M48 826.5h1M48 830.5h1M48 833.5h1M48 835.5h1M48 838.5h1M48 845.5h1M49 719.5h1M49 791.5h1M49 797.5h1M49 803.5h1M49 811.5h1M49 817.5h1M49 823.5h1M49 840.5h1M49 845.5h1M49 855.5h1M50 721.5h1M50 768.5h1M50 789.5h1M50 792.5h1M50 801.5h1M50 811.5h1M50 834.5h1M50 836.5h1M50 842.5h1M50 851.5h1M51 810.5h1M51 819.5h1M51 820.5h1M51 823.5h1M51 827.5h1M51 828.5h1M51 837.5h1M51 840.5h1M51 847.5h1M51 848.5h1M51 862.5h1M52 761.5h1M52 804.5h1M52 806.5h1M52 807.5h1M52 814.5h1M52 819.5h1M52 820.5h1M52 829.5h1M52 847.5h1M52 863.5h1M53 773.5h1M53 791.5h1M53 800.5h1M53 804.5h1M53 817.5h1M53 826.5h1M53 829.5h1M53 842.5h1M53 843.5h1M54 782.5h1M54 791.5h1M54 795.5h1M54 809.5h1M54 811.5h1M54 817.5h1M54 830.5h1M54 836.5h1M54 839.5h1M54 843.5h1M55 798.5h1M55 807.5h1M55 811.5h1M55 814.5h1M55 819.5h1M55 820.5h1M55 821.5h1M55 832.5h1M55 840.5h1M55 851.5h1M55 855.5h1M55 868.5h1M56 793.5h1M56 798.5h1M56 804.5h1M56 831.5h1M56 837.5h1M56 849.5h1M56 865.5h1M57 791.5h1M57 792.5h1M57 808.5h1M57 813.5h1M57 838.5h1M58 799.5h1M58 812.5h1M58 817.5h1M58 823.5h1M58 829.5h1M58 842.5h1M58 843.5h1M58 857.5h1M59 768.5h1M59 801.5h1M59 807.5h1M59 825.5h1M59 834.5h1M59 836.5h1M59 850.5h1M60 726.5h1M60 780.5h1M60 836.5h1M60 837.5h1M60 847.5h1M60 868.5h1M61 784.5h1M61 787.5h1M61 791.5h1M61 809.5h1M61 811.5h1M61 813.5h1M61 824.5h1M61 844.5h1M61 847.5h1M61 868.5h1M62 726.5h1M62 771.5h1M62 786.5h1M62 818.5h1M62 827.5h1M62 829.5h1M62 838.5h1M62 847.5h1M62 868.5h1M63 733.5h1M63 762.5h1M63 791.5h1M63 793.5h1M63 818.5h1M63 829.5h1M64 765.5h1M64 768.5h1M64 786.5h1M64 806.5h1M64 817.5h1M64 823.5h1M64 829.5h1M64 841.5h1M64 868.5h1M65 822.5h1M65 830.5h1M65 832.5h1M65 841.5h1M65 847.5h1M65 864.5h1M66 785.5h1M66 825.5h1M66 838.5h1M66 842.5h1M66 850.5h1M66 854.5h1M67 790.5h1M67 806.5h1M67 809.5h1M67 812.5h1M67 813.5h1M67 821.5h1M67 823.5h1M67 825.5h1M67 839.5h1M67 842.5h1M67 851.5h1M67 858.5h1M68 802.5h1M68 808.5h1M68 827.5h1M68 835.5h1M68 840.5h1M68 845.5h1M68 846.5h1M68 854.5h1M69 721.5h1M69 796.5h1M69 809.5h1M69 831.5h1M69 866.5h1M70 722.5h1M70 799.5h1M70 804.5h1M70 813.5h1M70 838.5h1M70 861.5h1M70 863.5h1M71 725.5h1M71 777.5h1M71 796.5h1M71 801.5h1M71 821.5h1M71 823.5h1M71 824.5h1M71 832.5h1M71 849.5h1M71 852.5h1M72 801.5h1M72 806.5h1M72 819.5h1M72 822.5h1M72 832.5h1M72 837.5h1M72 838.5h1M73 798.5h1M73 806.5h1M73 817.5h1M73 819.5h1M73 841.5h1M73 852.5h1M74 806.5h1M74 815.5h1M75 725.5h1M75 793.5h1M75 803.5h1M75 821.5h1M75 837.5h1M76 811.5h1M76 814.5h1M76 819.5h1M76 827.5h1M76 829.5h1M76 837.5h1M76 839.5h1M76 844.5h1M77 793.5h1M77 796.5h1M77 804.5h1M77 805.5h1M77 816.5h1M77 829.5h1M77 854.5h1M78 795.5h1M78 799.5h1M78 837.5h1M78 840.5h1M79 733.5h1M79 804.5h1M79 813.5h1M79 817.5h1M79 821.5h1M79 827.5h1M79 835.5h1M79 848.5h1M79 849.5h1M80 807.5h1M80 811.5h1M80 831.5h1M80 842.5h1M81 820.5h1M81 833.5h1M82 829.5h1M82 864.5h1M83 777.5h1M83 820.5h1M83 827.5h1M83 840.5h1M83 843.5h1M83 855.5h1M84 736.5h1M84 799.5h1M84 837.5h1M84 842.5h1M85 769.5h1M85 816.5h1M85 841.5h1M85 844.5h1M85 854.5h1M86 742.5h1M86 814.5h1M86 815.5h1M86 818.5h1M86 834.5h1M86 850.5h1M87 729.5h1M87 822.5h1M87 829.5h1M87 834.5h1M88 741.5h1M88 803.5h1M88 821.5h1M88 831.5h1M88 836.5h1M88 840.5h1M88 851.5h1M89 789.5h1M89 806.5h1M89 828.5h1M89 835.5h1M89 854.5h1M89 861.5h1M89 866.5h1M90 801.5h1M90 820.5h1M90 823.5h1M90 830.5h1M92 738.5h1M92 751.5h1M92 807.5h1M92 809.5h1M92 815.5h1M93 739.5h1M93 798.5h1M93 802.5h1M93 804.5h1M93 810.5h1M93 820.5h1M93 830.5h1M93 834.5h1M94 734.5h1M94 806.5h1M94 824.5h1M95 732.5h1M95 740.5h1M95 743.5h1M95 800.5h1M95 812.5h1M96 739.5h1M96 764.5h1M96 801.5h1M96 822.5h1M96 831.5h1M96 835.5h1M97 729.5h1M97 734.5h1M97 738.5h1M97 741.5h1M97 831.5h1M98 731.5h1M98 735.5h1M98 742.5h1M98 793.5h1M99 733.5h1M99 734.5h1M99 749.5h1M99 849.5h1M100 736.5h1M100 739.5h1M100 741.5h1M100 788.5h1M100 826.5h1M101 774.5h1M101 839.5h1M102 740.5h1M102 749.5h1M102 771.5h1M102 779.5h1M102 854.5h1M103 730.5h1M103 733.5h1M103 739.5h1M103 742.5h1M103 789.5h1M104 763.5h1M104 764.5h1M104 776.5h1M104 805.5h1M104 839.5h1M105 733.5h1M105 741.5h1M105 759.5h1M106 775.5h1M108 728.5h1M108 730.5h1M108 740.5h1M108 846.5h1M109 741.5h1M110 748.5h1M110 766.5h1M110 824.5h1M111 729.5h1M111 745.5h1M111 831.5h1M112 729.5h1M112 750.5h1M112 796.5h1M113 731.5h1M113 742.5h1M114 781.5h1M115 729.5h1M115 744.5h1M115 760.5h1M115 770.5h1M116 788.5h1M117 730.5h1M117 745.5h1M118 794.5h1M119 731.5h1M119 743.5h1M119 767.5h1M120 723.5h1M120 750.5h1M120 781.5h1M121 763.5h1M122 717.5h1M122 728.5h1M122 755.5h1M122 757.5h1M122 774.5h1M123 753.5h1M123 758.5h1M125 753.5h1M125 779.5h1M126 765.5h1M126 774.5h1M126 780.5h1M126 800.5h1M126 801.5h1M127 766.5h1M127 769.5h1M127 792.5h1M128 756.5h1M128 796.5h1M128 799.5h1M129 722.5h1M129 762.5h1M129 773.5h1M130 722.5h1M130 752.5h1M130 774.5h1M130 789.5h1M130 795.5h1M130 796.5h1M130 800.5h1M130 842.5h1M131 727.5h1M131 759.5h1M131 764.5h1M131 771.5h1M131 778.5h1M131 822.5h1M131 835.5h1M131 863.5h1M132 765.5h1M132 777.5h1M132 799.5h1M133 768.5h1M133 771.5h1M133 775.5h1M133 778.5h1M133 795.5h1M133 800.5h1M133 804.5h1M133 806.5h1M133 854.5h1M134 774.5h1M134 780.5h1M134 798.5h1M134 803.5h1M134 827.5h1M134 835.5h1M134 837.5h1M135 725.5h1M135 754.5h1M135 772.5h1M135 797.5h1M135 848.5h1M136 793.5h1M136 797.5h1M136 847.5h1M136 864.5h1M137 723.5h1M137 727.5h1M137 756.5h1M137 770.5h1M137 794.5h1M137 795.5h1M137 802.5h1M137 838.5h1M138 807.5h1M138 839.5h1M139 729.5h1M139 765.5h1M139 776.5h1M139 841.5h1M140 722.5h1M140 765.5h1M140 773.5h1M140 793.5h1M140 809.5h1M141 748.5h1M141 749.5h1M141 799.5h1M141 820.5h1M141 852.5h1M142 746.5h1M142 750.5h1M142 754.5h1M142 780.5h1M142 796.5h1M142 815.5h1M142 847.5h1M143 750.5h1M143 760.5h1M143 764.5h1M143 766.5h1M143 774.5h1M143 808.5h1M143 846.5h1M143 849.5h1M144 728.5h1M144 732.5h1M144 733.5h1M144 737.5h1M144 777.5h1M144 779.5h1M144 784.5h1M144 861.5h1M145 747.5h1M145 757.5h1M145 777.5h1M146 736.5h1M146 738.5h1M146 739.5h1M146 759.5h1M146 846.5h1M146 849.5h1M148 736.5h1M148 774.5h1M152 737.5h1M152 748.5h1M154 740.5h1M154 748.5h1M157 794.5h1M158 731.5h1M160 743.5h1M162 779.5h1M164 857.5h1M168 795.5h1M168 867.5h1M174 819.5h1M175 780.5h1M186 810.5h1" stroke="#aeaeea"/>
<path d="M36 758.5h1M36 759.5h1M36 770.5h1M36 786.5h1M36 788.5h1M36 790.5h1M36 795.5h1M36 811.5h1M36 815.5h1M36 839.5h1M36 842.5h1M36 860.5h1M37 769.5h1M38 788.5h1M38 800.5h1M38 809.5h1M38 819.5h1M38 820.5h1M38 833.5h1M38 840.5h1M38 841.5h1M38 849.5h1M39 789.5h1M40 800.5h1M40 806.5h1M40 810.5h1M40 828.5h1M40 834.5h1M40 836.5h1M40 837.5h1M41 805.5h1M41 836.5h1M42 796.5h1M42 802.5h1M42 824.5h1M42 825.5h1M42 832.5h1M42 833.5h1M42 842.5h1M43 825.5h1M43 829.5h1M44 754.5h1M44 791.5h1M44 811.5h1M44 845.5h1M44 868.5h1M45 802.5h1M45 804.5h1M45 823.5h1M45 824.5h1M45 826.5h1M45 836.5h1M45 846.5h1M45 848.5h1M46 778.5h1M46 831.5h1M46 835.5h1M47 843.5h1M47 846.5h1M48 796.5h1M48 797.5h1M48 816.5h1M48 829.5h1M48 853.5h1M48 857.5h1M48 864.5h1M49 796.5h1M49 804.5h1M49 809.5h1M49 814.5h1M49 818.5h1M49 821.5h1M49 842.5h1M49 846.5h1M50 810.5h1M50 813.5h1M50 832.5h1M50 833.5h1M50 838.5h1M50 855.5h1M51 726.5h1M51 817.5h1M51 825.5h1M51 834.5h1M52 779.5h1M52 812.5h1M52 816.5h1M52 825.5h1M52 839.5h1M52 840.5h1M52 858.5h1M52 862.5h1M53 795.5h1M53 798.5h1M53 815.5h1M53 819.5h1M53 827.5h1M53 832.5h1M53 858.5h1M53 868.5h1M54 797.5h1M54 799.5h1M54 805.5h1M54 816.5h1M54 842.5h1M54 864.5h1M55 803.5h1M55 810.5h1M55 827.5h1M55 835.5h1M56 806.5h1M56 811.5h1M56 825.5h1M56 826.5h1M56 828.5h1M56 829.5h1M56 851.5h1M56 853.5h1M57 820.5h1M57 826.5h1M57 828.5h1M57 840.5h1M57 845.5h1M57 847.5h1M57 851.5h1M57 852.5h1M58 724.5h1M58 762.5h1M58 794.5h1M58 814.5h1M58 815.5h1M58 816.5h1M58 834.5h1M58 837.5h1M58 839.5h1M58 858.5h1M59 791.5h1M59 804.5h1M59 815.5h1M59 816.5h1M59 829.5h1M59 830.5h1M59 832.5h1M59 844.5h1M59 846.5h1M59 854.5h1M60 798.5h1M60 806.5h1M60 819.5h1M60 825.5h1M60 831.5h1M60 839.5h1M60 844.5h1M60 853.5h1M61 786.5h1M61 814.5h1M61 820.5h1M61 834.5h1M61 837.5h1M61 838.5h1M61 850.5h1M61 856.5h1M62 738.5h1M62 758.5h1M62 782.5h1M62 823.5h1M62 834.5h1M62 841.5h1M62 848.5h1M63 769.5h1M63 779.5h1M63 822.5h1M63 825.5h1M63 826.5h1M63 830.5h1M63 831.5h1M63 833.5h1M63 840.5h1M63 842.5h1M63 851.5h1M63 856.5h1M64 793.5h1M64 797.5h1M64 804.5h1M64 811.5h1M64 836.5h1M64 839.5h1M64 840.5h1M64 843.5h1M64 852.5h1M65 788.5h1M65 803.5h1M65 804.5h1M65 808.5h1M65 814.5h1M65 817.5h1M65 826.5h1M65 842.5h1M65 854.5h1M66 779.5h1M66 811.5h1M66 812.5h1M66 822.5h1M66 831.5h1M66 840.5h1M66 868.5h1M67 814.5h1M67 817.5h1M67 819.5h1M67 820.5h1M67 826.5h1M67 834.5h1M67 840.5h1M67 865.5h1M68 810.5h1M68 814.5h1M68 820.5h1M68 821.5h1M68 826.5h1M68 839.5h1M68 850.5h1M69 820.5h1M69 821.5h1M69 823.5h1M69 825.5h1M69 830.5h1M69 838.5h1M70 778.5h1M70 794.5h1M70 796.5h1M70 806.5h1M70 810.5h1M70 817.5h1M70 824.5h1M70 831.5h1M70 835.5h1M70 836.5h1M70 841.5h1M70 843.5h1M70 859.5h1M70 864.5h1M71 793.5h1M71 807.5h1M71 815.5h1M71 818.5h1M71 844.5h1M71 845.5h1M72 804.5h1M72 807.5h1M72 808.5h1M72 816.5h1M72 817.5h1M72 851.5h1M73 811.5h1M73 813.5h1M73 829.5h1M73 840.5h1M73 843.5h1M73 850.5h1M73 868.5h1M74 773.5h1M74 774.5h1M74 801.5h1M74 802.5h1M74 805.5h1M74 809.5h1M74 810.5h1M74 812.5h1M74 817.5h1M74 827.5h1M74 828.5h1M74 838.5h1M74 850.5h1M75 802.5h1M75 812.5h1M75 848.5h1M76 790.5h1M76 799.5h1M76 828.5h1M76 868.5h1M77 799.5h1M77 836.5h1M77 838.5h1M77 861.5h1M77 868.5h1M78 782.5h1M78 793.5h1M78 794.5h1M78 810.5h1M78 817.5h1M78 821.5h1M78 836.5h1M79 783.5h1M79 802.5h1M79 818.5h1M80 799.5h1M80 815.5h1M80 821.5h1M80 822.5h1M80 843.5h1M81 796.5h1M81 827.5h1M81 835.5h1M81 865.5h1M82 777.5h1M82 800.5h1M82 821.5h1M82 825.5h1M83 795.5h1M83 798.5h1M83 817.5h1M83 829.5h1M83 841.5h1M83 859.5h1M84 815.5h1M84 825.5h1M84 851.5h1M85 795.5h1M85 810.5h1M85 822.5h1M85 823.5h1M85 846.5h1M85 868.5h1M86 792.5h1M86 816.5h1M86 830.5h1M87 720.5h1M87 813.5h1M88 739.5h1M88 799.5h1M89 717.5h1M89 742.5h1M89 748.5h1M89 773.5h1M89 788.5h1M90 824.5h1M90 829.5h1M90 836.5h1M90 843.5h1M91 849.5h1M92 734.5h1M92 735.5h1M92 739.5h1M93 735.5h1M93 828.5h1M94 732.5h1M94 738.5h1M94 741.5h1M94 817.5h1M94 819.5h1M94 829.5h1M95 817.5h1M96 770.5h1M96 772.5h1M96 812.5h1M97 786.5h1M98 734.5h1M98 744.5h1M98 821.5h1M100 734.5h1M100 745.5h1M100 760.5h1M101 736.5h1M101 740.5h1M101 755.5h1M102 725.5h1M102 738.5h1M102 741.5h1M102 769.5h1M103 728.5h1M103 734.5h1M103 736.5h1M103 740.5h1M103 777.5h1M103 778.5h1M103 835.5h1M104 735.5h1M104 835.5h1M105 737.5h1M106 739.5h1M106 742.5h1M107 728.5h1M107 735.5h1M108 747.5h1M108 817.5h1M109 732.5h1M109 758.5h1M109 764.5h1M110 740.5h1M110 743.5h1M110 745.5h1M110 760.5h1M111 748.5h1M111 766.5h1M111 779.5h1M111 814.5h1M112 746.5h1M113 746.5h1M114 730.5h1M114 732.5h1M114 742.5h1M115 749.5h1M116 742.5h1M116 743.5h1M117 746.5h1M118 730.5h1M118 744.5h1M118 746.5h1M118 754.5h1M118 766.5h1M118 776.5h1M119 746.5h1M119 747.5h1M119 818.5h1M120 748.5h1M121 761.5h1M123 751.5h1M123 755.5h1M123 766.5h1M123 792.5h1M123 868.5h1M124 749.5h1M125 728.5h1M125 729.5h1M125 730.5h1M125 754.5h1M125 757.5h1M126 729.5h1M126 760.5h1M127 723.5h1M127 753.5h1M127 758.5h1M127 761.5h1M127 763.5h1M127 798.5h1M127 802.5h1M128 760.5h1M128 763.5h1M128 769.5h1M129 751.5h1M129 763.5h1M129 768.5h1M129 801.5h1M129 810.5h1M129 855.5h1M130 721.5h1M130 760.5h1M130 762.5h1M130 765.5h1M130 771.5h1M130 772.5h1M130 773.5h1M130 802.5h1M130 803.5h1M130 868.5h1M131 770.5h1M131 785.5h1M131 794.5h1M131 834.5h1M131 837.5h1M132 724.5h1M132 725.5h1M132 762.5h1M132 767.5h1M132 800.5h1M132 807.5h1M132 844.5h1M133 720.5h1M133 757.5h1M133 772.5h1M133 773.5h1M133 774.5h1M133 782.5h1M133 792.5h1M133 799.5h1M133 813.5h1M134 725.5h1M134 749.5h1M134 770.5h1M134 777.5h1M134 786.5h1M134 795.5h1M134 802.5h1M135 776.5h1M135 786.5h1M135 799.5h1M135 803.5h1M135 810.5h1M136 728.5h1M136 752.5h1M136 765.5h1M136 779.5h1M136 795.5h1M136 803.5h1M136 805.5h1M136 806.5h1M136 808.5h1M137 779.5h1M137 792.5h1M138 749.5h1M138 750.5h1M138 754.5h1M138 755.5h1M138 757.5h1M138 768.5h1M138 770.5h1M138 796.5h1M138 797.5h1M138 804.5h1M138 806.5h1M139 728.5h1M139 751.5h1M139 755.5h1M139 761.5h1M139 763.5h1M139 764.5h1M139 775.5h1M139 796.5h1M139 807.5h1M139 857.5h1M140 725.5h1M140 747.5h1M140 748.5h1M140 781.5h1M140 816.5h1M140 818.5h1M140 831.5h1M141 730.5h1M141 731.5h1M141 759.5h1M141 763.5h1M141 767.5h1M141 773.5h1M141 777.5h1M141 800.5h1M141 802.5h1M142 728.5h1M142 762.5h1M142 798.5h1M142 825.5h1M143 734.5h1M143 758.5h1M143 772.5h1M143 826.5h1M144 744.5h1M144 748.5h1M144 782.5h1M144 808.5h1M145 734.5h1M145 739.5h1M145 740.5h1M145 758.5h1M146 741.5h1M146 746.5h1M146 763.5h1M146 806.5h1M146 811.5h1M147 745.5h1M147 746.5h1M148 745.5h1M148 764.5h1M148 769.5h1M149 737.5h1M149 739.5h1M149 741.5h1M149 742.5h1M150 744.5h1M158 757.5h1M163 741.5h1M172 801.5h1M174 746.5h1M186 771.5h1M186 851.5h1M191 798.5h1M192 811.5h1" stroke="#9090de"/>
<path d="M36 738.5h1M36 802.5h1M36 813.5h1M36 826.5h1M36 828.5h1M36 829.5h1M36 831.5h1M36 833.5h1M36 850.5h1M36 854.5h1M38 805.5h1M38 806.5h1M38 837.5h1M38 853.5h1M39 783.5h1M39 798.5h1M39 799.5h1M39 828.5h1M39 868.5h1M40 789.5h1M40 791.5h1M40 814.5h1M40 819.5h1M40 825.5h1M40 827.5h1M41 799.5h1M41 809.5h1M41 815.5h1M41 817.5h1M41 823.5h1M41 831.5h1M41 832.5h1M41 834.5h1M41 840.5h1M41 846.5h1M41 848.5h1M42 737.5h1M42 780.5h1M42 798.5h1M42 800.5h1M42 805.5h1M42 831.5h1M43 796.5h1M43 807.5h1M43 823.5h1M43 838.5h1M43 839.5h1M43 855.5h1M44 786.5h1M44 789.5h1M44 798.5h1M44 812.5h1M44 816.5h1M44 827.5h1M44 829.5h1M44 847.5h1M44 849.5h1M44 851.5h1M45 783.5h1M45 811.5h1M45 814.5h1M45 816.5h1M45 821.5h1M45 827.5h1M45 830.5h1M45 844.5h1M46 716.5h1M46 786.5h1M46 806.5h1M46 825.5h1M46 868.5h1M47 807.5h1M47 840.5h1M47 841.5h1M47 849.5h1M48 759.5h1M48 806.5h1M48 809.5h1M48 825.5h1M48 841.5h1M49 756.5h1M49 777.5h1M49 812.5h1M49 820.5h1M49 835.5h1M50 804.5h1M50 809.5h1M50 815.5h1M50 821.5h1M50 837.5h1M50 850.5h1M51 730.5h1M51 790.5h1M51 808.5h1M51 812.5h1M51 818.5h1M51 822.5h1M51 844.5h1M52 745.5h1M52 798.5h1M52 810.5h1M52 824.5h1M52 830.5h1M52 836.5h1M52 844.5h1M52 859.5h1M53 802.5h1M53 806.5h1M53 811.5h1M53 825.5h1M53 828.5h1M53 860.5h1M54 788.5h1M54 810.5h1M54 820.5h1M54 826.5h1M54 852.5h1M55 800.5h1M55 804.5h1M55 808.5h1M55 844.5h1M55 856.5h1M55 857.5h1M56 743.5h1M56 788.5h1M56 791.5h1M56 801.5h1M56 805.5h1M56 820.5h1M56 832.5h1M57 756.5h1M57 806.5h1M57 810.5h1M57 817.5h1M57 825.5h1M57 850.5h1M58 771.5h1M58 819.5h1M58 820.5h1M58 833.5h1M58 847.5h1M58 868.5h1M59 775.5h1M59 784.5h1M59 808.5h1M59 810.5h1M59 811.5h1M59 818.5h1M59 838.5h1M59 840.5h1M59 851.5h1M59 856.5h1M60 784.5h1M60 804.5h1M60 827.5h1M60 854.5h1M60 855.5h1M60 859.5h1M61 741.5h1M61 795.5h1M61 806.5h1M61 808.5h1M61 810.5h1M61 816.5h1M61 832.5h1M61 846.5h1M61 851.5h1M61 858.5h1M61 862.5h1M61 865.5h1M62 747.5h1M62 808.5h1M62 850.5h1M63 729.5h1M63 742.5h1M63 788.5h1M63 810.5h1M63 847.5h1M64 795.5h1M64 831.5h1M64 854.5h1M65 792.5h1M65 812.5h1M65 815.5h1M65 820.5h1M65 833.5h1M65 834.5h1M65 837.5h1M65 867.5h1M66 796.5h1M66 807.5h1M66 810.5h1M66 824.5h1M66 827.5h1M66 837.5h1M66 849.5h1M67 755.5h1M67 800.5h1M67 807.5h1M67 811.5h1M67 846.5h1M68 742.5h1M68 789.5h1M68 830.5h1M68 844.5h1M68 860.5h1M68 866.5h1M68 868.5h1M69 781.5h1M69 783.5h1M69 787.5h1M69 794.5h1M69 807.5h1M69 813.5h1M69 829.5h1M70 763.5h1M70 789.5h1M70 815.5h1M70 819.5h1M70 821.5h1M70 848.5h1M70 854.5h1M70 856.5h1M70 862.5h1M70 868.5h1M71 780.5h1M71 784.5h1M71 836.5h1M71 847.5h1M71 848.5h1M71 856.5h1M71 868.5h1M72 764.5h1M72 774.5h1M72 783.5h1M72 802.5h1M72 831.5h1M72 841.5h1M73 794.5h1M73 814.5h1M73 828.5h1M73 834.5h1M73 842.5h1M73 848.5h1M73 851.5h1M73 864.5h1M73 865.5h1M74 749.5h1M74 776.5h1M74 799.5h1M74 807.5h1M74 808.5h1M74 831.5h1M74 846.5h1M75 780.5h1M75 806.5h1M75 807.5h1M75 808.5h1M75 809.5h1M75 822.5h1M75 827.5h1M75 829.5h1M75 839.5h1M75 841.5h1M75 852.5h1M76 761.5h1M76 786.5h1M76 793.5h1M76 801.5h1M76 803.5h1M76 807.5h1M76 810.5h1M76 830.5h1M76 834.5h1M76 835.5h1M76 858.5h1M76 860.5h1M77 783.5h1M77 802.5h1M77 808.5h1M77 810.5h1M77 821.5h1M77 824.5h1M77 826.5h1M77 831.5h1M77 833.5h1M77 843.5h1M78 719.5h1M78 798.5h1M78 820.5h1M78 856.5h1M78 868.5h1M79 734.5h1M79 773.5h1M79 788.5h1M79 815.5h1M79 824.5h1M79 833.5h1M79 841.5h1M80 790.5h1M80 813.5h1M80 816.5h1M80 817.5h1M80 834.5h1M80 847.5h1M80 850.5h1M81 809.5h1M81 810.5h1M81 817.5h1M81 823.5h1M81 830.5h1M81 854.5h1M82 791.5h1M82 817.5h1M82 828.5h1M82 838.5h1M83 737.5h1M83 788.5h1M83 814.5h1M83 822.5h1M83 826.5h1M83 839.5h1M83 842.5h1M83 866.5h1M84 797.5h1M84 805.5h1M84 813.5h1M85 737.5h1M85 784.5h1M85 804.5h1M85 819.5h1M85 855.5h1M85 856.5h1M86 755.5h1M86 793.5h1M86 798.5h1M86 802.5h1M86 807.5h1M86 808.5h1M87 783.5h1M87 807.5h1M87 815.5h1M87 816.5h1M87 856.5h1M88 790.5h1M88 833.5h1M88 839.5h1M88 857.5h1M89 714.5h1M89 736.5h1M89 738.5h1M89 743.5h1M89 823.5h1M90 730.5h1M90 758.5h1M90 769.5h1M90 781.5h1M90 809.5h1M90 812.5h1M90 834.5h1M90 837.5h1M90 848.5h1M91 804.5h1M91 819.5h1M91 830.5h1M91 844.5h1M91 855.5h1M91 865.5h1M92 745.5h1M92 761.5h1M92 803.5h1M92 804.5h1M92 816.5h1M92 828.5h1M92 838.5h1M93 767.5h1M93 814.5h1M93 853.5h1M94 736.5h1M94 739.5h1M94 867.5h1M95 729.5h1M95 735.5h1M95 749.5h1M95 794.5h1M96 731.5h1M96 734.5h1M96 738.5h1M96 742.5h1M96 744.5h1M96 768.5h1M96 833.5h1M96 860.5h1M98 750.5h1M98 764.5h1M98 859.5h1M99 736.5h1M99 793.5h1M99 832.5h1M99 868.5h1M100 778.5h1M100 784.5h1M100 819.5h1M101 734.5h1M101 737.5h1M101 743.5h1M101 756.5h1M101 761.5h1M102 736.5h1M103 731.5h1M103 831.5h1M104 736.5h1M104 772.5h1M104 782.5h1M104 793.5h1M104 797.5h1M104 846.5h1M105 734.5h1M105 748.5h1M105 812.5h1M106 730.5h1M106 795.5h1M107 730.5h1M107 785.5h1M108 722.5h1M108 731.5h1M109 727.5h1M109 755.5h1M109 858.5h1M110 744.5h1M110 790.5h1M112 763.5h1M112 772.5h1M113 715.5h1M113 726.5h1M114 746.5h1M115 728.5h1M115 759.5h1M115 780.5h1M116 752.5h1M117 747.5h1M117 751.5h1M118 729.5h1M120 727.5h1M121 726.5h1M121 755.5h1M121 758.5h1M121 760.5h1M121 795.5h1M121 798.5h1M122 720.5h1M122 810.5h1M123 726.5h1M123 795.5h1M123 843.5h1M124 753.5h1M124 786.5h1M124 805.5h1M125 749.5h1M125 760.5h1M126 753.5h1M126 779.5h1M126 792.5h1M127 759.5h1M127 781.5h1M128 749.5h1M128 759.5h1M128 765.5h1M128 766.5h1M128 792.5h1M128 803.5h1M128 852.5h1M129 761.5h1M129 800.5h1M130 775.5h1M130 776.5h1M130 793.5h1M130 797.5h1M130 801.5h1M131 765.5h1M131 766.5h1M131 791.5h1M131 805.5h1M131 841.5h1M132 791.5h1M132 803.5h1M132 809.5h1M133 725.5h1M133 767.5h1M133 770.5h1M133 776.5h1M133 815.5h1M133 829.5h1M134 785.5h1M134 797.5h1M134 810.5h1M134 821.5h1M135 787.5h1M135 789.5h1M135 808.5h1M136 767.5h1M136 796.5h1M136 811.5h1M137 759.5h1M137 773.5h1M137 780.5h1M137 801.5h1M138 798.5h1M138 819.5h1M138 854.5h1M139 771.5h1M139 774.5h1M139 791.5h1M139 793.5h1M139 831.5h1M139 842.5h1M139 852.5h1M140 754.5h1M140 756.5h1M140 759.5h1M140 774.5h1M140 803.5h1M140 806.5h1M141 762.5h1M141 768.5h1M141 783.5h1M141 797.5h1M141 803.5h1M142 729.5h1M142 759.5h1M142 836.5h1M142 845.5h1M143 763.5h1M143 770.5h1M143 780.5h1M143 811.5h1M143 851.5h1M144 747.5h1M144 752.5h1M145 743.5h1M145 823.5h1M146 737.5h1M146 744.5h1M146 837.5h1M147 750.5h1M147 760.5h1M148 728.5h1M148 737.5h1M148 746.5h1M148 747.5h1M148 858.5h1M149 738.5h1M149 746.5h1M150 729.5h1M150 730.5h1M151 713.5h1M151 736.5h1M151 744.5h1M153 737.5h1M154 739.5h1M156 762.5h1M156 769.5h1M157 720.5h1M158 759.5h1M164 800.5h1M165 753.5h1M167 740.5h1M167 776.5h1M167 847.5h1M168 864.5h1M173 721.5h1M173 827.5h1M175 864.5h1M176 790.5h1M178 739.5h1M186 849.5h1M190 782.5h1" stroke="#c6c6f2"/>
<path d="M36 796.5h1M36 798.5h1M36 799.5h1M36 805.5h1M36 812.5h1M36 817.5h1M36 820.5h1M36 824.5h1M36 837.5h1M36 843.5h1M36 857.5h1M37 800.5h1M37 829.5h1M37 832.5h1M37 843.5h1M37 846.5h1M38 808.5h1M38 810.5h1M38 823.5h1M38 844.5h1M38 867.5h1M38 868.5h1M39 811.5h1M39 818.5h1M39 821.5h1M39 822.5h1M39 834.5h1M39 835.5h1M40 840.5h1M41 784.5h1M41 814.5h1M41 862.5h1M42 811.5h1M42 815.5h1M42 819.5h1M42 820.5h1M42 837.5h1M42 839.5h1M42 852.5h1M43 812.5h1M43 826.5h1M43 834.5h1M43 842.5h1M43 851.5h1M44 821.5h1M44 842.5h1M44 843.5h1M44 858.5h1M45 791.5h1M45 810.5h1M45 828.5h1M45 829.5h1M45 847.5h1M45 851.5h1M45 858.5h1M46 797.5h1M46 811.5h1M46 814.5h1M46 816.5h1M46 820.5h1M46 842.5h1M46 861.5h1M47 784.5h1M47 804.5h1M47 824.5h1M47 832.5h1M47 837.5h1M47 858.5h1M47 859.5h1M48 815.5h1M48 824.5h1M48 827.5h1M48 840.5h1M48 842.5h1M48 843.5h1M48 844.5h1M48 848.5h1M49 785.5h1M49 795.5h1M49 828.5h1M49 829.5h1M49 850.5h1M49 851.5h1M49 853.5h1M50 759.5h1M50 814.5h1M50 820.5h1M50 824.5h1M50 825.5h1M50 845.5h1M51 824.5h1M52 802.5h1M52 817.5h1M52 823.5h1M52 833.5h1M52 835.5h1M52 838.5h1M52 854.5h1M53 778.5h1M53 787.5h1M53 820.5h1M53 824.5h1M53 831.5h1M53 840.5h1M53 846.5h1M53 857.5h1M54 757.5h1M54 823.5h1M54 829.5h1M54 831.5h1M54 837.5h1M54 844.5h1M54 849.5h1M54 854.5h1M55 734.5h1M55 778.5h1M55 793.5h1M55 818.5h1M55 828.5h1M55 829.5h1M56 796.5h1M56 802.5h1M56 813.5h1M56 815.5h1M56 838.5h1M56 843.5h1M56 868.5h1M57 790.5h1M57 814.5h1M57 818.5h1M57 831.5h1M57 839.5h1M57 843.5h1M58 789.5h1M58 810.5h1M58 821.5h1M58 822.5h1M59 796.5h1M59 799.5h1M59 802.5h1M59 820.5h1M59 823.5h1M59 828.5h1M59 835.5h1M59 837.5h1M59 843.5h1M59 862.5h1M60 802.5h1M60 824.5h1M60 832.5h1M60 833.5h1M61 807.5h1M61 831.5h1M61 843.5h1M61 854.5h1M62 784.5h1M62 806.5h1M62 813.5h1M62 821.5h1M62 826.5h1M62 833.5h1M62 840.5h1M63 807.5h1M63 814.5h1M63 819.5h1M63 820.5h1M63 823.5h1M63 835.5h1M63 837.5h1M63 853.5h1M64 809.5h1M64 825.5h1M64 847.5h1M65 801.5h1M65 806.5h1M65 811.5h1M65 818.5h1M65 827.5h1M65 831.5h1M65 848.5h1M66 817.5h1M66 818.5h1M66 828.5h1M66 833.5h1M66 844.5h1M66 845.5h1M66 846.5h1M66 848.5h1M67 795.5h1M67 805.5h1M67 822.5h1M67 837.5h1M68 787.5h1M68 793.5h1M68 811.5h1M68 816.5h1M68 823.5h1M68 828.5h1M68 833.5h1M68 837.5h1M68 842.5h1M69 799.5h1M69 812.5h1M69 835.5h1M69 842.5h1M69 849.5h1M70 808.5h1M70 820.5h1M70 833.5h1M70 839.5h1M70 846.5h1M71 809.5h1M71 819.5h1M71 829.5h1M71 837.5h1M72 798.5h1M72 821.5h1M73 736.5h1M73 787.5h1M73 789.5h1M73 822.5h1M74 804.5h1M74 814.5h1M74 818.5h1M74 852.5h1M74 858.5h1M75 815.5h1M75 817.5h1M75 838.5h1M75 843.5h1M75 851.5h1M76 755.5h1M76 813.5h1M76 824.5h1M76 843.5h1M77 791.5h1M77 827.5h1M77 830.5h1M77 832.5h1M77 848.5h1M78 761.5h1M78 827.5h1M78 832.5h1M78 842.5h1M78 846.5h1M79 776.5h1M79 803.5h1M79 816.5h1M79 830.5h1M79 831.5h1M79 853.5h1M80 819.5h1M80 823.5h1M80 828.5h1M81 742.5h1M81 743.5h1M81 797.5h1M81 819.5h1M81 822.5h1M81 828.5h1M81 847.5h1M81 866.5h1M82 830.5h1M83 830.5h1M84 735.5h1M84 798.5h1M84 817.5h1M84 829.5h1M86 811.5h1M86 825.5h1M86 827.5h1M86 840.5h1M86 858.5h1M87 742.5h1M87 800.5h1M87 817.5h1M87 819.5h1M87 823.5h1M88 826.5h1M89 826.5h1M90 736.5h1M92 771.5h1M92 797.5h1M92 813.5h1M93 789.5h1M93 812.5h1M93 819.5h1M94 818.5h1M97 739.5h1M97 858.5h1M98 737.5h1M99 738.5h1M99 823.5h1M100 726.5h1M100 733.5h1M100 735.5h1M100 812.5h1M101 733.5h1M102 730.5h1M102 733.5h1M102 739.5h1M102 760.5h1M102 773.5h1M102 802.5h1M103 738.5h1M103 744.5h1M103 797.5h1M103 819.5h1M104 737.5h1M104 740.5h1M105 718.5h1M106 729.5h1M106 736.5h1M106 743.5h1M106 744.5h1M106 825.5h1M107 733.5h1M107 741.5h1M109 751.5h1M110 726.5h1M110 741.5h1M111 731.5h1M112 769.5h1M113 730.5h1M113 759.5h1M114 731.5h1M116 814.5h1M117 729.5h1M117 750.5h1M117 753.5h1M118 728.5h1M118 745.5h1M118 757.5h1M119 745.5h1M119 748.5h1M119 750.5h1M120 730.5h1M120 751.5h1M120 814.5h1M121 746.5h1M122 747.5h1M124 750.5h1M124 801.5h1M125 763.5h1M126 716.5h1M126 721.5h1M126 725.5h1M126 758.5h1M126 759.5h1M127 730.5h1M127 748.5h1M127 751.5h1M128 729.5h1M128 751.5h1M128 754.5h1M128 758.5h1M128 770.5h1M128 797.5h1M130 727.5h1M130 757.5h1M130 764.5h1M130 770.5h1M130 778.5h1M130 806.5h1M130 809.5h1M131 758.5h1M131 768.5h1M131 769.5h1M131 777.5h1M131 779.5h1M131 795.5h1M132 722.5h1M132 759.5h1M132 772.5h1M132 780.5h1M132 795.5h1M133 766.5h1M133 797.5h1M134 776.5h1M134 793.5h1M134 806.5h1M135 728.5h1M135 769.5h1M135 770.5h1M136 727.5h1M136 751.5h1M136 774.5h1M136 776.5h1M136 794.5h1M137 757.5h1M137 758.5h1M137 769.5h1M137 771.5h1M137 803.5h1M138 729.5h1M138 759.5h1M138 760.5h1M138 772.5h1M138 781.5h1M138 801.5h1M139 760.5h1M139 762.5h1M139 773.5h1M139 838.5h1M140 749.5h1M140 763.5h1M140 777.5h1M140 802.5h1M140 805.5h1M141 732.5h1M141 747.5h1M141 754.5h1M141 756.5h1M141 757.5h1M141 758.5h1M141 760.5h1M141 779.5h1M142 757.5h1M142 763.5h1M142 770.5h1M142 781.5h1M142 834.5h1M142 839.5h1M142 846.5h1M142 849.5h1M143 729.5h1M143 733.5h1M143 743.5h1M143 748.5h1M143 754.5h1M144 762.5h1M144 775.5h1M146 769.5h1M147 737.5h1M147 739.5h1M147 742.5h1M147 744.5h1M148 734.5h1M148 751.5h1M150 721.5h1M154 736.5h1M158 732.5h1M161 728.5h1M173 716.5h1" stroke="#7070d0"/>
<path d="M36 819.5h1M36 822.5h1M36 835.5h1M36 838.5h1M48 821.5h1M53 833.5h1M57 833.5h1M58 831.5h1M58 835.5h1M60 830.5h1M61 825.5h1M62 828.5h1M64 830.5h1M65 816.5h1M65 819.5h1M66 813.5h1M66 815.5h1M66 816.5h1M72 820.5h1M74 822.5h1M104 741.5h1M106 738.5h1M106 740.5h1M107 734.5h1M107 736.5h1M107 737.5h1M107 739.5h1M107 740.5h1M108 733.5h1M108 739.5h1M109 733.5h1M109 739.5h1M109 740.5h1M110 731.5h1M110 737.5h1M110 739.5h1M111 732.5h1M111 733.5h1M111 734.5h1M111 741.5h1M112 733.5h1M113 737.5h1M115 732.5h1M115 741.5h1M115 742.5h1M116 732.5h1M116 733.5h1M116 741.5h1M117 742.5h1M118 732.5h1M118 733.5h1M118 741.5h1M118 742.5h1M119 733.5h1M119 740.5h1M119 741.5h1M119 744.5h1M120 731.5h1M120 733.5h1M120 743.5h1M120 745.5h1M121 731.5h1M121 732.5h1M121 745.5h1M122 731.5h1M122 733.5h1M122 745.5h1M123 731.5h1M123 746.5h1M123 747.5h1M124 730.5h1M124 746.5h1M124 747.5h1M124 748.5h1M125 731.5h1M125 747.5h1M125 748.5h1M125 750.5h1M126 748.5h1M127 728.5h1M127 749.5h1M127 755.5h1M128 730.5h1M128 748.5h1M128 750.5h1M128 753.5h1M128 755.5h1M129 730.5h1M129 748.5h1M129 749.5h1M129 753.5h1M129 754.5h1M129 755.5h1M129 756.5h1M130 729.5h1M130 750.5h1M130 751.5h1M130 753.5h1M130 755.5h1M130 759.5h1M130 763.5h1M131 730.5h1M131 750.5h1M131 753.5h1M131 754.5h1M131 755.5h1M132 749.5h1M132 750.5h1M132 752.5h1M132 754.5h1M132 756.5h1M132 757.5h1M132 758.5h1M132 761.5h1M132 763.5h1M132 798.5h1M132 801.5h1M133 729.5h1M133 747.5h1M133 749.5h1M133 752.5h1M133 754.5h1M133 755.5h1M133 758.5h1M133 759.5h1M133 760.5h1M133 761.5h1M133 762.5h1M133 763.5h1M133 803.5h1M134 730.5h1M134 748.5h1M134 750.5h1M134 751.5h1M134 752.5h1M134 753.5h1M134 754.5h1M134 755.5h1M134 756.5h1M134 757.5h1M134 758.5h1M134 760.5h1M134 761.5h1M134 763.5h1M134 765.5h1M134 767.5h1M134 800.5h1M135 729.5h1M135 748.5h1M135 753.5h1M135 758.5h1M135 761.5h1M135 762.5h1M135 763.5h1M135 764.5h1M135 766.5h1M135 768.5h1M135 801.5h1M136 729.5h1M136 749.5h1M136 750.5h1M136 753.5h1M136 754.5h1M136 755.5h1M136 756.5h1M136 757.5h1M136 759.5h1M136 761.5h1M136 763.5h1M136 799.5h1M136 800.5h1M136 801.5h1M137 728.5h1M137 731.5h1M137 746.5h1M137 747.5h1M137 748.5h1M137 749.5h1M137 754.5h1M137 755.5h1M137 760.5h1M137 761.5h1M137 762.5h1M137 763.5h1M137 765.5h1M137 767.5h1M137 768.5h1M138 745.5h1M138 746.5h1M138 747.5h1M138 748.5h1M138 751.5h1M138 752.5h1M138 758.5h1M138 762.5h1M138 763.5h1M138 766.5h1M138 767.5h1M139 733.5h1M139 744.5h1M139 745.5h1M139 749.5h1M139 759.5h1M139 766.5h1M139 767.5h1M139 768.5h1M140 745.5h1M141 733.5h1M141 734.5h1M141 735.5h1M141 744.5h1M141 745.5h1M142 735.5h1M142 741.5h1M142 742.5h1M142 744.5h1M143 736.5h1M143 737.5h1M143 738.5h1M143 739.5h1M143 740.5h1M143 742.5h1M144 738.5h1M144 741.5h1" stroke="#3f7fe0"/>
<path d="M36 803.5h1M36 808.5h1M36 818.5h1M36 823.5h1M36 825.5h1M36 830.5h1M36 840.5h1M36 845.5h1M36 849.5h1M36 867.5h1M38 742.5h1M38 852.5h1M39 810.5h1M39 840.5h1M41 793.5h1M41 820.5h1M41 826.5h1M41 833.5h1M42 821.5h1M42 822.5h1M43 785.5h1M43 803.5h1M43 811.5h1M43 814.5h1M43 818.5h1M44 815.5h1M45 805.5h1M47 810.5h1M47 811.5h1M47 821.5h1M47 828.5h1M47 845.5h1M47 851.5h1M48 812.5h1M48 813.5h1M48 846.5h1M49 794.5h1M49 819.5h1M49 825.5h1M49 827.5h1M50 841.5h1M50 856.5h1M51 816.5h1M51 833.5h1M51 850.5h1M52 791.5h1M52 827.5h1M52 837.5h1M52 848.5h1M53 818.5h1M53 839.5h1M53 847.5h1M54 789.5h1M54 834.5h1M54 835.5h1M54 841.5h1M55 815.5h1M56 766.5h1M56 795.5h1M56 827.5h1M56 833.5h1M56 835.5h1M56 844.5h1M57 832.5h1M57 834.5h1M58 818.5h1M58 824.5h1M58 849.5h1M59 813.5h1M59 817.5h1M59 819.5h1M59 824.5h1M59 839.5h1M59 847.5h1M59 860.5h1M59 868.5h1M60 814.5h1M60 815.5h1M60 823.5h1M60 826.5h1M60 841.5h1M61 804.5h1M61 826.5h1M62 811.5h1M62 830.5h1M62 837.5h1M63 817.5h1M63 828.5h1M63 849.5h1M64 787.5h1M64 813.5h1M64 819.5h1M64 837.5h1M64 850.5h1M65 809.5h1M65 840.5h1M66 802.5h1M66 809.5h1M66 829.5h1M67 766.5h1M67 827.5h1M67 843.5h1M67 847.5h1M68 813.5h1M69 816.5h1M69 817.5h1M70 803.5h1M70 812.5h1M71 794.5h1M71 813.5h1M71 828.5h1M71 831.5h1M71 841.5h1M71 860.5h1M72 724.5h1M72 796.5h1M72 830.5h1M72 856.5h1M73 795.5h1M73 802.5h1M73 815.5h1M73 821.5h1M73 830.5h1M73 833.5h1M74 816.5h1M74 819.5h1M74 824.5h1M75 825.5h1M75 842.5h1M76 785.5h1M76 816.5h1M76 822.5h1M76 856.5h1M77 837.5h1M78 815.5h1M78 838.5h1M78 839.5h1M79 807.5h1M79 820.5h1M81 824.5h1M81 829.5h1M82 736.5h1M82 812.5h1M82 818.5h1M83 810.5h1M83 844.5h1M83 858.5h1M84 836.5h1M84 845.5h1M85 820.5h1M85 838.5h1M86 821.5h1M86 823.5h1M86 848.5h1M89 759.5h1M89 795.5h1M89 796.5h1M91 828.5h1M92 750.5h1M93 737.5h1M95 736.5h1M95 739.5h1M95 852.5h1M96 736.5h1M96 737.5h1M96 832.5h1M98 733.5h1M99 735.5h1M100 738.5h1M100 815.5h1M100 817.5h1M102 737.5h1M102 742.5h1M103 743.5h1M104 747.5h1M104 807.5h1M105 820.5h1M106 733.5h1M106 735.5h1M106 741.5h1M107 742.5h1M108 743.5h1M109 742.5h1M110 742.5h1M112 741.5h1M116 730.5h1M116 731.5h1M116 745.5h1M116 761.5h1M117 728.5h1M118 743.5h1M119 732.5h1M121 729.5h1M121 747.5h1M122 752.5h1M123 728.5h1M123 748.5h1M123 754.5h1M124 729.5h1M125 758.5h1M125 766.5h1M126 750.5h1M126 757.5h1M126 796.5h1M127 754.5h1M127 757.5h1M128 727.5h1M128 757.5h1M128 764.5h1M129 725.5h1M129 770.5h1M129 775.5h1M129 796.5h1M129 797.5h1M129 802.5h1M130 749.5h1M130 798.5h1M130 799.5h1M130 808.5h1M131 760.5h1M131 797.5h1M131 849.5h1M132 769.5h1M132 797.5h1M132 804.5h1M133 794.5h1M133 796.5h1M133 801.5h1M133 805.5h1M134 769.5h1M135 767.5h1M135 774.5h1M135 802.5h1M135 804.5h1M135 805.5h1M136 764.5h1M137 729.5h1M137 753.5h1M137 766.5h1M137 797.5h1M137 812.5h1M138 765.5h1M138 800.5h1M139 719.5h1M139 725.5h1M139 748.5h1M139 750.5h1M139 752.5h1M139 769.5h1M139 792.5h1M140 750.5h1M140 752.5h1M140 753.5h1M140 764.5h1M140 766.5h1M140 768.5h1M140 838.5h1M141 721.5h1M141 728.5h1M141 729.5h1M141 764.5h1M143 732.5h1M143 755.5h1M143 759.5h1M144 739.5h1M144 746.5h1M144 753.5h1M145 737.5h1M146 745.5h1M147 729.5h1M150 724.5h1M158 750.5h1" stroke="#5252c0"/>
<path d="M36 793.5h1M36 801.5h1M36 806.5h1M36 810.5h1M36 816.5h1M36 836.5h1M39 804.5h1M39 844.5h1M41 811.5h1M41 842.5h1M42 799.5h1M42 809.5h1M43 858.5h1M44 738.5h1M44 817.5h1M44 852.5h1M45 832.5h1M51 813.5h1M51 830.5h1M53 810.5h1M53 841.5h1M55 833.5h1M55 834.5h1M56 797.5h1M57 809.5h1M57 816.5h1M60 829.5h1M61 839.5h1M61 864.5h1M62 809.5h1M62 816.5h1M64 820.5h1M65 824.5h1M65 843.5h1M65 851.5h1M65 868.5h1M66 814.5h1M67 804.5h1M68 818.5h1M69 833.5h1M69 868.5h1M70 823.5h1M70 825.5h1M72 793.5h1M74 835.5h1M74 843.5h1M76 854.5h1M78 814.5h1M78 866.5h1M79 832.5h1M93 736.5h1M93 838.5h1M93 844.5h1M96 743.5h1M96 850.5h1M98 736.5h1M99 845.5h1M101 738.5h1M102 812.5h1M103 732.5h1M104 771.5h1M105 735.5h1M109 730.5h1M111 742.5h1M111 744.5h1M116 744.5h1M122 753.5h1M123 750.5h1M127 750.5h1M128 800.5h1M129 778.5h1M130 728.5h1M130 754.5h1M130 758.5h1M131 762.5h1M132 802.5h1M133 728.5h1M134 764.5h1M136 762.5h1M136 771.5h1M137 777.5h1M138 773.5h1M138 802.5h1M139 757.5h1M142 761.5h1M143 757.5h1M143 761.5h1M145 756.5h1M147 731.5h1M147 740.5h1M148 733.5h1" stroke="#34347c"/>
<path d="M115 736.5h1M116 738.5h1M118 737.5h1M119 736.5h1M119 739.5h1M120 736.5h1M121 737.5h1M121 738.5h1M122 735.5h1M122 736.5h1M122 737.5h1M122 738.5h1M122 740.5h1M123 734.5h1M123 735.5h1M123 737.5h1M123 738.5h1M124 734.5h1M124 735.5h1M124 736.5h1M124 737.5h1M124 738.5h1M124 739.5h1M124 740.5h1M124 742.5h1M125 735.5h1M125 737.5h1M125 739.5h1M125 740.5h1M125 741.5h1M125 742.5h1M125 744.5h1M126 734.5h1M126 735.5h1M126 741.5h1M126 742.5h1M126 743.5h1M126 744.5h1M127 734.5h1M127 743.5h1M127 744.5h1M128 733.5h1M128 734.5h1M128 742.5h1M128 744.5h1M128 745.5h1M129 733.5h1M129 742.5h1M129 743.5h1M129 745.5h1M130 733.5h1M130 743.5h1M130 744.5h1M131 732.5h1M131 733.5h1M131 743.5h1M131 744.5h1M131 745.5h1M132 732.5h1M132 733.5h1M132 734.5h1M132 743.5h1M133 732.5h1M133 734.5h1M133 742.5h1M133 743.5h1M133 744.5h1M134 732.5h1M134 733.5h1M134 739.5h1M134 743.5h1M135 732.5h1M135 733.5h1M135 734.5h1M135 735.5h1M135 743.5h1M136 733.5h1M136 734.5h1M136 736.5h1M136 739.5h1M136 741.5h1M136 742.5h1M136 744.5h1M137 733.5h1M137 734.5h1M137 736.5h1M137 740.5h1M137 741.5h1M137 742.5h1M137 744.5h1M138 735.5h1M138 737.5h1M138 738.5h1M138 739.5h1M138 740.5h1M138 741.5h1M138 742.5h1M139 736.5h1M139 738.5h1M139 739.5h1M139 740.5h1M140 737.5h1M140 738.5h1M140 739.5h1" stroke="#5ccc4c"/>
<path d="M129 736.5h1M129 737.5h1M129 740.5h1M130 737.5h1M130 738.5h1M130 739.5h1M130 740.5h1M130 741.5h1M131 736.5h1M131 738.5h1M131 739.5h1M131 740.5h1M131 741.5h1M132 737.5h1M132 738.5h1M133 735.5h1M133 738.5h1M133 739.5h1M133 740.5h1M134 738.5h1M135 739.5h1" stroke="#ee5a20"/>
<path d="M126 738.5h1M127 738.5h1M128 738.5h1M128 739.5h1M128 740.5h1M129 738.5h1M129 739.5h1M131 734.5h1M131 735.5h1M131 737.5h1M133 736.5h1M134 735.5h1M134 737.5h1M135 740.5h1" stroke="#f49a20"/>
<path d="M125 738.5h1M126 736.5h1M126 737.5h1M126 740.5h1M127 735.5h1M127 737.5h1M127 740.5h1M127 741.5h1M128 736.5h1M128 737.5h1M128 741.5h1M129 741.5h1M130 735.5h1M130 736.5h1M131 742.5h1M132 735.5h1M132 739.5h1M132 740.5h1M132 741.5h1M132 742.5h1M133 737.5h1M133 741.5h1M134 736.5h1M134 740.5h1M134 741.5h1M136 735.5h1M136 737.5h1" stroke="#f0cc28"/>
<path d="M125 736.5h1M126 739.5h1M127 736.5h1M127 739.5h1M127 742.5h1M128 735.5h1M128 743.5h1M129 734.5h1M129 735.5h1M130 734.5h1M130 742.5h1M132 736.5h1M133 733.5h1M134 734.5h1M134 742.5h1M135 736.5h1M135 737.5h1M135 738.5h1M135 742.5h1M136 738.5h1M136 740.5h1M137 735.5h1M137 737.5h1M137 738.5h1M137 739.5h1M138 736.5h1" stroke="#b4d838"/>
<path d="M110 738.5h1M111 736.5h1M111 737.5h1M112 737.5h1M112 738.5h1M112 739.5h1M113 738.5h1M114 737.5h1M114 739.5h1M115 735.5h1M115 738.5h1M115 740.5h1M116 734.5h1M116 735.5h1M116 736.5h1M116 737.5h1M117 735.5h1M117 736.5h1M117 738.5h1M118 735.5h1M118 736.5h1M118 738.5h1M118 739.5h1M118 740.5h1M119 737.5h1M120 737.5h1M120 738.5h1M120 740.5h1M120 741.5h1M121 735.5h1M121 739.5h1M121 740.5h1M121 741.5h1M122 739.5h1M122 741.5h1M122 742.5h1M122 743.5h1M123 733.5h1M123 736.5h1M123 739.5h1M123 740.5h1M123 741.5h1M123 742.5h1M123 743.5h1M124 733.5h1M124 741.5h1M124 744.5h1M125 733.5h1M125 734.5h1M125 743.5h1M125 745.5h1M126 745.5h1M126 747.5h1M127 732.5h1M127 733.5h1M127 745.5h1M128 732.5h1M129 732.5h1M129 744.5h1M129 746.5h1M130 732.5h1M130 745.5h1M130 746.5h1M131 731.5h1M131 746.5h1M132 731.5h1M132 744.5h1M132 745.5h1M133 731.5h1M133 745.5h1M134 731.5h1M134 744.5h1M135 741.5h1M135 744.5h1M136 732.5h1M136 743.5h1M137 743.5h1M138 733.5h1M138 734.5h1M138 743.5h1M138 744.5h1M139 734.5h1M139 735.5h1M139 737.5h1M139 741.5h1M139 742.5h1M140 735.5h1M140 736.5h1M140 740.5h1M140 741.5h1M140 742.5h1M140 743.5h1M141 737.5h1M141 739.5h1M141 740.5h1M142 736.5h1M142 738.5h1" stroke="#38c488"/>
<path d="M107 738.5h1M108 735.5h1M108 736.5h1M108 737.5h1M108 738.5h1M109 734.5h1M109 735.5h1M109 736.5h1M109 737.5h1M109 738.5h1M110 734.5h1M110 735.5h1M110 736.5h1M111 735.5h1M111 738.5h1M111 739.5h1M112 734.5h1M112 736.5h1M112 740.5h1M113 732.5h1M113 733.5h1M113 734.5h1M113 735.5h1M113 736.5h1M113 739.5h1M113 740.5h1M113 741.5h1M114 733.5h1M114 734.5h1M114 735.5h1M114 736.5h1M114 738.5h1M114 740.5h1M114 741.5h1M115 734.5h1M115 737.5h1M115 739.5h1M116 739.5h1M116 740.5h1M117 734.5h1M117 737.5h1M117 739.5h1M117 740.5h1M118 734.5h1M119 734.5h1M119 735.5h1M119 738.5h1M120 734.5h1M120 735.5h1M120 739.5h1M120 742.5h1M121 734.5h1M121 736.5h1M121 742.5h1M121 743.5h1M121 744.5h1M122 732.5h1M122 734.5h1M122 744.5h1M123 732.5h1M123 744.5h1M124 732.5h1M124 743.5h1M124 745.5h1M125 732.5h1M125 746.5h1M126 732.5h1M126 733.5h1M126 746.5h1M127 731.5h1M127 746.5h1M127 747.5h1M128 731.5h1M128 746.5h1M128 747.5h1M129 747.5h1M129 757.5h1M130 730.5h1M130 731.5h1M130 747.5h1M131 747.5h1M131 749.5h1M131 751.5h1M132 730.5h1M132 746.5h1M132 747.5h1M132 748.5h1M133 746.5h1M133 748.5h1M133 750.5h1M133 751.5h1M133 756.5h1M134 745.5h1M134 746.5h1M134 747.5h1M134 759.5h1M135 730.5h1M135 731.5h1M135 745.5h1M135 746.5h1M135 747.5h1M135 750.5h1M135 756.5h1M135 759.5h1M136 730.5h1M136 731.5h1M136 745.5h1M136 746.5h1M136 747.5h1M136 748.5h1M136 758.5h1M136 760.5h1M137 732.5h1M137 745.5h1M138 731.5h1M138 732.5h1M139 743.5h1M140 734.5h1M141 736.5h1M141 738.5h1M141 741.5h1M141 742.5h1M141 743.5h1M142 734.5h1M142 739.5h1" stroke="#30b4d4"/>
</g>
<path d="M36.3 868.9v-3M36.3 868.9h3M48.09 868.9v-1.5M36.3 857.23h1.5M54.99 868.9v-1.5M36.3 850.4h1.5M59.89 868.9v-1.5M36.3 845.56h1.5M63.68 868.9v-1.5M36.3 841.8h1.5M66.78 868.9v-1.5M36.3 838.73h1.5M69.41 868.9v-1.5M36.3 836.13h1.5M71.68 868.9v-1.5M36.3 833.88h1.5M73.68 868.9v-1.5M36.3 831.9h1.5M75.47 868.9v-3M36.3 830.12h3M87.27 868.9v-1.5M36.3 818.45h1.5M94.17 868.9v-1.5M36.3 811.62h1.5M99.06 868.9v-1.5M36.3 806.78h1.5M102.86 868.9v-1.5M36.3 803.02h1.5M105.96 868.9v-1.5M36.3 799.95h1.5M108.58 868.9v-1.5M36.3 797.36h1.5M110.85 868.9v-1.5M36.3 795.11h1.5M112.86 868.9v-1.5M36.3 793.12h1.5M114.65 868.9v-3M36.3 791.35h3M126.44 868.9v-1.5M36.3 779.68h1.5M133.34 868.9v-1.5M36.3 772.85h1.5M138.24 868.9v-1.5M36.3 768.01h1.5M142.03 868.9v-1.5M36.3 764.25h1.5M145.13 868.9v-1.5M36.3 761.18h1.5M147.76 868.9v-1.5M36.3 758.58h1.5M150.03 868.9v-1.5M36.3 756.33h1.5M152.03 868.9v-1.5M36.3 754.35h1.5M153.82 868.9v-3M36.3 752.57h3M165.62 868.9v-1.5M36.3 740.9h1.5M172.52 868.9v-1.5M36.3 734.07h1.5M177.41 868.9v-1.5M36.3 729.23h1.5M181.21 868.9v-1.5M36.3 725.47h1.5M184.31 868.9v-1.5M36.3 722.4h1.5M186.93 868.9v-1.5M36.3 719.81h1.5M189.2 868.9v-1.5M36.3 717.56h1.5M191.21 868.9v-1.5M36.3 715.57h1.5" stroke="#777" stroke-width="0.7" fill="none"/>
<text x="32.1" y="882.1" class="t2" font-size="6.3" font-weight="normal" fill="#222">10<tspan font-size="4.2" dy="-2.4">0</tspan></text>
<text x="21.8" y="871.1" class="t2" font-size="6.3" font-weight="normal" fill="#222">10<tspan font-size="4.2" dy="-2.4">0</tspan></text>
<text x="71.27" y="882.1" class="t2" font-size="6.3" font-weight="normal" fill="#222">10<tspan font-size="4.2" dy="-2.4">1</tspan></text>
<text x="21.8" y="832.33" class="t2" font-size="6.3" font-weight="normal" fill="#222">10<tspan font-size="4.2" dy="-2.4">1</tspan></text>
<text x="110.45" y="882.1" class="t2" font-size="6.3" font-weight="normal" fill="#222">10<tspan font-size="4.2" dy="-2.4">2</tspan></text>
<text x="21.8" y="793.55" class="t2" font-size="6.3" font-weight="normal" fill="#222">10<tspan font-size="4.2" dy="-2.4">2</tspan></text>
<text x="149.62" y="882.1" class="t2" font-size="6.3" font-weight="normal" fill="#222">10<tspan font-size="4.2" dy="-2.4">3</tspan></text>
<text x="21.8" y="754.77" class="t2" font-size="6.3" font-weight="normal" fill="#222">10<tspan font-size="4.2" dy="-2.4">3</tspan></text>
<text x="188.8" y="882.1" class="t2" font-size="6.3" font-weight="normal" fill="#222">10<tspan font-size="4.2" dy="-2.4">4</tspan></text>
<text x="21.8" y="716" class="t2" font-size="6.3" font-weight="normal" fill="#222">10<tspan font-size="4.2" dy="-2.4">4</tspan></text>
<rect x="36.3" y="780.3" width="48.4" height="88.6" fill="none" stroke="#2a2a2a" stroke-width="1"/>
<rect x="84.7" y="716.3" width="33.3" height="33.2" fill="none" stroke="#2a2a2a" stroke-width="1"/>
<rect x="118" y="716.3" width="33.5" height="33.2" fill="none" stroke="#2a2a2a" stroke-width="1"/>
<rect x="118" y="749.5" width="33.5" height="33.5" fill="none" stroke="#2a2a2a" stroke-width="1"/>
<rect x="118" y="788.3" width="33.5" height="32.8" fill="none" stroke="#2a2a2a" stroke-width="1"/>
<text x="42.5" y="774.4" font-size="14.3">R0</text>
<text x="66" y="727.7" font-size="14.3">R1</text>
<text x="155.3" y="727.7" font-size="14.3">R2</text>
<text x="155.3" y="762.3" font-size="14.3">R3</text>
<text x="155.3" y="798.6" font-size="14.3">R4</text>
<rect x="214" y="714.5" width="154" height="154.4" fill="#fff" stroke="#999" stroke-width="1.3"/>
<g filter="url(#soft)" fill="none" stroke-width="1">
<path d="M214 736.5h1M214 750.5h1M214 759.5h1M214 792.5h1M214 821.5h1M214 823.5h1M214 825.5h1M214 837.5h1M214 855.5h1M214 856.5h1M215 794.5h1M216 714.5h1M216 756.5h1M217 826.5h1M219 838.5h1M220 855.5h1M222 852.5h1M223 826.5h1M223 838.5h1M224 850.5h1M225 804.5h1M225 822.5h1M225 827.5h1M226 850.5h1M228 828.5h1M228 831.5h1M228 847.5h1M229 760.5h1M230 801.5h1M230 866.5h1M231 803.5h1M231 821.5h1M231 825.5h1M232 796.5h1M232 833.5h1M232 850.5h1M233 833.5h1M233 838.5h1M233 844.5h1M233 851.5h1M234 792.5h1M234 794.5h1M235 823.5h1M237 828.5h1M237 832.5h1M237 842.5h1M237 859.5h1M237 861.5h1M238 808.5h1M239 716.5h1M241 751.5h1M241 797.5h1M241 841.5h1M242 868.5h1M244 760.5h1M244 785.5h1M244 812.5h1M244 841.5h1M244 868.5h1M245 766.5h1M245 830.5h1M246 832.5h1M247 799.5h1M247 855.5h1M248 797.5h1M248 841.5h1M249 758.5h1M249 778.5h1M249 787.5h1M249 813.5h1M249 825.5h1M249 857.5h1M250 748.5h1M250 819.5h1M250 832.5h1M251 744.5h1M251 806.5h1M251 844.5h1M252 725.5h1M252 751.5h1M252 795.5h1M252 816.5h1M253 780.5h1M253 842.5h1M253 867.5h1M254 745.5h1M255 836.5h1M255 850.5h1M256 794.5h1M257 742.5h1M257 809.5h1M257 827.5h1M259 745.5h1M259 749.5h1M259 826.5h1M260 801.5h1M262 745.5h1M262 796.5h1M262 825.5h1M263 741.5h1M263 796.5h1M263 830.5h1M264 747.5h1M266 804.5h1M266 841.5h1M267 746.5h1M268 753.5h1M269 768.5h1M269 820.5h1M269 830.5h1M269 835.5h1M270 743.5h1M270 754.5h1M270 794.5h1M271 719.5h1M271 745.5h1M271 803.5h1M272 726.5h1M272 833.5h1M274 746.5h1M274 833.5h1M275 750.5h1M275 751.5h1M275 754.5h1M275 818.5h1M275 845.5h1M276 742.5h1M276 746.5h1M276 747.5h1M276 751.5h1M276 772.5h1M277 746.5h1M277 750.5h1M277 753.5h1M278 746.5h1M278 854.5h1M279 744.5h1M279 745.5h1M279 747.5h1M279 748.5h1M279 801.5h1M280 744.5h1M280 746.5h1M280 752.5h1M280 798.5h1M281 744.5h1M282 741.5h1M282 747.5h1M282 773.5h1M282 836.5h1M283 749.5h1M284 739.5h1M284 748.5h1M284 750.5h1M284 782.5h1M284 814.5h1M286 724.5h1M286 744.5h1M287 737.5h1M287 752.5h1M289 732.5h1M289 752.5h1M289 760.5h1M290 741.5h1M290 742.5h1M290 752.5h1M290 761.5h1M291 756.5h1M291 797.5h1M292 753.5h1M292 754.5h1M292 755.5h1M293 755.5h1M293 757.5h1M293 764.5h1M293 830.5h1M294 739.5h1M294 756.5h1M294 761.5h1M295 736.5h1M295 760.5h1M295 837.5h1M296 757.5h1M296 786.5h1M297 759.5h1M297 781.5h1M298 763.5h1M298 783.5h1M299 738.5h1M299 762.5h1M299 775.5h1M300 735.5h1M300 758.5h1M300 763.5h1M300 766.5h1M300 768.5h1M300 773.5h1M300 841.5h1M301 733.5h1M301 734.5h1M301 768.5h1M302 759.5h1M302 765.5h1M302 769.5h1M302 770.5h1M302 771.5h1M302 773.5h1M302 774.5h1M302 782.5h1M303 734.5h1M303 767.5h1M303 777.5h1M304 759.5h1M304 769.5h1M305 735.5h1M305 736.5h1M305 764.5h1M305 770.5h1M305 776.5h1M305 781.5h1M305 784.5h1M305 824.5h1M306 732.5h1M306 844.5h1M307 781.5h1M308 766.5h1M308 771.5h1M308 780.5h1M309 733.5h1M309 768.5h1M309 772.5h1M309 778.5h1M309 784.5h1M309 788.5h1M310 771.5h1M310 772.5h1M310 775.5h1M310 777.5h1M310 784.5h1M310 829.5h1M311 732.5h1M311 738.5h1M311 776.5h1M312 738.5h1M312 739.5h1M312 753.5h1M312 754.5h1M312 759.5h1M312 760.5h1M312 764.5h1M312 775.5h1M312 776.5h1M312 778.5h1M312 782.5h1M312 793.5h1M312 808.5h1M312 819.5h1M313 753.5h1M313 756.5h1M313 767.5h1M313 772.5h1M313 787.5h1M314 740.5h1M314 765.5h1M314 789.5h1M314 797.5h1M315 757.5h1M315 788.5h1M316 754.5h1M316 755.5h1M316 759.5h1M316 789.5h1M316 805.5h1M317 751.5h1M317 788.5h1M317 802.5h1M318 739.5h1M318 750.5h1M318 764.5h1M318 766.5h1M318 781.5h1M318 841.5h1M319 742.5h1M319 744.5h1M319 746.5h1M319 762.5h1M319 765.5h1M319 798.5h1M320 722.5h1M320 727.5h1M320 745.5h1M320 751.5h1M320 762.5h1M321 769.5h1M321 868.5h1M322 755.5h1M322 827.5h1M325 743.5h1M326 748.5h1M328 731.5h1M333 764.5h1M333 817.5h1M347 717.5h1M350 742.5h1M365 799.5h1" stroke="#9090de"/>
<path d="M214 760.5h1M214 793.5h1M214 806.5h1M214 814.5h1M214 815.5h1M214 830.5h1M214 845.5h1M214 849.5h1M214 858.5h1M214 868.5h1M216 814.5h1M216 818.5h1M217 815.5h1M217 819.5h1M217 832.5h1M217 839.5h1M217 849.5h1M218 799.5h1M218 815.5h1M218 826.5h1M218 839.5h1M218 848.5h1M219 754.5h1M219 844.5h1M220 819.5h1M220 832.5h1M220 840.5h1M220 868.5h1M221 731.5h1M221 762.5h1M221 800.5h1M221 814.5h1M221 830.5h1M221 849.5h1M221 850.5h1M222 723.5h1M222 838.5h1M223 738.5h1M223 815.5h1M223 819.5h1M223 833.5h1M224 746.5h1M224 789.5h1M225 836.5h1M226 844.5h1M227 780.5h1M227 800.5h1M227 842.5h1M228 754.5h1M228 806.5h1M228 841.5h1M229 837.5h1M229 840.5h1M229 843.5h1M230 841.5h1M230 868.5h1M231 816.5h1M231 817.5h1M232 744.5h1M232 765.5h1M232 775.5h1M232 835.5h1M233 756.5h1M233 797.5h1M233 813.5h1M233 823.5h1M233 839.5h1M234 819.5h1M234 845.5h1M235 821.5h1M236 788.5h1M236 803.5h1M236 834.5h1M237 798.5h1M237 807.5h1M237 822.5h1M237 862.5h1M238 836.5h1M239 819.5h1M239 835.5h1M240 743.5h1M240 762.5h1M240 789.5h1M240 804.5h1M240 822.5h1M240 840.5h1M241 738.5h1M241 827.5h1M241 838.5h1M242 818.5h1M242 821.5h1M242 832.5h1M243 785.5h1M243 793.5h1M243 826.5h1M243 836.5h1M243 837.5h1M244 763.5h1M244 775.5h1M244 866.5h1M245 806.5h1M246 715.5h1M246 753.5h1M246 817.5h1M246 831.5h1M246 837.5h1M247 808.5h1M247 823.5h1M247 829.5h1M247 830.5h1M247 833.5h1M248 726.5h1M248 865.5h1M249 838.5h1M250 841.5h1M251 754.5h1M252 809.5h1M252 825.5h1M252 842.5h1M253 738.5h1M253 821.5h1M253 846.5h1M254 737.5h1M254 748.5h1M254 795.5h1M254 854.5h1M255 809.5h1M255 818.5h1M255 847.5h1M255 859.5h1M255 868.5h1M256 770.5h1M256 825.5h1M256 829.5h1M256 834.5h1M256 862.5h1M257 738.5h1M257 779.5h1M257 801.5h1M258 739.5h1M258 746.5h1M260 744.5h1M260 746.5h1M260 811.5h1M260 867.5h1M261 739.5h1M261 741.5h1M261 785.5h1M261 822.5h1M261 833.5h1M261 837.5h1M261 862.5h1M262 747.5h1M262 758.5h1M263 751.5h1M263 798.5h1M263 804.5h1M263 821.5h1M264 744.5h1M264 792.5h1M264 797.5h1M264 815.5h1M264 842.5h1M264 866.5h1M265 739.5h1M265 743.5h1M265 747.5h1M265 754.5h1M265 838.5h1M266 743.5h1M266 744.5h1M267 752.5h1M267 834.5h1M268 795.5h1M268 798.5h1M269 739.5h1M269 748.5h1M269 751.5h1M269 821.5h1M269 828.5h1M270 748.5h1M270 757.5h1M270 798.5h1M270 835.5h1M271 750.5h1M271 764.5h1M271 790.5h1M271 833.5h1M272 771.5h1M272 781.5h1M272 839.5h1M272 850.5h1M272 861.5h1M274 738.5h1M274 742.5h1M274 776.5h1M274 854.5h1M275 741.5h1M275 748.5h1M275 764.5h1M275 769.5h1M276 740.5h1M276 743.5h1M276 752.5h1M278 722.5h1M278 741.5h1M279 750.5h1M279 751.5h1M279 787.5h1M279 804.5h1M279 809.5h1M280 719.5h1M280 741.5h1M280 755.5h1M280 757.5h1M280 811.5h1M280 815.5h1M280 843.5h1M281 754.5h1M281 811.5h1M281 815.5h1M282 793.5h1M282 853.5h1M283 743.5h1M284 754.5h1M284 768.5h1M284 769.5h1M286 809.5h1M286 846.5h1M287 739.5h1M287 742.5h1M287 760.5h1M287 767.5h1M287 784.5h1M288 740.5h1M289 758.5h1M289 849.5h1M290 755.5h1M291 736.5h1M291 738.5h1M291 766.5h1M291 775.5h1M291 789.5h1M292 757.5h1M292 764.5h1M292 784.5h1M293 734.5h1M294 762.5h1M295 731.5h1M295 733.5h1M295 764.5h1M295 767.5h1M295 769.5h1M295 797.5h1M296 735.5h1M296 788.5h1M297 737.5h1M297 793.5h1M297 807.5h1M298 766.5h1M298 772.5h1M298 773.5h1M299 737.5h1M300 770.5h1M301 727.5h1M301 774.5h1M301 776.5h1M301 806.5h1M302 794.5h1M302 805.5h1M303 785.5h1M304 773.5h1M304 789.5h1M304 828.5h1M304 839.5h1M305 733.5h1M305 782.5h1M305 826.5h1M306 729.5h1M306 800.5h1M306 812.5h1M306 817.5h1M307 729.5h1M307 797.5h1M307 803.5h1M307 805.5h1M307 815.5h1M307 822.5h1M308 733.5h1M308 783.5h1M309 813.5h1M309 823.5h1M309 835.5h1M310 735.5h1M310 787.5h1M310 796.5h1M311 771.5h1M311 861.5h1M312 777.5h1M312 787.5h1M312 801.5h1M312 835.5h1M312 848.5h1M313 730.5h1M313 783.5h1M314 747.5h1M314 812.5h1M314 837.5h1M315 727.5h1M315 764.5h1M315 769.5h1M315 777.5h1M315 779.5h1M315 786.5h1M315 819.5h1M316 774.5h1M316 783.5h1M316 797.5h1M317 734.5h1M317 738.5h1M317 755.5h1M317 756.5h1M317 765.5h1M317 768.5h1M317 810.5h1M317 816.5h1M317 829.5h1M318 741.5h1M318 752.5h1M318 758.5h1M319 739.5h1M319 745.5h1M319 778.5h1M319 788.5h1M319 861.5h1M321 740.5h1M321 762.5h1M321 807.5h1M321 812.5h1M322 740.5h1M322 799.5h1M323 761.5h1M323 807.5h1M324 834.5h1M325 747.5h1M325 781.5h1M326 755.5h1M326 804.5h1M327 805.5h1M330 742.5h1M330 841.5h1M332 834.5h1M335 799.5h1M338 809.5h1M345 745.5h1M346 816.5h1M352 726.5h1M353 748.5h1M356 768.5h1M359 741.5h1M360 783.5h1M364 742.5h1M364 758.5h1M364 770.5h1M367 796.5h1" stroke="#c6c6f2"/>
<path d="M214 734.5h1M214 763.5h1M214 787.5h1M214 800.5h1M214 801.5h1M214 816.5h1M214 827.5h1M214 828.5h1M214 834.5h1M214 835.5h1M214 838.5h1M214 850.5h1M216 747.5h1M216 794.5h1M218 785.5h1M218 807.5h1M219 815.5h1M219 822.5h1M219 854.5h1M219 862.5h1M220 813.5h1M220 823.5h1M220 843.5h1M221 796.5h1M223 863.5h1M223 868.5h1M224 787.5h1M225 758.5h1M225 773.5h1M225 825.5h1M226 745.5h1M226 747.5h1M227 798.5h1M227 826.5h1M227 851.5h1M228 730.5h1M228 856.5h1M229 834.5h1M229 839.5h1M230 815.5h1M230 819.5h1M230 831.5h1M230 848.5h1M230 856.5h1M230 860.5h1M231 723.5h1M231 782.5h1M231 818.5h1M231 830.5h1M231 834.5h1M231 843.5h1M231 850.5h1M231 853.5h1M232 805.5h1M232 821.5h1M232 831.5h1M232 853.5h1M233 747.5h1M233 815.5h1M233 829.5h1M234 755.5h1M234 859.5h1M235 795.5h1M235 802.5h1M235 831.5h1M235 834.5h1M235 853.5h1M236 807.5h1M236 828.5h1M236 838.5h1M236 866.5h1M237 739.5h1M237 770.5h1M237 843.5h1M238 760.5h1M238 820.5h1M238 841.5h1M238 857.5h1M239 791.5h1M239 804.5h1M239 845.5h1M239 868.5h1M240 845.5h1M240 852.5h1M241 725.5h1M241 731.5h1M241 750.5h1M241 830.5h1M241 831.5h1M242 820.5h1M243 753.5h1M243 815.5h1M245 787.5h1M245 814.5h1M245 817.5h1M245 868.5h1M247 727.5h1M247 836.5h1M248 832.5h1M248 850.5h1M249 751.5h1M249 798.5h1M249 815.5h1M249 816.5h1M250 770.5h1M250 808.5h1M250 828.5h1M250 840.5h1M251 762.5h1M251 796.5h1M252 747.5h1M252 804.5h1M252 806.5h1M252 865.5h1M253 730.5h1M253 822.5h1M254 801.5h1M254 815.5h1M254 837.5h1M254 852.5h1M255 802.5h1M256 743.5h1M256 758.5h1M256 776.5h1M256 823.5h1M256 839.5h1M256 868.5h1M257 749.5h1M257 752.5h1M257 818.5h1M257 832.5h1M257 838.5h1M257 843.5h1M258 802.5h1M258 811.5h1M259 748.5h1M259 755.5h1M259 758.5h1M260 833.5h1M260 846.5h1M260 852.5h1M260 868.5h1M261 768.5h1M261 841.5h1M261 851.5h1M262 774.5h1M262 840.5h1M262 856.5h1M262 860.5h1M263 725.5h1M263 749.5h1M265 744.5h1M265 793.5h1M265 805.5h1M265 862.5h1M266 741.5h1M266 780.5h1M266 824.5h1M266 827.5h1M266 860.5h1M267 745.5h1M267 786.5h1M267 822.5h1M267 849.5h1M268 790.5h1M268 802.5h1M269 732.5h1M269 812.5h1M269 823.5h1M270 747.5h1M270 759.5h1M270 824.5h1M270 856.5h1M272 744.5h1M272 749.5h1M273 745.5h1M273 750.5h1M273 752.5h1M273 761.5h1M273 820.5h1M274 721.5h1M274 745.5h1M274 751.5h1M275 780.5h1M275 801.5h1M276 744.5h1M276 748.5h1M276 754.5h1M276 782.5h1M276 802.5h1M276 824.5h1M276 828.5h1M277 749.5h1M278 742.5h1M278 750.5h1M278 753.5h1M278 763.5h1M278 770.5h1M279 791.5h1M280 767.5h1M280 792.5h1M281 749.5h1M281 757.5h1M281 794.5h1M282 729.5h1M282 753.5h1M282 780.5h1M283 744.5h1M283 752.5h1M283 769.5h1M283 808.5h1M284 741.5h1M284 751.5h1M284 756.5h1M285 755.5h1M285 774.5h1M285 776.5h1M285 810.5h1M286 751.5h1M286 758.5h1M286 816.5h1M286 839.5h1M287 749.5h1M287 753.5h1M287 868.5h1M288 751.5h1M289 754.5h1M291 739.5h1M291 755.5h1M291 758.5h1M291 786.5h1M291 842.5h1M292 737.5h1M292 772.5h1M292 791.5h1M292 809.5h1M292 821.5h1M293 737.5h1M293 740.5h1M293 753.5h1M293 760.5h1M293 762.5h1M293 766.5h1M293 774.5h1M293 776.5h1M294 737.5h1M294 782.5h1M295 730.5h1M295 734.5h1M295 763.5h1M295 786.5h1M296 762.5h1M296 770.5h1M296 854.5h1M296 857.5h1M297 735.5h1M297 757.5h1M297 786.5h1M297 787.5h1M298 734.5h1M298 758.5h1M298 771.5h1M298 776.5h1M298 799.5h1M299 758.5h1M299 759.5h1M299 763.5h1M299 809.5h1M299 822.5h1M299 844.5h1M300 731.5h1M300 784.5h1M300 810.5h1M300 820.5h1M300 828.5h1M301 736.5h1M301 764.5h1M301 783.5h1M301 788.5h1M302 732.5h1M302 776.5h1M302 851.5h1M303 765.5h1M303 766.5h1M303 770.5h1M303 783.5h1M303 807.5h1M304 724.5h1M304 727.5h1M304 775.5h1M304 780.5h1M305 780.5h1M306 764.5h1M306 765.5h1M306 767.5h1M306 778.5h1M306 779.5h1M306 780.5h1M306 782.5h1M307 736.5h1M307 765.5h1M307 769.5h1M307 772.5h1M307 777.5h1M307 779.5h1M307 780.5h1M307 783.5h1M308 763.5h1M308 768.5h1M308 779.5h1M308 784.5h1M308 805.5h1M308 809.5h1M309 766.5h1M310 773.5h1M310 779.5h1M310 782.5h1M310 783.5h1M310 790.5h1M310 807.5h1M311 726.5h1M311 733.5h1M311 754.5h1M311 765.5h1M311 773.5h1M311 774.5h1M311 780.5h1M311 801.5h1M311 840.5h1M312 772.5h1M312 799.5h1M313 724.5h1M313 738.5h1M313 741.5h1M313 752.5h1M313 755.5h1M313 762.5h1M313 777.5h1M313 778.5h1M313 802.5h1M313 835.5h1M314 739.5h1M314 749.5h1M314 753.5h1M314 755.5h1M314 756.5h1M314 757.5h1M314 758.5h1M314 761.5h1M314 773.5h1M314 778.5h1M314 852.5h1M315 741.5h1M315 747.5h1M315 760.5h1M315 761.5h1M315 762.5h1M316 735.5h1M316 737.5h1M316 763.5h1M316 767.5h1M316 788.5h1M316 802.5h1M317 746.5h1M317 758.5h1M317 763.5h1M317 770.5h1M317 771.5h1M317 784.5h1M317 804.5h1M318 748.5h1M318 763.5h1M318 765.5h1M318 808.5h1M318 810.5h1M319 735.5h1M319 749.5h1M319 751.5h1M319 755.5h1M319 758.5h1M319 761.5h1M319 800.5h1M319 854.5h1M320 757.5h1M320 758.5h1M320 763.5h1M320 810.5h1M321 756.5h1M321 761.5h1M321 778.5h1M321 781.5h1M321 831.5h1M322 749.5h1M322 766.5h1M323 751.5h1M323 755.5h1M323 806.5h1M324 811.5h1M327 757.5h1M327 766.5h1M327 778.5h1M328 747.5h1M331 730.5h1M331 817.5h1M334 781.5h1M335 846.5h1M337 800.5h1M340 745.5h1M344 809.5h1M347 810.5h1M348 845.5h1M353 852.5h1M357 760.5h1M360 751.5h1M362 721.5h1M362 766.5h1M365 781.5h1M366 798.5h1M367 784.5h1" stroke="#aeaeea"/>
<path d="M214 757.5h1M214 771.5h1M214 829.5h1M214 844.5h1M217 788.5h1M217 862.5h1M218 714.5h1M220 834.5h1M221 812.5h1M224 737.5h1M224 844.5h1M227 821.5h1M227 835.5h1M227 848.5h1M228 727.5h1M228 845.5h1M228 854.5h1M230 778.5h1M230 826.5h1M231 753.5h1M231 819.5h1M232 747.5h1M232 819.5h1M232 849.5h1M233 828.5h1M234 855.5h1M236 727.5h1M236 819.5h1M237 791.5h1M237 811.5h1M237 868.5h1M239 752.5h1M239 780.5h1M239 792.5h1M239 833.5h1M239 848.5h1M241 715.5h1M242 729.5h1M242 823.5h1M243 852.5h1M245 819.5h1M247 835.5h1M248 842.5h1M249 745.5h1M250 839.5h1M251 742.5h1M252 752.5h1M252 820.5h1M253 750.5h1M254 803.5h1M254 820.5h1M256 747.5h1M256 748.5h1M256 828.5h1M257 732.5h1M257 748.5h1M257 829.5h1M258 855.5h1M259 752.5h1M259 810.5h1M259 845.5h1M259 849.5h1M260 748.5h1M260 751.5h1M260 835.5h1M261 752.5h1M263 744.5h1M263 771.5h1M263 774.5h1M263 817.5h1M263 819.5h1M263 845.5h1M264 745.5h1M264 748.5h1M264 749.5h1M264 762.5h1M264 780.5h1M265 865.5h1M266 747.5h1M266 751.5h1M266 778.5h1M266 790.5h1M267 753.5h1M267 776.5h1M267 809.5h1M268 742.5h1M268 747.5h1M268 748.5h1M270 744.5h1M270 775.5h1M271 738.5h1M271 743.5h1M271 746.5h1M271 748.5h1M271 749.5h1M272 746.5h1M273 743.5h1M273 747.5h1M273 748.5h1M273 751.5h1M273 789.5h1M274 778.5h1M275 781.5h1M275 789.5h1M276 753.5h1M276 756.5h1M277 743.5h1M277 745.5h1M277 747.5h1M277 748.5h1M277 751.5h1M277 809.5h1M278 743.5h1M278 744.5h1M279 746.5h1M280 743.5h1M281 718.5h1M281 741.5h1M281 748.5h1M281 863.5h1M282 743.5h1M282 750.5h1M282 848.5h1M283 812.5h1M285 743.5h1M285 749.5h1M285 753.5h1M285 828.5h1M286 742.5h1M286 752.5h1M287 754.5h1M288 753.5h1M288 760.5h1M290 753.5h1M291 741.5h1M291 771.5h1M292 742.5h1M292 765.5h1M293 733.5h1M293 756.5h1M293 758.5h1M294 738.5h1M294 753.5h1M295 735.5h1M295 756.5h1M296 755.5h1M296 760.5h1M297 760.5h1M297 772.5h1M298 759.5h1M299 820.5h1M300 776.5h1M301 769.5h1M302 734.5h1M302 764.5h1M302 775.5h1M302 777.5h1M303 758.5h1M303 769.5h1M303 784.5h1M304 766.5h1M304 770.5h1M305 760.5h1M305 772.5h1M305 774.5h1M305 775.5h1M305 788.5h1M305 793.5h1M306 734.5h1M306 736.5h1M306 768.5h1M306 769.5h1M306 785.5h1M306 790.5h1M306 798.5h1M307 773.5h1M307 774.5h1M308 730.5h1M308 769.5h1M308 772.5h1M308 775.5h1M308 776.5h1M308 786.5h1M309 765.5h1M309 770.5h1M310 766.5h1M310 786.5h1M310 788.5h1M311 731.5h1M311 775.5h1M311 781.5h1M312 736.5h1M312 756.5h1M312 780.5h1M312 783.5h1M312 786.5h1M313 758.5h1M313 763.5h1M313 764.5h1M313 766.5h1M313 773.5h1M313 781.5h1M313 797.5h1M314 764.5h1M314 767.5h1M314 779.5h1M314 781.5h1M314 785.5h1M314 834.5h1M315 738.5h1M315 748.5h1M315 751.5h1M315 778.5h1M316 744.5h1M316 745.5h1M316 746.5h1M316 747.5h1M316 748.5h1M316 749.5h1M316 758.5h1M316 775.5h1M317 748.5h1M318 751.5h1M318 836.5h1M320 742.5h1M323 746.5h1M323 783.5h1M323 792.5h1M324 741.5h1M324 748.5h1M337 773.5h1" stroke="#7070d0"/>
<path d="M214 803.5h1M214 843.5h1M215 816.5h1M215 854.5h1M218 825.5h1M219 863.5h1M221 820.5h1M231 828.5h1M231 829.5h1M233 749.5h1M233 805.5h1M233 821.5h1M234 714.5h1M234 851.5h1M236 775.5h1M236 825.5h1M236 850.5h1M236 868.5h1M241 854.5h1M246 855.5h1M247 757.5h1M250 781.5h1M251 814.5h1M251 839.5h1M251 841.5h1M253 767.5h1M262 749.5h1M263 839.5h1M265 748.5h1M266 809.5h1M269 744.5h1M272 743.5h1M272 745.5h1M272 852.5h1M274 744.5h1M274 779.5h1M275 745.5h1M275 747.5h1M275 802.5h1M278 745.5h1M278 801.5h1M280 745.5h1M280 751.5h1M280 758.5h1M280 774.5h1M280 840.5h1M282 745.5h1M283 746.5h1M283 772.5h1M284 743.5h1M284 744.5h1M285 752.5h1M286 753.5h1M287 743.5h1M289 741.5h1M296 758.5h1M297 758.5h1M298 760.5h1M298 761.5h1M298 769.5h1M299 761.5h1M299 764.5h1M301 761.5h1M301 763.5h1M301 766.5h1M301 771.5h1M301 786.5h1M302 762.5h1M302 763.5h1M302 766.5h1M303 735.5h1M304 736.5h1M304 765.5h1M304 767.5h1M304 827.5h1M305 766.5h1M305 779.5h1M306 773.5h1M306 776.5h1M307 767.5h1M308 770.5h1M308 777.5h1M308 787.5h1M308 865.5h1M309 729.5h1M309 773.5h1M309 774.5h1M309 828.5h1M310 738.5h1M310 774.5h1M310 781.5h1M311 737.5h1M311 763.5h1M311 770.5h1M311 778.5h1M311 784.5h1M312 761.5h1M312 762.5h1M312 766.5h1M312 770.5h1M312 773.5h1M312 802.5h1M313 761.5h1M313 780.5h1M314 768.5h1M314 782.5h1M315 744.5h1M315 749.5h1M315 756.5h1M315 763.5h1M315 770.5h1M317 742.5h1M317 757.5h1M318 743.5h1M318 747.5h1M318 772.5h1M321 746.5h1M321 752.5h1M321 786.5h1M322 809.5h1M323 745.5h1M334 863.5h1M357 861.5h1M365 715.5h1" stroke="#5252c0"/>
<path d="M214 807.5h1M219 834.5h1M234 841.5h1M235 854.5h1M238 802.5h1M238 818.5h1M251 823.5h1M255 747.5h1M256 824.5h1M257 772.5h1M265 749.5h1M267 743.5h1M268 745.5h1M272 750.5h1M274 748.5h1M279 749.5h1M279 839.5h1M280 749.5h1M280 786.5h1M282 749.5h1M287 751.5h1M292 741.5h1M294 758.5h1M295 766.5h1M296 738.5h1M298 767.5h1M299 736.5h1M301 758.5h1M302 781.5h1M302 786.5h1M304 768.5h1M304 777.5h1M305 731.5h1M307 776.5h1M309 771.5h1M310 811.5h1M311 755.5h1M311 809.5h1M312 755.5h1M312 767.5h1M312 768.5h1M313 769.5h1M314 743.5h1M315 759.5h1M316 752.5h1M316 764.5h1M317 773.5h1M318 749.5h1M318 759.5h1M320 759.5h1" stroke="#34347c"/>
<path d="M299 747.5h1M299 748.5h1M300 742.5h1M300 749.5h1M301 747.5h1M301 749.5h1M301 750.5h1M302 749.5h1M304 749.5h1M305 742.5h1M305 743.5h1M305 749.5h1M305 750.5h1M306 742.5h1M307 742.5h1M307 745.5h1M307 748.5h1M308 743.5h1M308 746.5h1M309 744.5h1M309 747.5h1" stroke="#b4d838"/>
<path d="M291 747.5h1M293 749.5h1M294 745.5h1M294 746.5h1M294 748.5h1M295 744.5h1M295 746.5h1M295 747.5h1M295 748.5h1M296 744.5h1M296 745.5h1M296 747.5h1M296 748.5h1M296 750.5h1M297 743.5h1M297 744.5h1M297 745.5h1M297 746.5h1M297 747.5h1M297 748.5h1M297 749.5h1M297 750.5h1M298 742.5h1M298 743.5h1M298 744.5h1M298 745.5h1M298 746.5h1M298 747.5h1M298 748.5h1M298 749.5h1M298 750.5h1M299 741.5h1M299 742.5h1M299 743.5h1M299 744.5h1M299 749.5h1M299 750.5h1M299 751.5h1M299 752.5h1M300 740.5h1M300 741.5h1M300 743.5h1M300 750.5h1M300 751.5h1M300 752.5h1M300 753.5h1M301 740.5h1M301 741.5h1M301 742.5h1M301 751.5h1M301 752.5h1M301 754.5h1M302 740.5h1M302 741.5h1M302 742.5h1M302 750.5h1M302 751.5h1M302 752.5h1M302 753.5h1M303 741.5h1M303 750.5h1M303 751.5h1M303 752.5h1M304 739.5h1M304 741.5h1M304 742.5h1M304 750.5h1M304 751.5h1M304 753.5h1M305 740.5h1M305 741.5h1M305 751.5h1M306 739.5h1M306 741.5h1M306 750.5h1M306 751.5h1M306 752.5h1M307 741.5h1M307 749.5h1M307 750.5h1M307 751.5h1M307 752.5h1M308 741.5h1M308 742.5h1M308 747.5h1M308 748.5h1M308 749.5h1M308 750.5h1M309 741.5h1M309 742.5h1M309 743.5h1M309 745.5h1M309 746.5h1M309 748.5h1M309 749.5h1M310 743.5h1M310 744.5h1M310 745.5h1M310 746.5h1M310 748.5h1M311 744.5h1M311 745.5h1M311 746.5h1M311 748.5h1" stroke="#5ccc4c"/>
<path d="M299 746.5h1M300 746.5h1M300 747.5h1M300 748.5h1M301 743.5h1M301 744.5h1M303 742.5h1M303 743.5h1M303 746.5h1M304 743.5h1M305 747.5h1M305 748.5h1M306 743.5h1M306 748.5h1M306 749.5h1M307 743.5h1M308 744.5h1" stroke="#f0cc28"/>
<path d="M269 745.5h1M272 747.5h1M273 749.5h1M274 747.5h1M274 749.5h1M276 750.5h1M277 744.5h1M278 749.5h1M280 747.5h1M280 748.5h1M281 747.5h1M282 746.5h1M282 748.5h1M283 745.5h1M283 747.5h1M283 748.5h1M284 745.5h1M284 746.5h1M284 747.5h1M284 749.5h1M285 745.5h1M285 746.5h1M285 750.5h1M286 745.5h1M286 747.5h1M286 749.5h1M287 745.5h1M287 747.5h1M287 748.5h1M287 750.5h1M288 743.5h1M288 750.5h1M289 743.5h1M289 751.5h1M290 743.5h1M290 751.5h1M291 742.5h1M291 750.5h1M291 751.5h1M292 751.5h1M292 752.5h1M293 743.5h1M294 740.5h1M294 741.5h1M294 742.5h1M294 754.5h1M295 753.5h1M296 739.5h1M296 740.5h1M296 756.5h1M297 754.5h1M298 738.5h1M298 739.5h1M298 753.5h1M298 755.5h1M298 757.5h1M299 754.5h1M299 755.5h1M299 756.5h1M299 757.5h1M300 756.5h1M300 760.5h1M300 761.5h1M301 737.5h1M301 757.5h1M301 759.5h1M301 760.5h1M301 762.5h1M302 737.5h1M302 757.5h1M303 737.5h1M303 756.5h1M303 760.5h1M303 761.5h1M303 763.5h1M303 764.5h1M304 756.5h1M304 758.5h1M304 760.5h1M304 761.5h1M304 764.5h1M304 772.5h1M305 737.5h1M305 756.5h1M305 757.5h1M305 758.5h1M305 759.5h1M305 761.5h1M305 762.5h1M305 768.5h1M305 769.5h1M305 771.5h1M305 773.5h1M306 757.5h1M306 758.5h1M306 759.5h1M306 760.5h1M306 761.5h1M306 763.5h1M306 771.5h1M306 772.5h1M306 781.5h1M307 756.5h1M307 758.5h1M307 759.5h1M307 761.5h1M307 762.5h1M307 763.5h1M307 764.5h1M307 768.5h1M307 778.5h1M308 755.5h1M308 758.5h1M308 759.5h1M308 760.5h1M308 761.5h1M308 762.5h1M308 778.5h1M308 781.5h1M309 736.5h1M309 737.5h1M309 738.5h1M309 755.5h1M309 756.5h1M309 758.5h1M309 759.5h1M309 762.5h1M309 763.5h1M309 767.5h1M309 769.5h1M309 776.5h1M309 779.5h1M310 754.5h1M310 755.5h1M310 758.5h1M310 759.5h1M310 760.5h1M310 761.5h1M310 762.5h1M310 763.5h1M310 764.5h1M310 765.5h1M310 767.5h1M310 780.5h1M311 751.5h1M311 757.5h1M311 758.5h1M311 759.5h1M311 760.5h1M311 761.5h1M311 766.5h1M311 767.5h1M311 768.5h1M311 769.5h1M311 777.5h1M311 779.5h1M312 740.5h1M312 748.5h1M312 750.5h1M312 752.5h1M312 758.5h1M312 763.5h1M313 740.5h1M313 742.5h1M313 743.5h1M313 746.5h1M313 748.5h1M313 750.5h1M313 751.5h1M313 760.5h1M313 765.5h1M313 776.5h1M314 745.5h1M314 748.5h1M314 750.5h1M314 751.5h1M314 752.5h1M315 750.5h1M315 752.5h1M315 753.5h1" stroke="#3f7fe0"/>
<path d="M300 745.5h1M301 745.5h1M301 746.5h1M302 745.5h1M302 746.5h1M302 747.5h1M302 748.5h1M303 744.5h1M303 745.5h1M303 747.5h1M303 748.5h1M304 744.5h1M304 745.5h1M304 746.5h1M304 747.5h1M306 744.5h1M306 745.5h1M307 746.5h1" stroke="#ee5a20"/>
<path d="M285 747.5h1M286 746.5h1M287 746.5h1M288 744.5h1M288 745.5h1M288 746.5h1M288 747.5h1M288 748.5h1M288 749.5h1M289 744.5h1M289 745.5h1M289 747.5h1M289 748.5h1M289 749.5h1M289 750.5h1M290 744.5h1M290 745.5h1M290 746.5h1M290 749.5h1M291 743.5h1M292 743.5h1M292 744.5h1M292 746.5h1M292 750.5h1M293 742.5h1M293 744.5h1M293 747.5h1M293 751.5h1M293 752.5h1M294 743.5h1M294 744.5h1M294 751.5h1M294 752.5h1M295 741.5h1M295 743.5h1M295 752.5h1M295 754.5h1M297 740.5h1M297 741.5h1M297 752.5h1M297 753.5h1M297 755.5h1M298 740.5h1M298 754.5h1M299 740.5h1M299 753.5h1M300 737.5h1M300 738.5h1M300 739.5h1M300 755.5h1M301 738.5h1M301 739.5h1M301 755.5h1M301 756.5h1M302 754.5h1M302 755.5h1M302 756.5h1M302 760.5h1M303 738.5h1M303 754.5h1M303 757.5h1M304 738.5h1M304 754.5h1M304 755.5h1M305 738.5h1M305 739.5h1M305 752.5h1M305 754.5h1M305 755.5h1M305 763.5h1M306 738.5h1M306 754.5h1M306 755.5h1M306 762.5h1M307 737.5h1M307 754.5h1M307 757.5h1M308 737.5h1M308 738.5h1M308 753.5h1M308 754.5h1M308 756.5h1M308 757.5h1M309 739.5h1M309 750.5h1M309 752.5h1M309 753.5h1M309 754.5h1M309 757.5h1M309 760.5h1M309 761.5h1M309 775.5h1M310 739.5h1M310 741.5h1M310 751.5h1M310 753.5h1M310 756.5h1M310 757.5h1M310 778.5h1M311 741.5h1M311 742.5h1M311 749.5h1M311 750.5h1M311 752.5h1M312 741.5h1M312 742.5h1M312 743.5h1M312 744.5h1M312 746.5h1M313 744.5h1M313 745.5h1M313 749.5h1" stroke="#30b4d4"/>
<path d="M299 745.5h1M300 744.5h1M301 748.5h1M302 743.5h1M302 744.5h1M303 749.5h1M304 748.5h1M305 744.5h1M305 745.5h1M305 746.5h1M306 746.5h1M306 747.5h1M307 744.5h1M307 747.5h1M308 745.5h1" stroke="#f49a20"/>
<path d="M289 746.5h1M290 747.5h1M290 748.5h1M291 744.5h1M291 745.5h1M291 746.5h1M291 748.5h1M291 749.5h1M292 745.5h1M292 747.5h1M292 749.5h1M293 745.5h1M293 746.5h1M293 748.5h1M293 750.5h1M294 747.5h1M294 749.5h1M294 750.5h1M295 742.5h1M295 745.5h1M295 749.5h1M295 750.5h1M295 751.5h1M296 741.5h1M296 742.5h1M296 743.5h1M296 746.5h1M296 749.5h1M296 751.5h1M296 752.5h1M297 742.5h1M297 751.5h1M298 741.5h1M298 751.5h1M299 739.5h1M300 754.5h1M301 753.5h1M302 738.5h1M302 739.5h1M303 739.5h1M303 740.5h1M303 753.5h1M303 755.5h1M304 740.5h1M304 752.5h1M305 753.5h1M306 740.5h1M306 753.5h1M307 738.5h1M307 739.5h1M307 740.5h1M307 753.5h1M308 739.5h1M308 740.5h1M308 751.5h1M308 752.5h1M309 740.5h1M309 751.5h1M310 742.5h1M310 747.5h1M310 749.5h1M310 750.5h1M311 740.5h1M311 743.5h1M311 747.5h1M312 745.5h1M312 749.5h1" stroke="#38c488"/>
</g>
<path d="M214 868.9v-3M214 868.9h3M225.59 868.9v-1.5M214 857.28h1.5M232.37 868.9v-1.5M214 850.48h1.5M237.18 868.9v-1.5M214 845.66h1.5M240.91 868.9v-1.5M214 841.92h1.5M243.96 868.9v-1.5M214 838.86h1.5M246.54 868.9v-1.5M214 836.28h1.5M248.77 868.9v-1.5M214 834.04h1.5M250.74 868.9v-1.5M214 832.07h1.5M252.5 868.9v-3M214 830.3h3M264.09 868.9v-1.5M214 818.68h1.5M270.87 868.9v-1.5M214 811.88h1.5M275.68 868.9v-1.5M214 807.06h1.5M279.41 868.9v-1.5M214 803.32h1.5M282.46 868.9v-1.5M214 800.26h1.5M285.04 868.9v-1.5M214 797.68h1.5M287.27 868.9v-1.5M214 795.44h1.5M289.24 868.9v-1.5M214 793.47h1.5M291 868.9v-3M214 791.7h3M302.59 868.9v-1.5M214 780.08h1.5M309.37 868.9v-1.5M214 773.28h1.5M314.18 868.9v-1.5M214 768.46h1.5M317.91 868.9v-1.5M214 764.72h1.5M320.96 868.9v-1.5M214 761.66h1.5M323.54 868.9v-1.5M214 759.08h1.5M325.77 868.9v-1.5M214 756.84h1.5M327.74 868.9v-1.5M214 754.87h1.5M329.5 868.9v-3M214 753.1h3M341.09 868.9v-1.5M214 741.48h1.5M347.87 868.9v-1.5M214 734.68h1.5M352.68 868.9v-1.5M214 729.86h1.5M356.41 868.9v-1.5M214 726.12h1.5M359.46 868.9v-1.5M214 723.06h1.5M362.04 868.9v-1.5M214 720.48h1.5M364.27 868.9v-1.5M214 718.24h1.5M366.24 868.9v-1.5M214 716.27h1.5" stroke="#777" stroke-width="0.7" fill="none"/>
<text x="209.8" y="882.1" class="t2" font-size="6.3" font-weight="normal" fill="#222">10<tspan font-size="4.2" dy="-2.4">0</tspan></text>
<text x="199.5" y="871.1" class="t2" font-size="6.3" font-weight="normal" fill="#222">10<tspan font-size="4.2" dy="-2.4">0</tspan></text>
<text x="248.3" y="882.1" class="t2" font-size="6.3" font-weight="normal" fill="#222">10<tspan font-size="4.2" dy="-2.4">1</tspan></text>
<text x="199.5" y="832.5" class="t2" font-size="6.3" font-weight="normal" fill="#222">10<tspan font-size="4.2" dy="-2.4">1</tspan></text>
<text x="286.8" y="882.1" class="t2" font-size="6.3" font-weight="normal" fill="#222">10<tspan font-size="4.2" dy="-2.4">2</tspan></text>
<text x="199.5" y="793.9" class="t2" font-size="6.3" font-weight="normal" fill="#222">10<tspan font-size="4.2" dy="-2.4">2</tspan></text>
<text x="325.3" y="882.1" class="t2" font-size="6.3" font-weight="normal" fill="#222">10<tspan font-size="4.2" dy="-2.4">3</tspan></text>
<text x="199.5" y="755.3" class="t2" font-size="6.3" font-weight="normal" fill="#222">10<tspan font-size="4.2" dy="-2.4">3</tspan></text>
<text x="363.8" y="882.1" class="t2" font-size="6.3" font-weight="normal" fill="#222">10<tspan font-size="4.2" dy="-2.4">4</tspan></text>
<text x="199.5" y="716.7" class="t2" font-size="6.3" font-weight="normal" fill="#222">10<tspan font-size="4.2" dy="-2.4">4</tspan></text>
<rect x="214" y="780.3" width="47.5" height="88.6" fill="none" stroke="#2a2a2a" stroke-width="1"/>
<rect x="259.7" y="724.2" width="33.3" height="32.9" fill="none" stroke="#2a2a2a" stroke-width="1"/>
<rect x="293" y="724.2" width="33.5" height="32.9" fill="none" stroke="#2a2a2a" stroke-width="1"/>
<rect x="293" y="757.1" width="33.5" height="33.6" fill="none" stroke="#2a2a2a" stroke-width="1"/>
<rect x="293.6" y="795.9" width="32.9" height="33.2" fill="none" stroke="#2a2a2a" stroke-width="1"/>
<text x="218.4" y="774.2" font-size="14.3">R0</text>
<text x="240.6" y="733.8" font-size="14.3">R1</text>
<text x="330" y="733.6" font-size="14.3">R2</text>
<text x="330" y="768.5" font-size="14.3">R3</text>
<text x="330" y="804.9" font-size="14.3">R4</text>
<text x="244.5" y="776.79" font-size="20.38" text-anchor="middle" fill="#e8212b" style="stroke:#e8212b;stroke-width:.2px">*</text>
<text x="356.6" y="736.29" font-size="20.38" text-anchor="middle" fill="#e8212b" style="stroke:#e8212b;stroke-width:.2px">*</text>
<text x="356" y="769.89" font-size="20.38" text-anchor="middle" fill="#e8212b" style="stroke:#e8212b;stroke-width:.2px">*</text>
<line x1="47.7" y1="885.9" x2="353" y2="885.9" stroke="#111" stroke-width="1.4"/>
<path d="M358.7 885.9l-7-3v6z" fill="#111"/>
<text x="160" y="900.8" font-size="16.5" textLength="80" lengthAdjust="spacingAndGlyphs">Ter119-PE</text>
<text x="381.8" y="792" font-size="14.5" text-anchor="middle" transform="rotate(-90 381.8 792)" textLength="135.5" lengthAdjust="spacingAndGlyphs">Percent spleen cells</text>
<line x1="400.2" y1="858.2" x2="406" y2="858.2" stroke="#111" stroke-width="1.4"/>
<text x="398.8" y="861" font-size="9.2" text-anchor="end">0</text>
<line x1="400.2" y1="839.14" x2="406" y2="839.14" stroke="#111" stroke-width="1.4"/>
<text x="398.8" y="841.94" font-size="9.2" text-anchor="end">10</text>
<line x1="400.2" y1="820.08" x2="406" y2="820.08" stroke="#111" stroke-width="1.4"/>
<text x="398.8" y="822.88" font-size="9.2" text-anchor="end">20</text>
<line x1="400.2" y1="801.02" x2="406" y2="801.02" stroke="#111" stroke-width="1.4"/>
<text x="398.8" y="803.82" font-size="9.2" text-anchor="end">30</text>
<line x1="400.2" y1="781.96" x2="406" y2="781.96" stroke="#111" stroke-width="1.4"/>
<text x="398.8" y="784.76" font-size="9.2" text-anchor="end">40</text>
<line x1="400.2" y1="762.89" x2="406" y2="762.89" stroke="#111" stroke-width="1.4"/>
<text x="398.8" y="765.69" font-size="9.2" text-anchor="end">50</text>
<line x1="400.2" y1="743.83" x2="406" y2="743.83" stroke="#111" stroke-width="1.4"/>
<text x="398.8" y="746.63" font-size="9.2" text-anchor="end">60</text>
<line x1="400.2" y1="724.77" x2="406" y2="724.77" stroke="#111" stroke-width="1.4"/>
<text x="398.8" y="727.57" font-size="9.2" text-anchor="end">70</text>
<line x1="412.4" y1="818.17" x2="412.4" y2="824.08" stroke="#111" stroke-width="1.2"/>
<line x1="410" y1="818.17" x2="414.8" y2="818.17" stroke="#111" stroke-width="1.3"/>
<rect x="407.4" y="824.08" width="10" height="34.12" fill="#fff" stroke="#111" stroke-width="1.3"/>
<line x1="422.4" y1="838.19" x2="422.4" y2="844.48" stroke="#111" stroke-width="1.2"/>
<line x1="420" y1="838.19" x2="424.8" y2="838.19" stroke="#111" stroke-width="1.3"/>
<rect x="417.4" y="844.48" width="10" height="13.72" fill="#555555" stroke="#111" stroke-width="1.3"/>
<line x1="434.4" y1="845.05" x2="434.4" y2="849.05" stroke="#111" stroke-width="1.2"/>
<line x1="432" y1="845.05" x2="436.8" y2="845.05" stroke="#111" stroke-width="1.3"/>
<rect x="429.4" y="849.05" width="10" height="9.15" fill="#fff" stroke="#111" stroke-width="1.3"/>
<line x1="444.4" y1="840.47" x2="444.4" y2="846.57" stroke="#111" stroke-width="1.2"/>
<line x1="442" y1="840.47" x2="446.8" y2="840.47" stroke="#111" stroke-width="1.3"/>
<rect x="439.4" y="846.57" width="10" height="11.63" fill="#555555" stroke="#111" stroke-width="1.3"/>
<line x1="456.6" y1="748.03" x2="456.6" y2="755.65" stroke="#111" stroke-width="1.2"/>
<line x1="454.2" y1="748.03" x2="459" y2="748.03" stroke="#111" stroke-width="1.3"/>
<rect x="451.6" y="755.65" width="10" height="102.55" fill="#fff" stroke="#111" stroke-width="1.3"/>
<line x1="466.6" y1="735.06" x2="466.6" y2="738.88" stroke="#111" stroke-width="1.2"/>
<line x1="464.2" y1="735.06" x2="469" y2="735.06" stroke="#111" stroke-width="1.3"/>
<rect x="461.6" y="738.88" width="10" height="119.32" fill="#555555" stroke="#111" stroke-width="1.3"/>
<line x1="478.6" y1="832.66" x2="478.6" y2="836.47" stroke="#111" stroke-width="1.2"/>
<line x1="476.2" y1="832.66" x2="481" y2="832.66" stroke="#111" stroke-width="1.3"/>
<rect x="473.6" y="836.47" width="10" height="21.73" fill="#fff" stroke="#111" stroke-width="1.3"/>
<line x1="488.6" y1="823.51" x2="488.6" y2="828.08" stroke="#111" stroke-width="1.2"/>
<line x1="486.2" y1="823.51" x2="491" y2="823.51" stroke="#111" stroke-width="1.3"/>
<rect x="483.6" y="828.08" width="10" height="30.12" fill="#555555" stroke="#111" stroke-width="1.3"/>
<line x1="501.2" y1="851.15" x2="501.2" y2="854.2" stroke="#111" stroke-width="1.2"/>
<line x1="498.8" y1="851.15" x2="503.6" y2="851.15" stroke="#111" stroke-width="1.3"/>
<rect x="496.2" y="854.2" width="10" height="4" fill="#fff" stroke="#111" stroke-width="1.3"/>
<line x1="511.2" y1="853.24" x2="511.2" y2="855.72" stroke="#111" stroke-width="1.2"/>
<line x1="508.8" y1="853.24" x2="513.6" y2="853.24" stroke="#111" stroke-width="1.3"/>
<rect x="506.2" y="855.72" width="10" height="2.48" fill="#555555" stroke="#111" stroke-width="1.3"/>
<rect x="406" y="724.2" width="111.8" height="134" fill="none" stroke="#111" stroke-width="1.6"/>
<line x1="417.4" y1="858.2" x2="417.4" y2="863.2" stroke="#111" stroke-width="1.3"/>
<text x="417.4" y="874" font-size="9.5" text-anchor="middle" textLength="10.4" lengthAdjust="spacingAndGlyphs">R0</text>
<line x1="439.4" y1="858.2" x2="439.4" y2="863.2" stroke="#111" stroke-width="1.3"/>
<text x="439.4" y="874" font-size="9.5" text-anchor="middle" textLength="10.4" lengthAdjust="spacingAndGlyphs">R1</text>
<line x1="461.6" y1="858.2" x2="461.6" y2="863.2" stroke="#111" stroke-width="1.3"/>
<text x="461.6" y="874" font-size="9.5" text-anchor="middle" textLength="10.4" lengthAdjust="spacingAndGlyphs">R2</text>
<line x1="483.6" y1="858.2" x2="483.6" y2="863.2" stroke="#111" stroke-width="1.3"/>
<text x="483.6" y="874" font-size="9.5" text-anchor="middle" textLength="10.4" lengthAdjust="spacingAndGlyphs">R3</text>
<line x1="506.2" y1="858.2" x2="506.2" y2="863.2" stroke="#111" stroke-width="1.3"/>
<text x="506.2" y="874" font-size="9.5" text-anchor="middle" textLength="10.4" lengthAdjust="spacingAndGlyphs">R4</text>
<text x="460.4" y="887.3" font-size="15.5" text-anchor="middle" textLength="63.5" lengthAdjust="spacingAndGlyphs">Erythroid</text>
<text x="461" y="899.5" font-size="15.5" text-anchor="middle" textLength="93" lengthAdjust="spacingAndGlyphs">Compartment</text>
<text x="422.5" y="839.25" font-size="16.58" text-anchor="middle" style="stroke:#111;stroke-width:.2px">*</text>
<text x="466.8" y="737.65" font-size="16.58" text-anchor="middle" style="stroke:#111;stroke-width:.2px">*</text>
<text x="488.6" y="825.95" font-size="16.58" text-anchor="middle" style="stroke:#111;stroke-width:.2px">*</text>
<rect x="404" y="708.3" width="11.6" height="11.6" fill="#fff" stroke="#111" stroke-width="1.1"/>
<text x="418.5" y="719.4" font-size="13.5" font-style="italic">Lyn<tspan font-size="7.83" dy="-4.32">+/+</tspan></text>
<rect x="459.4" y="708.3" width="11.6" height="11.6" fill="#555555" stroke="#111" stroke-width="1.1"/>
<text x="474.5" y="719.4" font-size="13.5" font-style="italic" textLength="43" lengthAdjust="spacingAndGlyphs">Lyn<tspan font-size="7.83" dy="-4.32">+/up</tspan></text>
</g></svg></body></html>
